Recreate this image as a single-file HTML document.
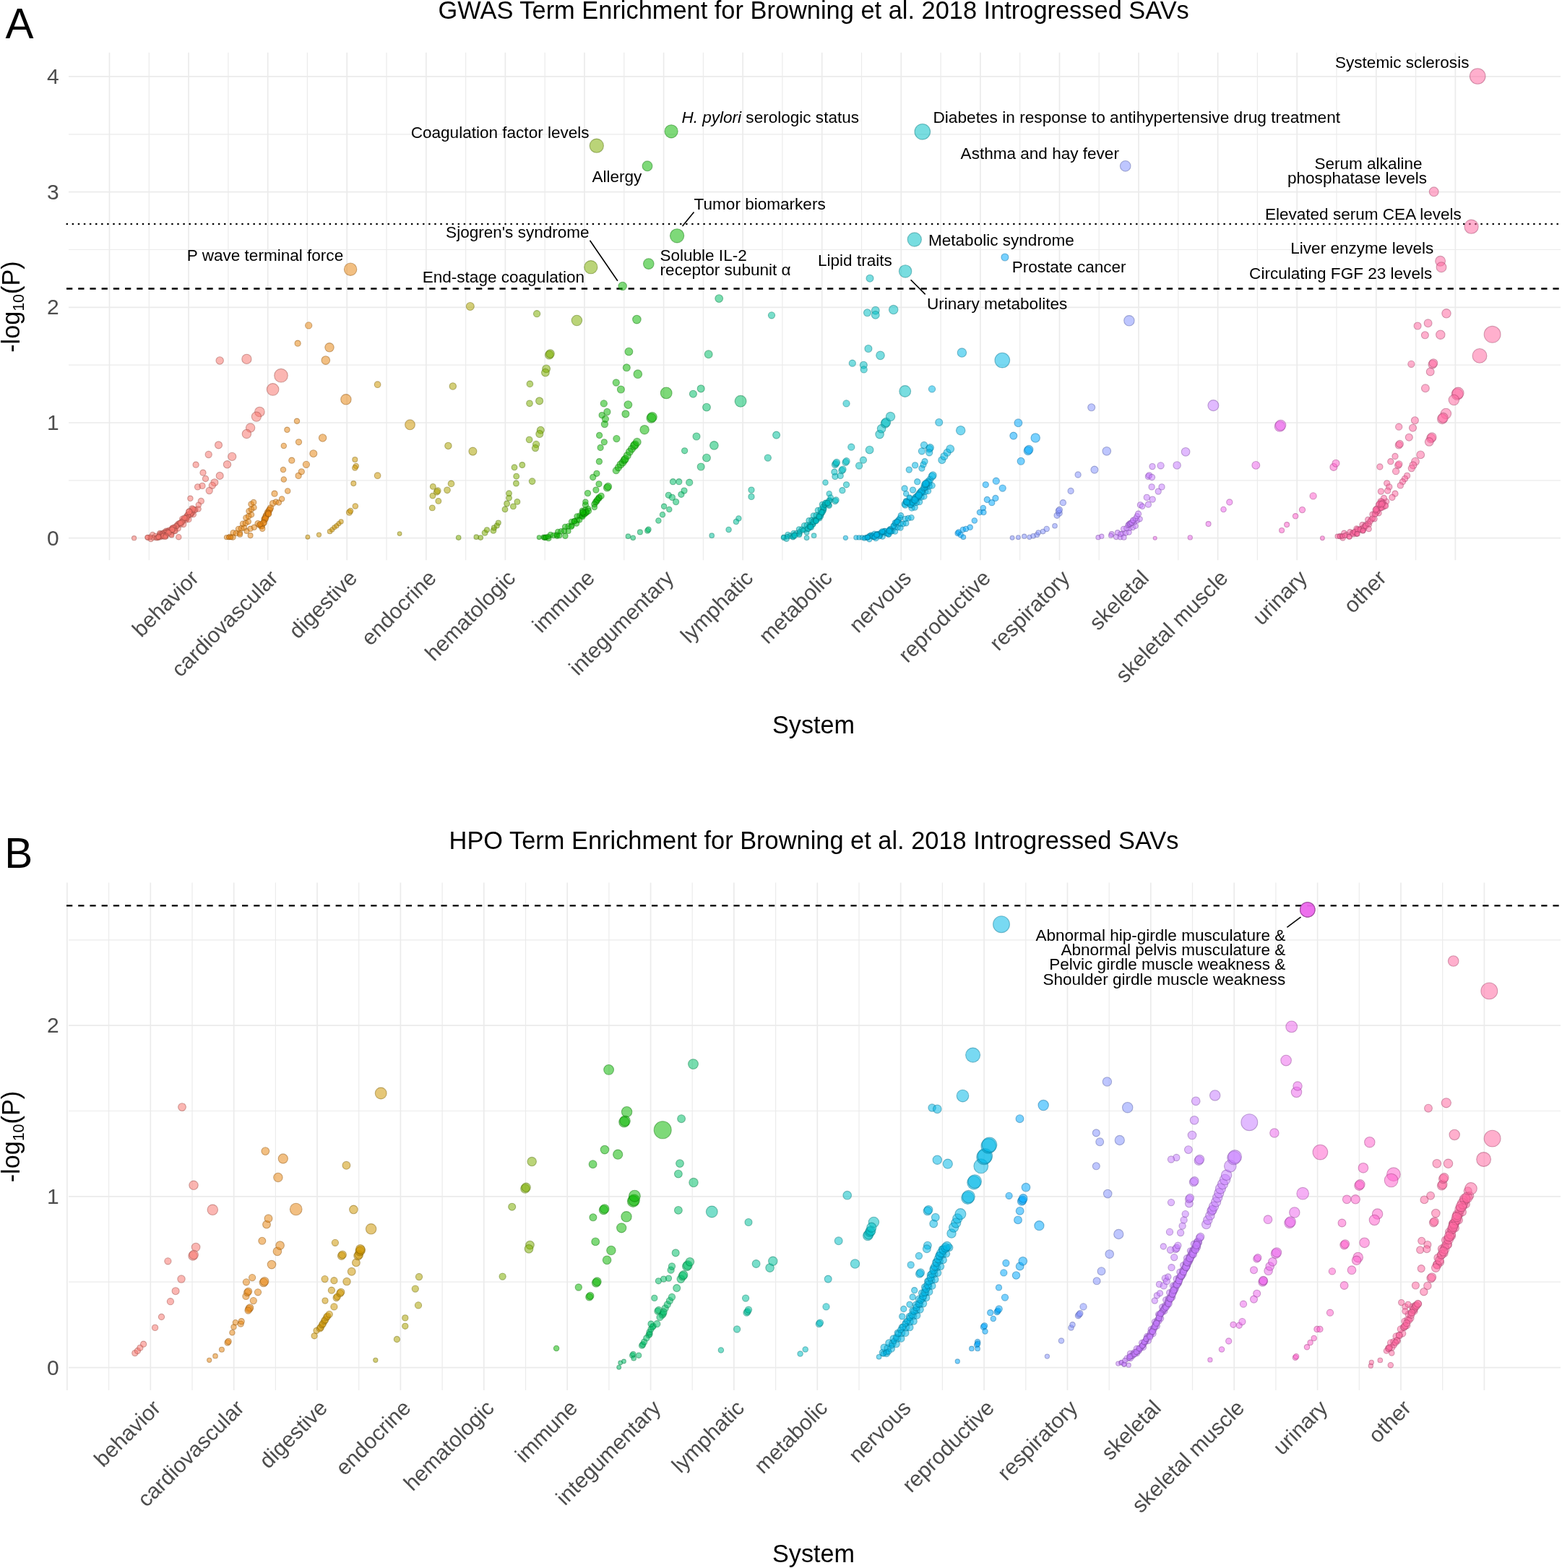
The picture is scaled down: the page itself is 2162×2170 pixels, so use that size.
<!DOCTYPE html>
<html><head><meta charset="utf-8"><title>GWAS and HPO Term Enrichment</title>
<style>html,body{margin:0;padding:0;background:#fff;}svg{display:block;}#w{width:2162px;height:2170px;}</style>
</head><body><div id="w">
<svg width="2162" height="2170" viewBox="0 0 2162 2170">
<rect width="2162" height="2170" fill="#ffffff"/>
<line x1="95" y1="744.7" x2="2160" y2="744.7" stroke="#EBEBEB" stroke-width="1.7"/>
<line x1="95" y1="664.9" x2="2160" y2="664.9" stroke="#EBEBEB" stroke-width="1.2"/>
<line x1="95" y1="585.0" x2="2160" y2="585.0" stroke="#EBEBEB" stroke-width="1.7"/>
<line x1="95" y1="505.2" x2="2160" y2="505.2" stroke="#EBEBEB" stroke-width="1.2"/>
<line x1="95" y1="425.3" x2="2160" y2="425.3" stroke="#EBEBEB" stroke-width="1.7"/>
<line x1="95" y1="345.5" x2="2160" y2="345.5" stroke="#EBEBEB" stroke-width="1.2"/>
<line x1="95" y1="265.6" x2="2160" y2="265.6" stroke="#EBEBEB" stroke-width="1.7"/>
<line x1="95" y1="185.8" x2="2160" y2="185.8" stroke="#EBEBEB" stroke-width="1.2"/>
<line x1="95" y1="105.9" x2="2160" y2="105.9" stroke="#EBEBEB" stroke-width="1.7"/>
<line x1="151.5" y1="72.7" x2="151.5" y2="775.3" stroke="#EBEBEB" stroke-width="1.7"/>
<line x1="206.3" y1="72.7" x2="206.3" y2="775.3" stroke="#EBEBEB" stroke-width="1.2"/>
<line x1="261.1" y1="72.7" x2="261.1" y2="775.3" stroke="#EBEBEB" stroke-width="1.7"/>
<line x1="315.9" y1="72.7" x2="315.9" y2="775.3" stroke="#EBEBEB" stroke-width="1.2"/>
<line x1="370.7" y1="72.7" x2="370.7" y2="775.3" stroke="#EBEBEB" stroke-width="1.7"/>
<line x1="425.4" y1="72.7" x2="425.4" y2="775.3" stroke="#EBEBEB" stroke-width="1.2"/>
<line x1="480.2" y1="72.7" x2="480.2" y2="775.3" stroke="#EBEBEB" stroke-width="1.7"/>
<line x1="535.0" y1="72.7" x2="535.0" y2="775.3" stroke="#EBEBEB" stroke-width="1.2"/>
<line x1="589.8" y1="72.7" x2="589.8" y2="775.3" stroke="#EBEBEB" stroke-width="1.7"/>
<line x1="644.6" y1="72.7" x2="644.6" y2="775.3" stroke="#EBEBEB" stroke-width="1.2"/>
<line x1="699.4" y1="72.7" x2="699.4" y2="775.3" stroke="#EBEBEB" stroke-width="1.7"/>
<line x1="754.2" y1="72.7" x2="754.2" y2="775.3" stroke="#EBEBEB" stroke-width="1.2"/>
<line x1="809.0" y1="72.7" x2="809.0" y2="775.3" stroke="#EBEBEB" stroke-width="1.7"/>
<line x1="863.8" y1="72.7" x2="863.8" y2="775.3" stroke="#EBEBEB" stroke-width="1.2"/>
<line x1="918.6" y1="72.7" x2="918.6" y2="775.3" stroke="#EBEBEB" stroke-width="1.7"/>
<line x1="973.4" y1="72.7" x2="973.4" y2="775.3" stroke="#EBEBEB" stroke-width="1.2"/>
<line x1="1028.1" y1="72.7" x2="1028.1" y2="775.3" stroke="#EBEBEB" stroke-width="1.7"/>
<line x1="1082.9" y1="72.7" x2="1082.9" y2="775.3" stroke="#EBEBEB" stroke-width="1.2"/>
<line x1="1137.7" y1="72.7" x2="1137.7" y2="775.3" stroke="#EBEBEB" stroke-width="1.7"/>
<line x1="1192.5" y1="72.7" x2="1192.5" y2="775.3" stroke="#EBEBEB" stroke-width="1.2"/>
<line x1="1247.3" y1="72.7" x2="1247.3" y2="775.3" stroke="#EBEBEB" stroke-width="1.7"/>
<line x1="1302.1" y1="72.7" x2="1302.1" y2="775.3" stroke="#EBEBEB" stroke-width="1.2"/>
<line x1="1356.9" y1="72.7" x2="1356.9" y2="775.3" stroke="#EBEBEB" stroke-width="1.7"/>
<line x1="1411.7" y1="72.7" x2="1411.7" y2="775.3" stroke="#EBEBEB" stroke-width="1.2"/>
<line x1="1466.5" y1="72.7" x2="1466.5" y2="775.3" stroke="#EBEBEB" stroke-width="1.7"/>
<line x1="1521.2" y1="72.7" x2="1521.2" y2="775.3" stroke="#EBEBEB" stroke-width="1.2"/>
<line x1="1576.0" y1="72.7" x2="1576.0" y2="775.3" stroke="#EBEBEB" stroke-width="1.7"/>
<line x1="1630.8" y1="72.7" x2="1630.8" y2="775.3" stroke="#EBEBEB" stroke-width="1.2"/>
<line x1="1685.6" y1="72.7" x2="1685.6" y2="775.3" stroke="#EBEBEB" stroke-width="1.7"/>
<line x1="1740.4" y1="72.7" x2="1740.4" y2="775.3" stroke="#EBEBEB" stroke-width="1.2"/>
<line x1="1795.2" y1="72.7" x2="1795.2" y2="775.3" stroke="#EBEBEB" stroke-width="1.7"/>
<line x1="1850.0" y1="72.7" x2="1850.0" y2="775.3" stroke="#EBEBEB" stroke-width="1.2"/>
<line x1="1904.8" y1="72.7" x2="1904.8" y2="775.3" stroke="#EBEBEB" stroke-width="1.7"/>
<line x1="1959.6" y1="72.7" x2="1959.6" y2="775.3" stroke="#EBEBEB" stroke-width="1.2"/>
<line x1="2014.4" y1="72.7" x2="2014.4" y2="775.3" stroke="#EBEBEB" stroke-width="1.7"/>
<line x1="92.7" y1="310.0" x2="2160" y2="310.0" stroke="#000" stroke-width="2.5" stroke-linecap="round" stroke-dasharray="0.2 7.89"/>
<line x1="92" y1="399.5" x2="2160" y2="399.5" stroke="#000" stroke-width="2.3" stroke-dasharray="8.3 7.9"/>
<g fill-opacity="0.53" stroke-opacity="0.45" stroke-width="1.1">
<circle cx="205.0" cy="744.0" r="3.8" fill="#F8766D" stroke="#994943"/>
<circle cx="208.8" cy="745.8" r="3.8" fill="#F8766D" stroke="#994943"/>
<circle cx="211.2" cy="740.2" r="3.8" fill="#F8766D" stroke="#994943"/>
<circle cx="215.0" cy="742.0" r="3.8" fill="#F8766D" stroke="#994943"/>
<circle cx="218.8" cy="743.8" r="3.8" fill="#F8766D" stroke="#994943"/>
<circle cx="221.2" cy="738.2" r="3.8" fill="#F8766D" stroke="#994943"/>
<circle cx="225.0" cy="740.0" r="3.8" fill="#F8766D" stroke="#994943"/>
<circle cx="229.1" cy="740.9" r="3.8" fill="#F8766D" stroke="#994943"/>
<circle cx="229.9" cy="734.9" r="3.8" fill="#F8766D" stroke="#994943"/>
<circle cx="234.0" cy="735.8" r="3.8" fill="#F8766D" stroke="#994943"/>
<circle cx="238.1" cy="736.7" r="3.8" fill="#F8766D" stroke="#994943"/>
<circle cx="238.5" cy="731.0" r="3.8" fill="#F8766D" stroke="#994943"/>
<circle cx="242.5" cy="731.2" r="3.8" fill="#F8766D" stroke="#994943"/>
<circle cx="246.5" cy="731.3" r="3.8" fill="#F8766D" stroke="#994943"/>
<circle cx="246.0" cy="725.5" r="3.8" fill="#F8766D" stroke="#994943"/>
<circle cx="250.0" cy="725.7" r="3.8" fill="#F8766D" stroke="#994943"/>
<circle cx="254.0" cy="725.8" r="3.8" fill="#F8766D" stroke="#994943"/>
<circle cx="253.2" cy="720.3" r="3.8" fill="#F8766D" stroke="#994943"/>
<circle cx="257.2" cy="719.7" r="3.8" fill="#F8766D" stroke="#994943"/>
<circle cx="261.2" cy="719.0" r="3.8" fill="#F8766D" stroke="#994943"/>
<circle cx="259.7" cy="713.3" r="3.8" fill="#F8766D" stroke="#994943"/>
<circle cx="263.7" cy="712.7" r="3.8" fill="#F8766D" stroke="#994943"/>
<circle cx="267.7" cy="712.0" r="3.8" fill="#F8766D" stroke="#994943"/>
<circle cx="266.1" cy="706.4" r="3.8" fill="#F8766D" stroke="#994943"/>
<circle cx="270.3" cy="705.3" r="3.8" fill="#F8766D" stroke="#994943"/>
<circle cx="274.5" cy="704.3" r="3.8" fill="#F8766D" stroke="#994943"/>
<circle cx="318.0" cy="743.0" r="3.8" fill="#E68613" stroke="#8E530B"/>
<circle cx="322.3" cy="743.4" r="3.8" fill="#E68613" stroke="#8E530B"/>
<circle cx="322.7" cy="737.3" r="3.8" fill="#E68613" stroke="#8E530B"/>
<circle cx="327.0" cy="737.8" r="3.8" fill="#E68613" stroke="#8E530B"/>
<circle cx="331.9" cy="737.6" r="3.8" fill="#E68613" stroke="#8E530B"/>
<circle cx="330.1" cy="732.0" r="3.8" fill="#E68613" stroke="#8E530B"/>
<circle cx="334.0" cy="731.2" r="3.8" fill="#E68613" stroke="#8E530B"/>
<circle cx="337.9" cy="730.4" r="3.8" fill="#E68613" stroke="#8E530B"/>
<circle cx="336.1" cy="724.8" r="3.8" fill="#E68613" stroke="#8E530B"/>
<circle cx="340.0" cy="724.0" r="3.8" fill="#E68613" stroke="#8E530B"/>
<circle cx="343.7" cy="721.8" r="3.8" fill="#E68613" stroke="#8E530B"/>
<circle cx="340.5" cy="716.6" r="3.8" fill="#E68613" stroke="#8E530B"/>
<circle cx="344.2" cy="714.4" r="3.8" fill="#E68613" stroke="#8E530B"/>
<circle cx="347.9" cy="712.2" r="3.8" fill="#E68613" stroke="#8E530B"/>
<circle cx="344.6" cy="707.3" r="3.8" fill="#E68613" stroke="#8E530B"/>
<circle cx="348.0" cy="704.8" r="3.8" fill="#E68613" stroke="#8E530B"/>
<circle cx="351.4" cy="702.3" r="3.8" fill="#E68613" stroke="#8E530B"/>
<circle cx="347.6" cy="697.7" r="3.8" fill="#E68613" stroke="#8E530B"/>
<circle cx="351.0" cy="695.2" r="3.8" fill="#E68613" stroke="#8E530B"/>
<circle cx="755.0" cy="744.0" r="3.8" fill="#0CB702" stroke="#077101"/>
<circle cx="759.3" cy="744.9" r="3.8" fill="#0CB702" stroke="#077101"/>
<circle cx="762.0" cy="740.1" r="3.8" fill="#0CB702" stroke="#077101"/>
<circle cx="766.2" cy="741.0" r="3.8" fill="#0CB702" stroke="#077101"/>
<circle cx="771.1" cy="741.6" r="3.8" fill="#0CB702" stroke="#077101"/>
<circle cx="772.2" cy="736.0" r="3.8" fill="#0CB702" stroke="#077101"/>
<circle cx="776.7" cy="735.3" r="3.8" fill="#0CB702" stroke="#077101"/>
<circle cx="781.1" cy="734.6" r="3.8" fill="#0CB702" stroke="#077101"/>
<circle cx="782.2" cy="729.0" r="3.8" fill="#0CB702" stroke="#077101"/>
<circle cx="786.7" cy="728.3" r="3.8" fill="#0CB702" stroke="#077101"/>
<circle cx="791.4" cy="727.4" r="3.8" fill="#0CB702" stroke="#077101"/>
<circle cx="791.1" cy="722.1" r="3.8" fill="#0CB702" stroke="#077101"/>
<circle cx="795.0" cy="721.0" r="3.8" fill="#0CB702" stroke="#077101"/>
<circle cx="798.9" cy="719.9" r="3.8" fill="#0CB702" stroke="#077101"/>
<circle cx="798.6" cy="714.6" r="3.8" fill="#0CB702" stroke="#077101"/>
<circle cx="802.5" cy="713.5" r="3.8" fill="#0CB702" stroke="#077101"/>
<circle cx="806.5" cy="712.3" r="3.8" fill="#0CB702" stroke="#077101"/>
<circle cx="806.0" cy="706.9" r="3.8" fill="#0CB702" stroke="#077101"/>
<circle cx="810.0" cy="705.5" r="3.8" fill="#0CB702" stroke="#077101"/>
<circle cx="814.0" cy="704.1" r="3.8" fill="#0CB702" stroke="#077101"/>
<circle cx="1085.0" cy="744.0" r="3.8" fill="#00BFC4" stroke="#007679"/>
<circle cx="1088.6" cy="745.6" r="3.8" fill="#00BFC4" stroke="#007679"/>
<circle cx="1090.4" cy="740.0" r="3.8" fill="#00BFC4" stroke="#007679"/>
<circle cx="1094.0" cy="741.6" r="3.8" fill="#00BFC4" stroke="#007679"/>
<circle cx="1097.6" cy="743.2" r="3.8" fill="#00BFC4" stroke="#007679"/>
<circle cx="1098.5" cy="738.0" r="3.8" fill="#00BFC4" stroke="#007679"/>
<circle cx="1102.5" cy="738.2" r="3.8" fill="#00BFC4" stroke="#007679"/>
<circle cx="1106.5" cy="738.3" r="3.8" fill="#00BFC4" stroke="#007679"/>
<circle cx="1106.0" cy="732.5" r="3.8" fill="#00BFC4" stroke="#007679"/>
<circle cx="1110.0" cy="732.7" r="3.8" fill="#00BFC4" stroke="#007679"/>
<circle cx="1114.0" cy="732.8" r="3.8" fill="#00BFC4" stroke="#007679"/>
<circle cx="1113.2" cy="727.3" r="3.8" fill="#00BFC4" stroke="#007679"/>
<circle cx="1117.1" cy="726.7" r="3.8" fill="#00BFC4" stroke="#007679"/>
<circle cx="1121.1" cy="726.1" r="3.8" fill="#00BFC4" stroke="#007679"/>
<circle cx="1119.6" cy="720.4" r="3.8" fill="#00BFC4" stroke="#007679"/>
<circle cx="1123.6" cy="719.9" r="3.8" fill="#00BFC4" stroke="#007679"/>
<circle cx="1127.5" cy="719.3" r="3.8" fill="#00BFC4" stroke="#007679"/>
<circle cx="1126.0" cy="713.6" r="3.8" fill="#00BFC4" stroke="#007679"/>
<circle cx="1130.0" cy="713.0" r="3.8" fill="#00BFC4" stroke="#007679"/>
<circle cx="1134.0" cy="711.8" r="3.8" fill="#00BFC4" stroke="#007679"/>
<circle cx="1132.0" cy="706.2" r="3.8" fill="#00BFC4" stroke="#007679"/>
<circle cx="1136.0" cy="705.0" r="3.8" fill="#00BFC4" stroke="#007679"/>
<circle cx="1140.0" cy="703.8" r="3.8" fill="#00BFC4" stroke="#007679"/>
<circle cx="1138.0" cy="698.2" r="3.8" fill="#00BFC4" stroke="#007679"/>
<circle cx="1200.0" cy="744.0" r="3.8" fill="#00B8E7" stroke="#00728F"/>
<circle cx="1203.3" cy="746.1" r="3.8" fill="#00B8E7" stroke="#00728F"/>
<circle cx="1205.7" cy="740.7" r="3.8" fill="#00B8E7" stroke="#00728F"/>
<circle cx="1209.0" cy="742.8" r="3.8" fill="#00B8E7" stroke="#00728F"/>
<circle cx="1212.3" cy="744.9" r="3.8" fill="#00B8E7" stroke="#00728F"/>
<circle cx="1214.2" cy="739.6" r="3.8" fill="#00B8E7" stroke="#00728F"/>
<circle cx="1217.9" cy="741.0" r="3.8" fill="#00B8E7" stroke="#00728F"/>
<circle cx="1221.5" cy="742.4" r="3.8" fill="#00B8E7" stroke="#00728F"/>
<circle cx="1222.7" cy="736.6" r="3.8" fill="#00B8E7" stroke="#00728F"/>
<circle cx="1226.4" cy="738.0" r="3.8" fill="#00B8E7" stroke="#00728F"/>
<circle cx="1230.1" cy="739.4" r="3.8" fill="#00B8E7" stroke="#00728F"/>
<circle cx="1231.3" cy="733.6" r="3.8" fill="#00B8E7" stroke="#00728F"/>
<circle cx="1235.0" cy="735.0" r="3.8" fill="#00B8E7" stroke="#00728F"/>
<circle cx="1238.9" cy="735.4" r="3.8" fill="#00B8E7" stroke="#00728F"/>
<circle cx="1238.6" cy="729.6" r="3.8" fill="#00B8E7" stroke="#00728F"/>
<circle cx="1242.5" cy="730.0" r="3.8" fill="#00B8E7" stroke="#00728F"/>
<circle cx="1246.4" cy="730.4" r="3.8" fill="#00B8E7" stroke="#00728F"/>
<circle cx="1246.1" cy="724.6" r="3.8" fill="#00B8E7" stroke="#00728F"/>
<circle cx="1250.0" cy="725.0" r="3.8" fill="#00B8E7" stroke="#00728F"/>
<circle cx="1254.2" cy="724.1" r="3.8" fill="#00B8E7" stroke="#00728F"/>
<circle cx="1253.0" cy="718.1" r="3.8" fill="#00B8E7" stroke="#00728F"/>
<circle cx="1257.2" cy="717.2" r="3.8" fill="#00B8E7" stroke="#00728F"/>
<circle cx="1261.4" cy="716.3" r="3.8" fill="#00B8E7" stroke="#00728F"/>
<circle cx="1262.0" cy="703.0" r="4.2" fill="#00B8E7" stroke="#00728F"/>
<circle cx="1266.1" cy="702.1" r="4.2" fill="#00B8E7" stroke="#00728F"/>
<circle cx="1264.4" cy="696.4" r="4.2" fill="#00B8E7" stroke="#00728F"/>
<circle cx="1268.5" cy="695.5" r="4.2" fill="#00B8E7" stroke="#00728F"/>
<circle cx="1272.6" cy="694.6" r="4.2" fill="#00B8E7" stroke="#00728F"/>
<circle cx="1270.9" cy="688.9" r="4.2" fill="#00B8E7" stroke="#00728F"/>
<circle cx="1275.0" cy="688.0" r="4.2" fill="#00B8E7" stroke="#00728F"/>
<circle cx="1278.9" cy="687.0" r="4.2" fill="#00B8E7" stroke="#00728F"/>
<circle cx="1276.8" cy="681.5" r="4.2" fill="#00B8E7" stroke="#00728F"/>
<circle cx="1280.6" cy="680.5" r="4.2" fill="#00B8E7" stroke="#00728F"/>
<circle cx="1284.5" cy="679.5" r="4.2" fill="#00B8E7" stroke="#00728F"/>
<circle cx="1282.4" cy="674.0" r="4.2" fill="#00B8E7" stroke="#00728F"/>
<circle cx="1286.2" cy="673.0" r="4.2" fill="#00B8E7" stroke="#00728F"/>
<circle cx="1290.1" cy="672.0" r="4.2" fill="#00B8E7" stroke="#00728F"/>
<circle cx="1545.0" cy="743.0" r="3.6" fill="#C77CFF" stroke="#7B4C9E"/>
<circle cx="1550.6" cy="743.4" r="3.6" fill="#C77CFF" stroke="#7B4C9E"/>
<circle cx="1553.8" cy="738.4" r="3.6" fill="#C77CFF" stroke="#7B4C9E"/>
<circle cx="1558.2" cy="737.5" r="3.6" fill="#C77CFF" stroke="#7B4C9E"/>
<circle cx="1562.7" cy="736.6" r="3.6" fill="#C77CFF" stroke="#7B4C9E"/>
<circle cx="1563.5" cy="730.9" r="3.6" fill="#C77CFF" stroke="#7B4C9E"/>
<circle cx="1568.0" cy="730.0" r="3.6" fill="#C77CFF" stroke="#7B4C9E"/>
<circle cx="1571.7" cy="727.9" r="3.6" fill="#C77CFF" stroke="#7B4C9E"/>
<circle cx="1570.3" cy="722.5" r="3.6" fill="#C77CFF" stroke="#7B4C9E"/>
<circle cx="1574.0" cy="720.4" r="3.6" fill="#C77CFF" stroke="#7B4C9E"/>
<circle cx="1577.7" cy="718.3" r="3.6" fill="#C77CFF" stroke="#7B4C9E"/>
<circle cx="1855.0" cy="742.0" r="3.8" fill="#FF68A1" stroke="#9E4063"/>
<circle cx="1858.6" cy="744.3" r="3.8" fill="#FF68A1" stroke="#9E4063"/>
<circle cx="1860.4" cy="737.9" r="3.8" fill="#FF68A1" stroke="#9E4063"/>
<circle cx="1864.0" cy="740.2" r="3.8" fill="#FF68A1" stroke="#9E4063"/>
<circle cx="1867.6" cy="742.5" r="3.8" fill="#FF68A1" stroke="#9E4063"/>
<circle cx="1868.6" cy="736.4" r="3.8" fill="#FF68A1" stroke="#9E4063"/>
<circle cx="1873.0" cy="737.4" r="3.8" fill="#FF68A1" stroke="#9E4063"/>
<circle cx="1877.4" cy="738.4" r="3.8" fill="#FF68A1" stroke="#9E4063"/>
<circle cx="1877.6" cy="731.6" r="3.8" fill="#FF68A1" stroke="#9E4063"/>
<circle cx="1882.0" cy="732.6" r="3.8" fill="#FF68A1" stroke="#9E4063"/>
<circle cx="1887.0" cy="733.2" r="3.8" fill="#FF68A1" stroke="#9E4063"/>
<circle cx="1885.6" cy="726.4" r="3.8" fill="#FF68A1" stroke="#9E4063"/>
<circle cx="1890.2" cy="726.2" r="3.8" fill="#FF68A1" stroke="#9E4063"/>
<circle cx="1894.8" cy="726.0" r="3.8" fill="#FF68A1" stroke="#9E4063"/>
<circle cx="1893.4" cy="719.2" r="3.8" fill="#FF68A1" stroke="#9E4063"/>
<circle cx="1898.0" cy="719.0" r="3.8" fill="#FF68A1" stroke="#9E4063"/>
<circle cx="1902.4" cy="718.1" r="3.8" fill="#FF68A1" stroke="#9E4063"/>
<circle cx="1899.6" cy="711.9" r="3.8" fill="#FF68A1" stroke="#9E4063"/>
<circle cx="1904.0" cy="711.0" r="3.8" fill="#FF68A1" stroke="#9E4063"/>
<circle cx="1908.4" cy="710.1" r="3.8" fill="#FF68A1" stroke="#9E4063"/>
<circle cx="1905.6" cy="703.9" r="3.8" fill="#FF68A1" stroke="#9E4063"/>
<circle cx="1910.0" cy="703.0" r="3.8" fill="#FF68A1" stroke="#9E4063"/>
<circle cx="1914.2" cy="702.0" r="3.8" fill="#FF68A1" stroke="#9E4063"/>
<circle cx="1910.6" cy="696.2" r="3.8" fill="#FF68A1" stroke="#9E4063"/>
<circle cx="1914.8" cy="695.2" r="3.8" fill="#FF68A1" stroke="#9E4063"/>
<circle cx="1919.0" cy="694.2" r="3.8" fill="#FF68A1" stroke="#9E4063"/>
<circle cx="304.2" cy="499.0" r="5.2" fill="#F8766D" stroke="#994943"/>
<circle cx="341.4" cy="496.9" r="6.6" fill="#F8766D" stroke="#994943"/>
<circle cx="389.0" cy="519.7" r="9.3" fill="#F8766D" stroke="#994943"/>
<circle cx="377.6" cy="538.9" r="8.3" fill="#F8766D" stroke="#994943"/>
<circle cx="359.4" cy="570.0" r="6.8" fill="#F8766D" stroke="#994943"/>
<circle cx="354.9" cy="576.6" r="6.6" fill="#F8766D" stroke="#994943"/>
<circle cx="346.6" cy="592.1" r="6.2" fill="#F8766D" stroke="#994943"/>
<circle cx="341.4" cy="600.4" r="6.2" fill="#F8766D" stroke="#994943"/>
<circle cx="302.5" cy="615.9" r="5.0" fill="#F8766D" stroke="#994943"/>
<circle cx="288.7" cy="629.0" r="4.6" fill="#F8766D" stroke="#994943"/>
<circle cx="321.2" cy="631.9" r="5.6" fill="#F8766D" stroke="#994943"/>
<circle cx="314.5" cy="642.8" r="5.2" fill="#F8766D" stroke="#994943"/>
<circle cx="271.1" cy="643.2" r="4.1" fill="#F8766D" stroke="#994943"/>
<circle cx="281.0" cy="654.2" r="4.1" fill="#F8766D" stroke="#994943"/>
<circle cx="284.5" cy="662.5" r="4.1" fill="#F8766D" stroke="#994943"/>
<circle cx="304.2" cy="658.4" r="5.0" fill="#F8766D" stroke="#994943"/>
<circle cx="296.9" cy="667.7" r="5.0" fill="#F8766D" stroke="#994943"/>
<circle cx="293.8" cy="671.8" r="4.6" fill="#F8766D" stroke="#994943"/>
<circle cx="289.7" cy="679.0" r="4.6" fill="#F8766D" stroke="#994943"/>
<circle cx="273.6" cy="673.9" r="4.1" fill="#F8766D" stroke="#994943"/>
<circle cx="280.0" cy="672.4" r="4.1" fill="#F8766D" stroke="#994943"/>
<circle cx="263.4" cy="689.8" r="3.7" fill="#F8766D" stroke="#994943"/>
<circle cx="278.3" cy="693.5" r="4.1" fill="#F8766D" stroke="#994943"/>
<circle cx="274.8" cy="698.7" r="3.7" fill="#F8766D" stroke="#994943"/>
<circle cx="269.0" cy="706.0" r="4.1" fill="#F8766D" stroke="#994943"/>
<circle cx="265.9" cy="709.1" r="4.1" fill="#F8766D" stroke="#994943"/>
<circle cx="264.8" cy="710.1" r="4.1" fill="#F8766D" stroke="#994943"/>
<circle cx="262.8" cy="711.1" r="4.1" fill="#F8766D" stroke="#994943"/>
<circle cx="263.6" cy="710.4" r="4.1" fill="#F8766D" stroke="#994943"/>
<circle cx="259.7" cy="713.2" r="4.1" fill="#F8766D" stroke="#994943"/>
<circle cx="259.7" cy="713.0" r="4.1" fill="#F8766D" stroke="#994943"/>
<circle cx="257.6" cy="716.3" r="4.1" fill="#F8766D" stroke="#994943"/>
<circle cx="258.1" cy="717.2" r="4.1" fill="#F8766D" stroke="#994943"/>
<circle cx="253.5" cy="719.4" r="3.7" fill="#F8766D" stroke="#994943"/>
<circle cx="252.3" cy="718.0" r="3.7" fill="#F8766D" stroke="#994943"/>
<circle cx="251.4" cy="722.5" r="3.7" fill="#F8766D" stroke="#994943"/>
<circle cx="252.4" cy="722.3" r="3.7" fill="#F8766D" stroke="#994943"/>
<circle cx="247.3" cy="725.6" r="3.7" fill="#F8766D" stroke="#994943"/>
<circle cx="248.1" cy="724.1" r="3.7" fill="#F8766D" stroke="#994943"/>
<circle cx="244.2" cy="727.7" r="3.7" fill="#F8766D" stroke="#994943"/>
<circle cx="244.0" cy="728.3" r="3.7" fill="#F8766D" stroke="#994943"/>
<circle cx="241.1" cy="729.8" r="3.7" fill="#F8766D" stroke="#994943"/>
<circle cx="240.2" cy="731.1" r="3.7" fill="#F8766D" stroke="#994943"/>
<circle cx="238.0" cy="731.8" r="3.7" fill="#F8766D" stroke="#994943"/>
<circle cx="239.2" cy="730.4" r="3.7" fill="#F8766D" stroke="#994943"/>
<circle cx="234.9" cy="733.9" r="3.7" fill="#F8766D" stroke="#994943"/>
<circle cx="233.4" cy="734.0" r="3.7" fill="#F8766D" stroke="#994943"/>
<circle cx="231.7" cy="736.0" r="3.7" fill="#F8766D" stroke="#994943"/>
<circle cx="233.1" cy="735.6" r="3.7" fill="#F8766D" stroke="#994943"/>
<circle cx="230.9" cy="735.7" r="3.7" fill="#F8766D" stroke="#994943"/>
<circle cx="228.6" cy="737.6" r="3.7" fill="#F8766D" stroke="#994943"/>
<circle cx="227.2" cy="736.8" r="3.7" fill="#F8766D" stroke="#994943"/>
<circle cx="228.5" cy="737.6" r="3.7" fill="#F8766D" stroke="#994943"/>
<circle cx="225.5" cy="739.1" r="3.7" fill="#F8766D" stroke="#994943"/>
<circle cx="224.7" cy="738.3" r="3.7" fill="#F8766D" stroke="#994943"/>
<circle cx="224.7" cy="738.9" r="3.7" fill="#F8766D" stroke="#994943"/>
<circle cx="222.4" cy="740.5" r="3.7" fill="#F8766D" stroke="#994943"/>
<circle cx="221.8" cy="739.1" r="3.7" fill="#F8766D" stroke="#994943"/>
<circle cx="223.4" cy="740.7" r="3.7" fill="#F8766D" stroke="#994943"/>
<circle cx="220.4" cy="742.2" r="3.7" fill="#F8766D" stroke="#994943"/>
<circle cx="220.8" cy="741.2" r="3.7" fill="#F8766D" stroke="#994943"/>
<circle cx="221.8" cy="743.2" r="3.7" fill="#F8766D" stroke="#994943"/>
<circle cx="247.3" cy="743.2" r="3.7" fill="#F8766D" stroke="#994943"/>
<circle cx="242.5" cy="734.9" r="3.7" fill="#F8766D" stroke="#994943"/>
<circle cx="241.4" cy="734.4" r="3.7" fill="#F8766D" stroke="#994943"/>
<circle cx="236.9" cy="740.1" r="3.3" fill="#F8766D" stroke="#994943"/>
<circle cx="237.6" cy="740.7" r="3.3" fill="#F8766D" stroke="#994943"/>
<circle cx="212.1" cy="744.2" r="3.1" fill="#F8766D" stroke="#994943"/>
<circle cx="207.9" cy="743.2" r="3.1" fill="#F8766D" stroke="#994943"/>
<circle cx="203.8" cy="743.6" r="3.1" fill="#F8766D" stroke="#994943"/>
<circle cx="185.6" cy="744.7" r="3.1" fill="#F8766D" stroke="#994943"/>
<circle cx="216.2" cy="744.7" r="3.1" fill="#F8766D" stroke="#994943"/>
<circle cx="217.5" cy="744.4" r="3.1" fill="#F8766D" stroke="#994943"/>
<circle cx="224.5" cy="742.2" r="3.3" fill="#F8766D" stroke="#994943"/>
<circle cx="225.5" cy="742.7" r="3.3" fill="#F8766D" stroke="#994943"/>
<circle cx="223.9" cy="742.4" r="3.3" fill="#F8766D" stroke="#994943"/>
<circle cx="265.9" cy="703.9" r="4.1" fill="#F8766D" stroke="#994943"/>
<circle cx="267.0" cy="704.9" r="4.1" fill="#F8766D" stroke="#994943"/>
<circle cx="261.8" cy="708.0" r="4.1" fill="#F8766D" stroke="#994943"/>
<circle cx="261.8" cy="708.3" r="4.1" fill="#F8766D" stroke="#994943"/>
<circle cx="256.6" cy="717.3" r="3.7" fill="#F8766D" stroke="#994943"/>
<circle cx="255.2" cy="716.6" r="3.7" fill="#F8766D" stroke="#994943"/>
<circle cx="249.3" cy="724.0" r="3.7" fill="#F8766D" stroke="#994943"/>
<circle cx="250.2" cy="723.7" r="3.7" fill="#F8766D" stroke="#994943"/>
<circle cx="239.0" cy="732.9" r="3.7" fill="#F8766D" stroke="#994943"/>
<circle cx="238.0" cy="733.0" r="3.7" fill="#F8766D" stroke="#994943"/>
<circle cx="232.8" cy="737.0" r="3.7" fill="#F8766D" stroke="#994943"/>
<circle cx="233.4" cy="737.5" r="3.7" fill="#F8766D" stroke="#994943"/>
<circle cx="226.6" cy="741.1" r="3.7" fill="#F8766D" stroke="#994943"/>
<circle cx="226.2" cy="741.0" r="3.7" fill="#F8766D" stroke="#994943"/>
<circle cx="226.6" cy="742.0" r="3.7" fill="#F8766D" stroke="#994943"/>
<circle cx="219.3" cy="743.2" r="3.3" fill="#F8766D" stroke="#994943"/>
<circle cx="219.4" cy="742.9" r="3.3" fill="#F8766D" stroke="#994943"/>
<circle cx="229.7" cy="742.6" r="3.3" fill="#F8766D" stroke="#994943"/>
<circle cx="229.6" cy="741.2" r="3.3" fill="#F8766D" stroke="#994943"/>
<circle cx="228.3" cy="743.2" r="3.3" fill="#F8766D" stroke="#994943"/>
<circle cx="313.5" cy="743.6" r="3.1" fill="#E68613" stroke="#8E530B"/>
<circle cx="316.6" cy="743.6" r="3.1" fill="#E68613" stroke="#8E530B"/>
<circle cx="319.7" cy="743.6" r="3.1" fill="#E68613" stroke="#8E530B"/>
<circle cx="332.1" cy="739.7" r="3.5" fill="#E68613" stroke="#8E530B"/>
<circle cx="341.4" cy="734.9" r="3.5" fill="#E68613" stroke="#8E530B"/>
<circle cx="346.6" cy="731.8" r="3.7" fill="#E68613" stroke="#8E530B"/>
<circle cx="346.6" cy="741.1" r="3.5" fill="#E68613" stroke="#8E530B"/>
<circle cx="351.8" cy="729.8" r="3.7" fill="#E68613" stroke="#8E530B"/>
<circle cx="357.0" cy="724.6" r="4.1" fill="#E68613" stroke="#8E530B"/>
<circle cx="361.1" cy="727.7" r="4.1" fill="#E68613" stroke="#8E530B"/>
<circle cx="362.5" cy="728.0" r="4.1" fill="#E68613" stroke="#8E530B"/>
<circle cx="363.2" cy="731.8" r="3.7" fill="#E68613" stroke="#8E530B"/>
<circle cx="366.3" cy="719.4" r="4.1" fill="#E68613" stroke="#8E530B"/>
<circle cx="365.9" cy="718.4" r="4.1" fill="#E68613" stroke="#8E530B"/>
<circle cx="368.3" cy="713.2" r="4.1" fill="#E68613" stroke="#8E530B"/>
<circle cx="368.3" cy="714.6" r="4.1" fill="#E68613" stroke="#8E530B"/>
<circle cx="370.4" cy="709.1" r="4.1" fill="#E68613" stroke="#8E530B"/>
<circle cx="371.2" cy="709.2" r="4.1" fill="#E68613" stroke="#8E530B"/>
<circle cx="372.5" cy="706.0" r="4.1" fill="#E68613" stroke="#8E530B"/>
<circle cx="373.6" cy="705.1" r="4.1" fill="#E68613" stroke="#8E530B"/>
<circle cx="374.5" cy="702.8" r="4.1" fill="#E68613" stroke="#8E530B"/>
<circle cx="377.6" cy="696.6" r="4.1" fill="#E68613" stroke="#8E530B"/>
<circle cx="381.8" cy="694.6" r="3.7" fill="#E68613" stroke="#8E530B"/>
<circle cx="385.9" cy="695.6" r="3.7" fill="#E68613" stroke="#8E530B"/>
<circle cx="390.1" cy="690.4" r="3.7" fill="#E68613" stroke="#8E530B"/>
<circle cx="367.3" cy="716.3" r="4.1" fill="#E68613" stroke="#8E530B"/>
<circle cx="367.3" cy="717.7" r="4.1" fill="#E68613" stroke="#8E530B"/>
<circle cx="371.4" cy="711.1" r="4.1" fill="#E68613" stroke="#8E530B"/>
<circle cx="371.7" cy="711.0" r="4.1" fill="#E68613" stroke="#8E530B"/>
<circle cx="365.2" cy="723.5" r="4.1" fill="#E68613" stroke="#8E530B"/>
<circle cx="364.5" cy="723.7" r="4.1" fill="#E68613" stroke="#8E530B"/>
<circle cx="359.0" cy="726.6" r="3.7" fill="#E68613" stroke="#8E530B"/>
<circle cx="360.4" cy="725.2" r="3.7" fill="#E68613" stroke="#8E530B"/>
<circle cx="380.0" cy="683.2" r="4.1" fill="#E68613" stroke="#8E530B"/>
<circle cx="398.2" cy="679.5" r="3.7" fill="#E68613" stroke="#8E530B"/>
<circle cx="392.8" cy="663.5" r="3.7" fill="#E68613" stroke="#8E530B"/>
<circle cx="392.0" cy="650.1" r="3.7" fill="#E68613" stroke="#8E530B"/>
<circle cx="403.8" cy="637.2" r="4.1" fill="#E68613" stroke="#8E530B"/>
<circle cx="413.1" cy="658.4" r="4.1" fill="#E68613" stroke="#8E530B"/>
<circle cx="417.3" cy="652.8" r="4.1" fill="#E68613" stroke="#8E530B"/>
<circle cx="423.9" cy="642.8" r="4.6" fill="#E68613" stroke="#8E530B"/>
<circle cx="433.8" cy="627.7" r="5.0" fill="#E68613" stroke="#8E530B"/>
<circle cx="392.8" cy="617.0" r="3.7" fill="#E68613" stroke="#8E530B"/>
<circle cx="413.5" cy="611.8" r="4.1" fill="#E68613" stroke="#8E530B"/>
<circle cx="397.4" cy="594.8" r="3.7" fill="#E68613" stroke="#8E530B"/>
<circle cx="411.0" cy="582.8" r="3.7" fill="#E68613" stroke="#8E530B"/>
<circle cx="446.6" cy="606.0" r="5.2" fill="#E68613" stroke="#8E530B"/>
<circle cx="478.9" cy="552.8" r="7.2" fill="#E68613" stroke="#8E530B"/>
<circle cx="450.8" cy="498.6" r="5.8" fill="#E68613" stroke="#8E530B"/>
<circle cx="456.0" cy="480.8" r="6.2" fill="#E68613" stroke="#8E530B"/>
<circle cx="412.1" cy="475.2" r="4.1" fill="#E68613" stroke="#8E530B"/>
<circle cx="427.2" cy="450.4" r="4.6" fill="#E68613" stroke="#8E530B"/>
<circle cx="425.9" cy="743.2" r="2.9" fill="#CD9600" stroke="#7F5D00"/>
<circle cx="441.5" cy="740.1" r="3.1" fill="#CD9600" stroke="#7F5D00"/>
<circle cx="456.6" cy="735.5" r="3.3" fill="#CD9600" stroke="#7F5D00"/>
<circle cx="459.7" cy="732.9" r="3.1" fill="#CD9600" stroke="#7F5D00"/>
<circle cx="462.8" cy="729.8" r="3.1" fill="#CD9600" stroke="#7F5D00"/>
<circle cx="465.9" cy="727.7" r="3.1" fill="#CD9600" stroke="#7F5D00"/>
<circle cx="469.0" cy="724.6" r="3.1" fill="#CD9600" stroke="#7F5D00"/>
<circle cx="472.1" cy="721.9" r="3.1" fill="#CD9600" stroke="#7F5D00"/>
<circle cx="483.5" cy="709.1" r="4.1" fill="#CD9600" stroke="#7F5D00"/>
<circle cx="485.1" cy="707.0" r="3.7" fill="#CD9600" stroke="#7F5D00"/>
<circle cx="491.8" cy="700.4" r="3.7" fill="#CD9600" stroke="#7F5D00"/>
<circle cx="489.3" cy="669.1" r="3.5" fill="#CD9600" stroke="#7F5D00"/>
<circle cx="491.3" cy="636.0" r="3.5" fill="#CD9600" stroke="#7F5D00"/>
<circle cx="492.8" cy="644.9" r="3.7" fill="#CD9600" stroke="#7F5D00"/>
<circle cx="491.3" cy="647.4" r="3.7" fill="#CD9600" stroke="#7F5D00"/>
<circle cx="522.6" cy="532.2" r="4.3" fill="#CD9600" stroke="#7F5D00"/>
<circle cx="567.5" cy="587.8" r="6.9" fill="#CD9600" stroke="#7F5D00"/>
<circle cx="522.6" cy="658.2" r="4.3" fill="#CD9600" stroke="#7F5D00"/>
<circle cx="553.1" cy="738.6" r="2.9" fill="#ABA300" stroke="#6A6500"/>
<circle cx="598.3" cy="702.9" r="3.9" fill="#ABA300" stroke="#6A6500"/>
<circle cx="606.8" cy="693.4" r="3.9" fill="#ABA300" stroke="#6A6500"/>
<circle cx="598.9" cy="686.1" r="3.9" fill="#ABA300" stroke="#6A6500"/>
<circle cx="604.6" cy="680.8" r="4.3" fill="#ABA300" stroke="#6A6500"/>
<circle cx="605.8" cy="679.2" r="4.3" fill="#ABA300" stroke="#6A6500"/>
<circle cx="599.3" cy="673.4" r="3.9" fill="#ABA300" stroke="#6A6500"/>
<circle cx="619.0" cy="678.3" r="4.3" fill="#ABA300" stroke="#6A6500"/>
<circle cx="624.5" cy="669.4" r="4.3" fill="#ABA300" stroke="#6A6500"/>
<circle cx="620.4" cy="616.9" r="4.7" fill="#ABA300" stroke="#6A6500"/>
<circle cx="654.4" cy="624.6" r="5.5" fill="#ABA300" stroke="#6A6500"/>
<circle cx="626.8" cy="534.5" r="4.7" fill="#ABA300" stroke="#6A6500"/>
<circle cx="650.8" cy="424.0" r="5.5" fill="#ABA300" stroke="#6A6500"/>
<circle cx="634.7" cy="744.1" r="3.3" fill="#7CAE00" stroke="#4C6B00"/>
<circle cx="659.3" cy="743.2" r="3.3" fill="#7CAE00" stroke="#4C6B00"/>
<circle cx="665.2" cy="744.1" r="3.3" fill="#7CAE00" stroke="#4C6B00"/>
<circle cx="671.1" cy="737.3" r="3.9" fill="#7CAE00" stroke="#4C6B00"/>
<circle cx="674.0" cy="733.3" r="3.5" fill="#7CAE00" stroke="#4C6B00"/>
<circle cx="682.9" cy="734.3" r="3.9" fill="#7CAE00" stroke="#4C6B00"/>
<circle cx="683.9" cy="730.4" r="3.5" fill="#7CAE00" stroke="#4C6B00"/>
<circle cx="687.8" cy="727.4" r="3.5" fill="#7CAE00" stroke="#4C6B00"/>
<circle cx="689.8" cy="723.5" r="3.5" fill="#7CAE00" stroke="#4C6B00"/>
<circle cx="699.0" cy="704.8" r="3.9" fill="#7CAE00" stroke="#4C6B00"/>
<circle cx="701.6" cy="697.0" r="3.9" fill="#7CAE00" stroke="#4C6B00"/>
<circle cx="704.5" cy="689.1" r="3.9" fill="#7CAE00" stroke="#4C6B00"/>
<circle cx="704.5" cy="682.8" r="3.9" fill="#7CAE00" stroke="#4C6B00"/>
<circle cx="710.4" cy="700.9" r="3.9" fill="#7CAE00" stroke="#4C6B00"/>
<circle cx="715.9" cy="694.4" r="3.9" fill="#7CAE00" stroke="#4C6B00"/>
<circle cx="714.4" cy="669.0" r="3.9" fill="#7CAE00" stroke="#4C6B00"/>
<circle cx="714.7" cy="659.2" r="3.9" fill="#7CAE00" stroke="#4C6B00"/>
<circle cx="712.0" cy="646.8" r="3.9" fill="#7CAE00" stroke="#4C6B00"/>
<circle cx="722.8" cy="643.5" r="3.9" fill="#7CAE00" stroke="#4C6B00"/>
<circle cx="736.6" cy="666.1" r="4.3" fill="#7CAE00" stroke="#4C6B00"/>
<circle cx="732.6" cy="608.5" r="4.3" fill="#7CAE00" stroke="#4C6B00"/>
<circle cx="733.0" cy="558.3" r="4.3" fill="#7CAE00" stroke="#4C6B00"/>
<circle cx="733.4" cy="531.4" r="4.3" fill="#7CAE00" stroke="#4C6B00"/>
<circle cx="743.1" cy="434.2" r="4.6" fill="#7CAE00" stroke="#4C6B00"/>
<circle cx="798.4" cy="443.5" r="7.2" fill="#7CAE00" stroke="#4C6B00"/>
<circle cx="760.3" cy="491.2" r="5.8" fill="#7CAE00" stroke="#4C6B00"/>
<circle cx="761.5" cy="489.6" r="5.8" fill="#7CAE00" stroke="#4C6B00"/>
<circle cx="756.1" cy="510.4" r="5.4" fill="#7CAE00" stroke="#4C6B00"/>
<circle cx="754.9" cy="515.6" r="5.4" fill="#7CAE00" stroke="#4C6B00"/>
<circle cx="746.6" cy="554.9" r="5.0" fill="#7CAE00" stroke="#4C6B00"/>
<circle cx="748.3" cy="595.3" r="5.0" fill="#7CAE00" stroke="#4C6B00"/>
<circle cx="746.8" cy="600.5" r="5.0" fill="#7CAE00" stroke="#4C6B00"/>
<circle cx="742.1" cy="614.9" r="4.6" fill="#7CAE00" stroke="#4C6B00"/>
<circle cx="741.0" cy="620.1" r="4.6" fill="#7CAE00" stroke="#4C6B00"/>
<circle cx="746.2" cy="743.7" r="2.9" fill="#0CB702" stroke="#077101"/>
<circle cx="752.4" cy="743.3" r="3.3" fill="#0CB702" stroke="#077101"/>
<circle cx="753.3" cy="744.2" r="3.3" fill="#0CB702" stroke="#077101"/>
<circle cx="755.5" cy="743.3" r="3.3" fill="#0CB702" stroke="#077101"/>
<circle cx="758.6" cy="742.7" r="3.3" fill="#0CB702" stroke="#077101"/>
<circle cx="770.6" cy="740.2" r="3.5" fill="#0CB702" stroke="#077101"/>
<circle cx="774.2" cy="741.2" r="3.5" fill="#0CB702" stroke="#077101"/>
<circle cx="782.4" cy="741.8" r="3.7" fill="#0CB702" stroke="#077101"/>
<circle cx="786.6" cy="735.0" r="3.5" fill="#0CB702" stroke="#077101"/>
<circle cx="790.7" cy="728.8" r="3.7" fill="#0CB702" stroke="#077101"/>
<circle cx="798.0" cy="724.6" r="3.7" fill="#0CB702" stroke="#077101"/>
<circle cx="802.1" cy="719.5" r="3.7" fill="#0CB702" stroke="#077101"/>
<circle cx="805.2" cy="714.3" r="3.7" fill="#0CB702" stroke="#077101"/>
<circle cx="806.4" cy="715.0" r="3.7" fill="#0CB702" stroke="#077101"/>
<circle cx="808.3" cy="711.2" r="4.1" fill="#0CB702" stroke="#077101"/>
<circle cx="809.2" cy="711.3" r="4.1" fill="#0CB702" stroke="#077101"/>
<circle cx="811.4" cy="709.1" r="4.1" fill="#0CB702" stroke="#077101"/>
<circle cx="811.6" cy="708.9" r="4.1" fill="#0CB702" stroke="#077101"/>
<circle cx="814.5" cy="707.1" r="4.1" fill="#0CB702" stroke="#077101"/>
<circle cx="810.4" cy="698.8" r="4.1" fill="#0CB702" stroke="#077101"/>
<circle cx="810.4" cy="694.6" r="3.7" fill="#0CB702" stroke="#077101"/>
<circle cx="822.8" cy="697.7" r="4.1" fill="#0CB702" stroke="#077101"/>
<circle cx="825.9" cy="693.6" r="4.1" fill="#0CB702" stroke="#077101"/>
<circle cx="824.6" cy="694.7" r="4.1" fill="#0CB702" stroke="#077101"/>
<circle cx="829.0" cy="689.5" r="4.1" fill="#0CB702" stroke="#077101"/>
<circle cx="829.2" cy="688.6" r="4.1" fill="#0CB702" stroke="#077101"/>
<circle cx="832.1" cy="686.4" r="4.1" fill="#0CB702" stroke="#077101"/>
<circle cx="824.9" cy="678.1" r="4.1" fill="#0CB702" stroke="#077101"/>
<circle cx="829.0" cy="669.8" r="4.1" fill="#0CB702" stroke="#077101"/>
<circle cx="813.5" cy="682.6" r="4.1" fill="#0CB702" stroke="#077101"/>
<circle cx="840.4" cy="675.0" r="5.0" fill="#0CB702" stroke="#077101"/>
<circle cx="841.6" cy="673.4" r="5.0" fill="#0CB702" stroke="#077101"/>
<circle cx="820.7" cy="660.5" r="4.1" fill="#0CB702" stroke="#077101"/>
<circle cx="825.9" cy="655.3" r="4.1" fill="#0CB702" stroke="#077101"/>
<circle cx="829.4" cy="638.7" r="4.1" fill="#0CB702" stroke="#077101"/>
<circle cx="831.1" cy="619.5" r="4.1" fill="#0CB702" stroke="#077101"/>
<circle cx="836.3" cy="611.8" r="4.1" fill="#0CB702" stroke="#077101"/>
<circle cx="829.6" cy="602.5" r="4.1" fill="#0CB702" stroke="#077101"/>
<circle cx="836.9" cy="587.0" r="4.6" fill="#0CB702" stroke="#077101"/>
<circle cx="837.9" cy="579.8" r="4.6" fill="#0CB702" stroke="#077101"/>
<circle cx="833.1" cy="574.6" r="4.1" fill="#0CB702" stroke="#077101"/>
<circle cx="840.4" cy="570.0" r="4.6" fill="#0CB702" stroke="#077101"/>
<circle cx="835.8" cy="558.4" r="4.6" fill="#0CB702" stroke="#077101"/>
<circle cx="852.8" cy="651.2" r="4.6" fill="#0CB702" stroke="#077101"/>
<circle cx="855.9" cy="647.0" r="4.6" fill="#0CB702" stroke="#077101"/>
<circle cx="859.0" cy="642.9" r="5.0" fill="#0CB702" stroke="#077101"/>
<circle cx="862.1" cy="639.8" r="5.0" fill="#0CB702" stroke="#077101"/>
<circle cx="864.2" cy="636.7" r="5.0" fill="#0CB702" stroke="#077101"/>
<circle cx="865.4" cy="635.1" r="5.0" fill="#0CB702" stroke="#077101"/>
<circle cx="868.3" cy="630.5" r="5.0" fill="#0CB702" stroke="#077101"/>
<circle cx="871.4" cy="625.3" r="5.0" fill="#0CB702" stroke="#077101"/>
<circle cx="874.5" cy="621.2" r="5.0" fill="#0CB702" stroke="#077101"/>
<circle cx="877.7" cy="617.0" r="5.4" fill="#0CB702" stroke="#077101"/>
<circle cx="878.9" cy="615.4" r="5.4" fill="#0CB702" stroke="#077101"/>
<circle cx="881.8" cy="611.8" r="5.4" fill="#0CB702" stroke="#077101"/>
<circle cx="892.1" cy="594.7" r="6.2" fill="#0CB702" stroke="#077101"/>
<circle cx="901.5" cy="578.7" r="6.6" fill="#0CB702" stroke="#077101"/>
<circle cx="902.7" cy="577.1" r="6.6" fill="#0CB702" stroke="#077101"/>
<circle cx="922.2" cy="543.9" r="7.9" fill="#0CB702" stroke="#077101"/>
<circle cx="853.4" cy="607.1" r="4.6" fill="#0CB702" stroke="#077101"/>
<circle cx="865.9" cy="572.9" r="5.0" fill="#0CB702" stroke="#077101"/>
<circle cx="869.4" cy="560.1" r="5.4" fill="#0CB702" stroke="#077101"/>
<circle cx="852.8" cy="529.5" r="4.6" fill="#0CB702" stroke="#077101"/>
<circle cx="859.4" cy="539.0" r="5.0" fill="#0CB702" stroke="#077101"/>
<circle cx="867.3" cy="508.8" r="5.0" fill="#0CB702" stroke="#077101"/>
<circle cx="882.8" cy="517.7" r="5.8" fill="#0CB702" stroke="#077101"/>
<circle cx="870.4" cy="486.6" r="5.4" fill="#0CB702" stroke="#077101"/>
<circle cx="881.4" cy="442.1" r="5.8" fill="#0CB702" stroke="#077101"/>
<circle cx="794.9" cy="721.5" r="3.7" fill="#0CB702" stroke="#077101"/>
<circle cx="806.7" cy="709.1" r="4.1" fill="#0CB702" stroke="#077101"/>
<circle cx="806.7" cy="709.1" r="4.1" fill="#0CB702" stroke="#077101"/>
<circle cx="826.9" cy="691.5" r="4.1" fill="#0CB702" stroke="#077101"/>
<circle cx="822.8" cy="701.9" r="3.7" fill="#0CB702" stroke="#077101"/>
<circle cx="869.4" cy="742.2" r="3.3" fill="#00BE67" stroke="#00753F"/>
<circle cx="876.2" cy="744.3" r="3.3" fill="#00BE67" stroke="#00753F"/>
<circle cx="885.9" cy="736.4" r="3.5" fill="#00BE67" stroke="#00753F"/>
<circle cx="896.3" cy="734.4" r="3.7" fill="#00BE67" stroke="#00753F"/>
<circle cx="897.5" cy="732.8" r="3.7" fill="#00BE67" stroke="#00753F"/>
<circle cx="911.4" cy="720.5" r="3.7" fill="#00BE67" stroke="#00753F"/>
<circle cx="917.0" cy="712.2" r="3.7" fill="#00BE67" stroke="#00753F"/>
<circle cx="919.1" cy="700.8" r="3.7" fill="#00BE67" stroke="#00753F"/>
<circle cx="926.3" cy="705.0" r="3.7" fill="#00BE67" stroke="#00753F"/>
<circle cx="925.3" cy="685.3" r="4.1" fill="#00BE67" stroke="#00753F"/>
<circle cx="930.4" cy="688.4" r="4.1" fill="#00BE67" stroke="#00753F"/>
<circle cx="935.6" cy="694.6" r="4.1" fill="#00BE67" stroke="#00753F"/>
<circle cx="942.9" cy="684.3" r="4.1" fill="#00BE67" stroke="#00753F"/>
<circle cx="947.0" cy="679.1" r="4.1" fill="#00BE67" stroke="#00753F"/>
<circle cx="931.5" cy="666.7" r="4.1" fill="#00BE67" stroke="#00753F"/>
<circle cx="939.8" cy="666.7" r="4.1" fill="#00BE67" stroke="#00753F"/>
<circle cx="954.2" cy="667.7" r="4.6" fill="#00BE67" stroke="#00753F"/>
<circle cx="970.2" cy="646.0" r="5.0" fill="#00BE67" stroke="#00753F"/>
<circle cx="978.0" cy="633.6" r="5.4" fill="#00BE67" stroke="#00753F"/>
<circle cx="947.6" cy="623.8" r="4.1" fill="#00BE67" stroke="#00753F"/>
<circle cx="964.0" cy="604.0" r="5.0" fill="#00BE67" stroke="#00753F"/>
<circle cx="988.4" cy="616.4" r="5.8" fill="#00BE67" stroke="#00753F"/>
<circle cx="978.0" cy="563.6" r="5.4" fill="#00BE67" stroke="#00753F"/>
<circle cx="959.4" cy="545.2" r="5.0" fill="#00BE67" stroke="#00753F"/>
<circle cx="970.2" cy="537.9" r="5.0" fill="#00BE67" stroke="#00753F"/>
<circle cx="980.7" cy="490.3" r="5.4" fill="#00BE67" stroke="#00753F"/>
<circle cx="995.2" cy="413.1" r="5.4" fill="#00BE67" stroke="#00753F"/>
<circle cx="1025.1" cy="555.3" r="7.9" fill="#00BE67" stroke="#00753F"/>
<circle cx="1068.0" cy="436.3" r="4.6" fill="#00C19A" stroke="#00775F"/>
<circle cx="1074.6" cy="602.1" r="5.0" fill="#00C19A" stroke="#00775F"/>
<circle cx="1062.8" cy="633.6" r="4.6" fill="#00C19A" stroke="#00775F"/>
<circle cx="1040.0" cy="678.1" r="4.1" fill="#00C19A" stroke="#00775F"/>
<circle cx="1040.0" cy="687.4" r="4.1" fill="#00C19A" stroke="#00775F"/>
<circle cx="1022.4" cy="717.4" r="3.7" fill="#00C19A" stroke="#00775F"/>
<circle cx="1018.9" cy="722.0" r="3.7" fill="#00C19A" stroke="#00775F"/>
<circle cx="1008.6" cy="732.9" r="3.7" fill="#00C19A" stroke="#00775F"/>
<circle cx="985.2" cy="741.2" r="3.3" fill="#00C19A" stroke="#00775F"/>
<circle cx="1084.5" cy="743.3" r="2.9" fill="#00BFC4" stroke="#007679"/>
<circle cx="1089.7" cy="742.7" r="3.1" fill="#00BFC4" stroke="#007679"/>
<circle cx="1098.0" cy="742.2" r="3.7" fill="#00BFC4" stroke="#007679"/>
<circle cx="1099.2" cy="740.6" r="3.7" fill="#00BFC4" stroke="#007679"/>
<circle cx="1100.1" cy="741.2" r="3.7" fill="#00BFC4" stroke="#007679"/>
<circle cx="1106.3" cy="740.2" r="3.3" fill="#00BFC4" stroke="#007679"/>
<circle cx="1106.7" cy="736.0" r="3.3" fill="#00BFC4" stroke="#007679"/>
<circle cx="1111.4" cy="734.0" r="3.3" fill="#00BFC4" stroke="#007679"/>
<circle cx="1116.6" cy="744.3" r="3.3" fill="#00BFC4" stroke="#007679"/>
<circle cx="1116.6" cy="737.1" r="3.3" fill="#00BFC4" stroke="#007679"/>
<circle cx="1118.7" cy="731.9" r="3.7" fill="#00BFC4" stroke="#007679"/>
<circle cx="1118.3" cy="731.4" r="3.7" fill="#00BFC4" stroke="#007679"/>
<circle cx="1120.8" cy="728.8" r="3.7" fill="#00BFC4" stroke="#007679"/>
<circle cx="1122.0" cy="727.2" r="3.7" fill="#00BFC4" stroke="#007679"/>
<circle cx="1120.9" cy="729.2" r="3.7" fill="#00BFC4" stroke="#007679"/>
<circle cx="1124.9" cy="725.7" r="3.7" fill="#00BFC4" stroke="#007679"/>
<circle cx="1125.2" cy="725.6" r="3.7" fill="#00BFC4" stroke="#007679"/>
<circle cx="1126.6" cy="741.2" r="3.3" fill="#00BFC4" stroke="#007679"/>
<circle cx="1127.0" cy="722.6" r="3.7" fill="#00BFC4" stroke="#007679"/>
<circle cx="1125.6" cy="721.8" r="3.7" fill="#00BFC4" stroke="#007679"/>
<circle cx="1130.1" cy="719.5" r="3.7" fill="#00BFC4" stroke="#007679"/>
<circle cx="1129.1" cy="719.7" r="3.7" fill="#00BFC4" stroke="#007679"/>
<circle cx="1133.2" cy="716.4" r="3.7" fill="#00BFC4" stroke="#007679"/>
<circle cx="1134.3" cy="717.3" r="3.7" fill="#00BFC4" stroke="#007679"/>
<circle cx="1135.2" cy="713.3" r="3.7" fill="#00BFC4" stroke="#007679"/>
<circle cx="1136.1" cy="714.2" r="3.7" fill="#00BFC4" stroke="#007679"/>
<circle cx="1137.3" cy="710.2" r="3.7" fill="#00BFC4" stroke="#007679"/>
<circle cx="1136.6" cy="711.2" r="3.7" fill="#00BFC4" stroke="#007679"/>
<circle cx="1139.4" cy="707.1" r="3.7" fill="#00BFC4" stroke="#007679"/>
<circle cx="1139.9" cy="705.8" r="3.7" fill="#00BFC4" stroke="#007679"/>
<circle cx="1140.4" cy="702.9" r="3.7" fill="#00BFC4" stroke="#007679"/>
<circle cx="1139.0" cy="701.5" r="3.7" fill="#00BFC4" stroke="#007679"/>
<circle cx="1141.5" cy="698.8" r="3.7" fill="#00BFC4" stroke="#007679"/>
<circle cx="1142.2" cy="698.0" r="3.7" fill="#00BFC4" stroke="#007679"/>
<circle cx="1143.5" cy="695.7" r="3.7" fill="#00BFC4" stroke="#007679"/>
<circle cx="1142.4" cy="696.0" r="3.7" fill="#00BFC4" stroke="#007679"/>
<circle cx="1147.7" cy="699.8" r="3.7" fill="#00BFC4" stroke="#007679"/>
<circle cx="1147.2" cy="698.5" r="3.7" fill="#00BFC4" stroke="#007679"/>
<circle cx="1148.7" cy="692.6" r="3.7" fill="#00BFC4" stroke="#007679"/>
<circle cx="1147.7" cy="692.6" r="3.7" fill="#00BFC4" stroke="#007679"/>
<circle cx="1147.7" cy="683.2" r="3.7" fill="#00BFC4" stroke="#007679"/>
<circle cx="1149.7" cy="688.4" r="3.7" fill="#00BFC4" stroke="#007679"/>
<circle cx="1155.9" cy="693.6" r="4.1" fill="#00BFC4" stroke="#007679"/>
<circle cx="1157.1" cy="692.0" r="4.1" fill="#00BFC4" stroke="#007679"/>
<circle cx="1142.5" cy="667.7" r="3.7" fill="#00BFC4" stroke="#007679"/>
<circle cx="1155.9" cy="659.4" r="4.1" fill="#00BFC4" stroke="#007679"/>
<circle cx="1163.2" cy="658.4" r="4.1" fill="#00BFC4" stroke="#007679"/>
<circle cx="1154.9" cy="653.2" r="4.1" fill="#00BFC4" stroke="#007679"/>
<circle cx="1165.3" cy="651.2" r="4.6" fill="#00BFC4" stroke="#007679"/>
<circle cx="1166.5" cy="649.6" r="4.6" fill="#00BFC4" stroke="#007679"/>
<circle cx="1155.9" cy="642.9" r="4.6" fill="#00BFC4" stroke="#007679"/>
<circle cx="1157.1" cy="641.3" r="4.6" fill="#00BFC4" stroke="#007679"/>
<circle cx="1158.0" cy="639.8" r="4.6" fill="#00BFC4" stroke="#007679"/>
<circle cx="1170.4" cy="639.8" r="4.6" fill="#00BFC4" stroke="#007679"/>
<circle cx="1171.6" cy="638.2" r="4.6" fill="#00BFC4" stroke="#007679"/>
<circle cx="1165.9" cy="678.7" r="4.1" fill="#00BFC4" stroke="#007679"/>
<circle cx="1171.5" cy="670.8" r="4.1" fill="#00BFC4" stroke="#007679"/>
<circle cx="1178.3" cy="618.7" r="4.6" fill="#00BFC4" stroke="#007679"/>
<circle cx="1189.1" cy="644.5" r="4.6" fill="#00BFC4" stroke="#007679"/>
<circle cx="1194.9" cy="636.7" r="4.6" fill="#00BFC4" stroke="#007679"/>
<circle cx="1203.6" cy="622.6" r="5.4" fill="#00BFC4" stroke="#007679"/>
<circle cx="1171.5" cy="558.4" r="4.6" fill="#00BFC4" stroke="#007679"/>
<circle cx="1217.6" cy="601.1" r="5.8" fill="#00BFC4" stroke="#007679"/>
<circle cx="1220.1" cy="593.2" r="5.8" fill="#00BFC4" stroke="#007679"/>
<circle cx="1225.3" cy="586.0" r="6.2" fill="#00BFC4" stroke="#007679"/>
<circle cx="1226.5" cy="584.4" r="6.2" fill="#00BFC4" stroke="#007679"/>
<circle cx="1232.5" cy="576.6" r="6.2" fill="#00BFC4" stroke="#007679"/>
<circle cx="1179.8" cy="502.7" r="4.6" fill="#00BFC4" stroke="#007679"/>
<circle cx="1195.3" cy="505.2" r="5.0" fill="#00BFC4" stroke="#007679"/>
<circle cx="1195.7" cy="511.4" r="4.6" fill="#00BFC4" stroke="#007679"/>
<circle cx="1201.9" cy="482.5" r="5.0" fill="#00BFC4" stroke="#007679"/>
<circle cx="1218.5" cy="491.8" r="5.8" fill="#00BFC4" stroke="#007679"/>
<circle cx="1200.5" cy="432.8" r="5.0" fill="#00BFC4" stroke="#007679"/>
<circle cx="1211.8" cy="429.7" r="5.4" fill="#00BFC4" stroke="#007679"/>
<circle cx="1211.8" cy="435.9" r="5.4" fill="#00BFC4" stroke="#007679"/>
<circle cx="1236.7" cy="428.6" r="6.2" fill="#00BFC4" stroke="#007679"/>
<circle cx="1204.0" cy="385.2" r="5.0" fill="#00BFC4" stroke="#007679"/>
<circle cx="1122.8" cy="729.8" r="3.7" fill="#00BFC4" stroke="#007679"/>
<circle cx="1121.8" cy="729.1" r="3.7" fill="#00BFC4" stroke="#007679"/>
<circle cx="1129.0" cy="721.1" r="3.7" fill="#00BFC4" stroke="#007679"/>
<circle cx="1129.7" cy="721.0" r="3.7" fill="#00BFC4" stroke="#007679"/>
<circle cx="1134.2" cy="714.9" r="3.7" fill="#00BFC4" stroke="#007679"/>
<circle cx="1133.7" cy="714.8" r="3.7" fill="#00BFC4" stroke="#007679"/>
<circle cx="1138.4" cy="709.1" r="3.7" fill="#00BFC4" stroke="#007679"/>
<circle cx="1136.9" cy="708.8" r="3.7" fill="#00BFC4" stroke="#007679"/>
<circle cx="1145.6" cy="696.7" r="3.7" fill="#00BFC4" stroke="#007679"/>
<circle cx="1145.4" cy="695.8" r="3.7" fill="#00BFC4" stroke="#007679"/>
<circle cx="1170.4" cy="744.3" r="3.1" fill="#00B8E7" stroke="#00728F"/>
<circle cx="1184.9" cy="743.9" r="3.1" fill="#00B8E7" stroke="#00728F"/>
<circle cx="1189.1" cy="743.9" r="3.1" fill="#00B8E7" stroke="#00728F"/>
<circle cx="1193.2" cy="743.9" r="3.1" fill="#00B8E7" stroke="#00728F"/>
<circle cx="1197.3" cy="743.9" r="3.1" fill="#00B8E7" stroke="#00728F"/>
<circle cx="1196.2" cy="745.1" r="3.1" fill="#00B8E7" stroke="#00728F"/>
<circle cx="1203.6" cy="742.2" r="3.3" fill="#00B8E7" stroke="#00728F"/>
<circle cx="1203.6" cy="741.4" r="3.3" fill="#00B8E7" stroke="#00728F"/>
<circle cx="1207.7" cy="741.2" r="3.7" fill="#00B8E7" stroke="#00728F"/>
<circle cx="1208.0" cy="742.2" r="3.7" fill="#00B8E7" stroke="#00728F"/>
<circle cx="1211.8" cy="740.2" r="3.7" fill="#00B8E7" stroke="#00728F"/>
<circle cx="1210.4" cy="738.7" r="3.7" fill="#00B8E7" stroke="#00728F"/>
<circle cx="1216.0" cy="739.1" r="3.7" fill="#00B8E7" stroke="#00728F"/>
<circle cx="1214.9" cy="739.8" r="3.7" fill="#00B8E7" stroke="#00728F"/>
<circle cx="1220.1" cy="737.1" r="3.7" fill="#00B8E7" stroke="#00728F"/>
<circle cx="1219.1" cy="737.7" r="3.7" fill="#00B8E7" stroke="#00728F"/>
<circle cx="1224.3" cy="735.0" r="3.7" fill="#00B8E7" stroke="#00728F"/>
<circle cx="1224.8" cy="735.1" r="3.7" fill="#00B8E7" stroke="#00728F"/>
<circle cx="1218.0" cy="741.2" r="3.3" fill="#00B8E7" stroke="#00728F"/>
<circle cx="1217.2" cy="742.6" r="3.3" fill="#00B8E7" stroke="#00728F"/>
<circle cx="1209.8" cy="743.3" r="3.3" fill="#00B8E7" stroke="#00728F"/>
<circle cx="1210.7" cy="743.3" r="3.3" fill="#00B8E7" stroke="#00728F"/>
<circle cx="1201.5" cy="743.3" r="3.3" fill="#00B8E7" stroke="#00728F"/>
<circle cx="1200.7" cy="743.7" r="3.3" fill="#00B8E7" stroke="#00728F"/>
<circle cx="1213.9" cy="739.8" r="3.7" fill="#00B8E7" stroke="#00728F"/>
<circle cx="1213.6" cy="740.0" r="3.7" fill="#00B8E7" stroke="#00728F"/>
<circle cx="1213.4" cy="740.2" r="3.7" fill="#00B8E7" stroke="#00728F"/>
<circle cx="1222.2" cy="736.0" r="3.7" fill="#00B8E7" stroke="#00728F"/>
<circle cx="1220.9" cy="735.4" r="3.7" fill="#00B8E7" stroke="#00728F"/>
<circle cx="1252.7" cy="541.5" r="7.9" fill="#00BFC4" stroke="#007679"/>
<circle cx="1228.3" cy="738.1" r="3.7" fill="#00B8E7" stroke="#00728F"/>
<circle cx="1229.7" cy="739.2" r="3.7" fill="#00B8E7" stroke="#00728F"/>
<circle cx="1232.4" cy="731.9" r="3.7" fill="#00B8E7" stroke="#00728F"/>
<circle cx="1231.8" cy="733.0" r="3.7" fill="#00B8E7" stroke="#00728F"/>
<circle cx="1233.5" cy="735.0" r="3.3" fill="#00B8E7" stroke="#00728F"/>
<circle cx="1232.9" cy="736.3" r="3.3" fill="#00B8E7" stroke="#00728F"/>
<circle cx="1236.6" cy="727.8" r="3.7" fill="#00B8E7" stroke="#00728F"/>
<circle cx="1237.3" cy="727.5" r="3.7" fill="#00B8E7" stroke="#00728F"/>
<circle cx="1239.7" cy="724.6" r="3.7" fill="#00B8E7" stroke="#00728F"/>
<circle cx="1238.9" cy="723.2" r="3.7" fill="#00B8E7" stroke="#00728F"/>
<circle cx="1242.8" cy="720.5" r="3.7" fill="#00B8E7" stroke="#00728F"/>
<circle cx="1243.9" cy="719.1" r="3.7" fill="#00B8E7" stroke="#00728F"/>
<circle cx="1245.9" cy="716.4" r="3.7" fill="#00B8E7" stroke="#00728F"/>
<circle cx="1246.9" cy="713.3" r="3.7" fill="#00B8E7" stroke="#00728F"/>
<circle cx="1252.1" cy="697.7" r="4.1" fill="#00B8E7" stroke="#00728F"/>
<circle cx="1253.0" cy="699.1" r="4.1" fill="#00B8E7" stroke="#00728F"/>
<circle cx="1254.2" cy="694.6" r="4.1" fill="#00B8E7" stroke="#00728F"/>
<circle cx="1254.4" cy="693.6" r="4.1" fill="#00B8E7" stroke="#00728F"/>
<circle cx="1258.3" cy="694.6" r="4.1" fill="#00B8E7" stroke="#00728F"/>
<circle cx="1259.4" cy="696.1" r="4.1" fill="#00B8E7" stroke="#00728F"/>
<circle cx="1258.9" cy="694.7" r="4.1" fill="#00B8E7" stroke="#00728F"/>
<circle cx="1260.4" cy="698.8" r="4.1" fill="#00B8E7" stroke="#00728F"/>
<circle cx="1260.0" cy="698.3" r="4.1" fill="#00B8E7" stroke="#00728F"/>
<circle cx="1263.5" cy="694.6" r="4.1" fill="#00B8E7" stroke="#00728F"/>
<circle cx="1262.6" cy="695.2" r="4.1" fill="#00B8E7" stroke="#00728F"/>
<circle cx="1267.6" cy="689.5" r="4.6" fill="#00B8E7" stroke="#00728F"/>
<circle cx="1267.4" cy="688.5" r="4.6" fill="#00B8E7" stroke="#00728F"/>
<circle cx="1270.7" cy="686.4" r="4.6" fill="#00B8E7" stroke="#00728F"/>
<circle cx="1269.5" cy="686.9" r="4.6" fill="#00B8E7" stroke="#00728F"/>
<circle cx="1273.8" cy="682.2" r="4.6" fill="#00B8E7" stroke="#00728F"/>
<circle cx="1273.2" cy="682.2" r="4.6" fill="#00B8E7" stroke="#00728F"/>
<circle cx="1275.9" cy="679.1" r="4.6" fill="#00B8E7" stroke="#00728F"/>
<circle cx="1275.4" cy="680.2" r="4.6" fill="#00B8E7" stroke="#00728F"/>
<circle cx="1279.0" cy="675.0" r="4.6" fill="#00B8E7" stroke="#00728F"/>
<circle cx="1280.2" cy="673.5" r="4.6" fill="#00B8E7" stroke="#00728F"/>
<circle cx="1281.1" cy="670.8" r="4.6" fill="#00B8E7" stroke="#00728F"/>
<circle cx="1280.2" cy="670.3" r="4.6" fill="#00B8E7" stroke="#00728F"/>
<circle cx="1284.2" cy="666.7" r="4.6" fill="#00B8E7" stroke="#00728F"/>
<circle cx="1285.6" cy="667.5" r="4.6" fill="#00B8E7" stroke="#00728F"/>
<circle cx="1287.3" cy="663.6" r="4.6" fill="#00B8E7" stroke="#00728F"/>
<circle cx="1290.0" cy="659.4" r="5.0" fill="#00B8E7" stroke="#00728F"/>
<circle cx="1291.2" cy="657.8" r="5.0" fill="#00B8E7" stroke="#00728F"/>
<circle cx="1252.1" cy="676.0" r="4.1" fill="#00B8E7" stroke="#00728F"/>
<circle cx="1254.2" cy="683.2" r="3.7" fill="#00B8E7" stroke="#00728F"/>
<circle cx="1259.3" cy="689.5" r="3.7" fill="#00B8E7" stroke="#00728F"/>
<circle cx="1258.8" cy="688.6" r="3.7" fill="#00B8E7" stroke="#00728F"/>
<circle cx="1263.5" cy="678.1" r="4.1" fill="#00B8E7" stroke="#00728F"/>
<circle cx="1269.7" cy="666.7" r="4.1" fill="#00B8E7" stroke="#00728F"/>
<circle cx="1258.3" cy="650.1" r="4.1" fill="#00B8E7" stroke="#00728F"/>
<circle cx="1266.6" cy="643.9" r="4.1" fill="#00B8E7" stroke="#00728F"/>
<circle cx="1275.9" cy="648.1" r="4.1" fill="#00B8E7" stroke="#00728F"/>
<circle cx="1278.0" cy="642.9" r="4.1" fill="#00B8E7" stroke="#00728F"/>
<circle cx="1280.0" cy="638.7" r="4.1" fill="#00B8E7" stroke="#00728F"/>
<circle cx="1275.9" cy="624.3" r="4.6" fill="#00B8E7" stroke="#00728F"/>
<circle cx="1279.0" cy="616.0" r="4.6" fill="#00B8E7" stroke="#00728F"/>
<circle cx="1286.2" cy="621.2" r="5.0" fill="#00B8E7" stroke="#00728F"/>
<circle cx="1287.4" cy="619.6" r="5.0" fill="#00B8E7" stroke="#00728F"/>
<circle cx="1286.2" cy="626.3" r="4.6" fill="#00B8E7" stroke="#00728F"/>
<circle cx="1303.8" cy="636.7" r="5.0" fill="#00B8E7" stroke="#00728F"/>
<circle cx="1306.9" cy="631.5" r="5.0" fill="#00B8E7" stroke="#00728F"/>
<circle cx="1311.1" cy="626.3" r="5.0" fill="#00B8E7" stroke="#00728F"/>
<circle cx="1315.2" cy="621.2" r="5.4" fill="#00B8E7" stroke="#00728F"/>
<circle cx="1299.7" cy="584.5" r="5.0" fill="#00B8E7" stroke="#00728F"/>
<circle cx="1329.7" cy="595.7" r="6.2" fill="#00B8E7" stroke="#00728F"/>
<circle cx="1290.0" cy="538.4" r="4.6" fill="#00B8E7" stroke="#00728F"/>
<circle cx="1331.4" cy="488.1" r="6.2" fill="#00B8E7" stroke="#00728F"/>
<circle cx="1387.3" cy="498.6" r="10.3" fill="#00B8E7" stroke="#00728F"/>
<circle cx="1230.3" cy="734.0" r="3.7" fill="#00B8E7" stroke="#00728F"/>
<circle cx="1230.9" cy="735.0" r="3.7" fill="#00B8E7" stroke="#00728F"/>
<circle cx="1240.7" cy="722.6" r="3.7" fill="#00B8E7" stroke="#00728F"/>
<circle cx="1242.0" cy="722.1" r="3.7" fill="#00B8E7" stroke="#00728F"/>
<circle cx="1265.5" cy="691.5" r="4.6" fill="#00B8E7" stroke="#00728F"/>
<circle cx="1266.7" cy="692.1" r="4.6" fill="#00B8E7" stroke="#00728F"/>
<circle cx="1271.7" cy="684.3" r="4.6" fill="#00B8E7" stroke="#00728F"/>
<circle cx="1271.7" cy="685.7" r="4.6" fill="#00B8E7" stroke="#00728F"/>
<circle cx="1282.1" cy="668.8" r="4.6" fill="#00B8E7" stroke="#00728F"/>
<circle cx="1281.3" cy="669.4" r="4.6" fill="#00B8E7" stroke="#00728F"/>
<circle cx="1256.2" cy="695.7" r="4.1" fill="#00B8E7" stroke="#00728F"/>
<circle cx="1255.0" cy="694.7" r="4.1" fill="#00B8E7" stroke="#00728F"/>
<circle cx="1325.6" cy="738.1" r="3.7" fill="#00A9FF" stroke="#00689E"/>
<circle cx="1326.8" cy="736.5" r="3.7" fill="#00A9FF" stroke="#00689E"/>
<circle cx="1329.7" cy="740.2" r="3.7" fill="#00A9FF" stroke="#00689E"/>
<circle cx="1333.4" cy="743.3" r="3.3" fill="#00A9FF" stroke="#00689E"/>
<circle cx="1332.8" cy="732.9" r="3.7" fill="#00A9FF" stroke="#00689E"/>
<circle cx="1337.0" cy="731.9" r="3.7" fill="#00A9FF" stroke="#00689E"/>
<circle cx="1342.7" cy="729.8" r="3.7" fill="#00A9FF" stroke="#00689E"/>
<circle cx="1348.8" cy="720.5" r="3.7" fill="#00A9FF" stroke="#00689E"/>
<circle cx="1356.0" cy="709.1" r="3.7" fill="#00A9FF" stroke="#00689E"/>
<circle cx="1360.8" cy="702.9" r="3.7" fill="#00A9FF" stroke="#00689E"/>
<circle cx="1361.4" cy="709.1" r="3.7" fill="#00A9FF" stroke="#00689E"/>
<circle cx="1366.3" cy="691.5" r="4.1" fill="#00A9FF" stroke="#00689E"/>
<circle cx="1372.8" cy="695.7" r="4.1" fill="#00A9FF" stroke="#00689E"/>
<circle cx="1377.9" cy="689.5" r="4.1" fill="#00A9FF" stroke="#00689E"/>
<circle cx="1364.3" cy="670.8" r="4.1" fill="#00A9FF" stroke="#00689E"/>
<circle cx="1378.8" cy="665.7" r="4.6" fill="#00A9FF" stroke="#00689E"/>
<circle cx="1387.7" cy="675.6" r="4.6" fill="#00A9FF" stroke="#00689E"/>
<circle cx="1413.1" cy="638.3" r="5.0" fill="#00A9FF" stroke="#00689E"/>
<circle cx="1422.9" cy="623.8" r="5.8" fill="#00A9FF" stroke="#00689E"/>
<circle cx="1424.1" cy="622.2" r="5.8" fill="#00A9FF" stroke="#00689E"/>
<circle cx="1402.8" cy="603.1" r="5.0" fill="#00A9FF" stroke="#00689E"/>
<circle cx="1433.2" cy="606.0" r="6.2" fill="#00A9FF" stroke="#00689E"/>
<circle cx="1409.4" cy="585.3" r="5.4" fill="#00A9FF" stroke="#00689E"/>
<circle cx="1401.1" cy="744.3" r="2.9" fill="#8494FF" stroke="#515B9E"/>
<circle cx="1409.4" cy="743.7" r="2.9" fill="#8494FF" stroke="#515B9E"/>
<circle cx="1417.7" cy="742.2" r="3.1" fill="#8494FF" stroke="#515B9E"/>
<circle cx="1424.9" cy="743.3" r="3.1" fill="#8494FF" stroke="#515B9E"/>
<circle cx="1430.1" cy="741.8" r="3.3" fill="#8494FF" stroke="#515B9E"/>
<circle cx="1435.3" cy="740.2" r="3.3" fill="#8494FF" stroke="#515B9E"/>
<circle cx="1437.3" cy="737.1" r="3.3" fill="#8494FF" stroke="#515B9E"/>
<circle cx="1443.6" cy="735.6" r="3.3" fill="#8494FF" stroke="#515B9E"/>
<circle cx="1448.7" cy="731.9" r="3.7" fill="#8494FF" stroke="#515B9E"/>
<circle cx="1460.0" cy="727.8" r="3.3" fill="#8494FF" stroke="#515B9E"/>
<circle cx="1463.1" cy="713.3" r="4.1" fill="#8494FF" stroke="#515B9E"/>
<circle cx="1466.2" cy="710.2" r="4.1" fill="#8494FF" stroke="#515B9E"/>
<circle cx="1465.2" cy="707.1" r="4.1" fill="#8494FF" stroke="#515B9E"/>
<circle cx="1466.4" cy="705.5" r="4.1" fill="#8494FF" stroke="#515B9E"/>
<circle cx="1471.4" cy="695.7" r="4.1" fill="#8494FF" stroke="#515B9E"/>
<circle cx="1482.1" cy="679.5" r="4.1" fill="#8494FF" stroke="#515B9E"/>
<circle cx="1492.1" cy="657.0" r="4.1" fill="#8494FF" stroke="#515B9E"/>
<circle cx="1514.9" cy="650.1" r="5.0" fill="#8494FF" stroke="#515B9E"/>
<circle cx="1531.8" cy="624.3" r="5.8" fill="#8494FF" stroke="#515B9E"/>
<circle cx="1510.7" cy="563.8" r="5.0" fill="#8494FF" stroke="#515B9E"/>
<circle cx="1562.9" cy="443.8" r="7.2" fill="#8494FF" stroke="#515B9E"/>
<circle cx="1520.0" cy="743.7" r="3.1" fill="#C77CFF" stroke="#7B4C9E"/>
<circle cx="1524.8" cy="742.2" r="3.1" fill="#C77CFF" stroke="#7B4C9E"/>
<circle cx="1538.7" cy="739.1" r="3.5" fill="#C77CFF" stroke="#7B4C9E"/>
<circle cx="1537.6" cy="741.2" r="3.1" fill="#C77CFF" stroke="#7B4C9E"/>
<circle cx="1546.9" cy="737.1" r="3.5" fill="#C77CFF" stroke="#7B4C9E"/>
<circle cx="1551.1" cy="739.1" r="3.5" fill="#C77CFF" stroke="#7B4C9E"/>
<circle cx="1555.6" cy="743.7" r="3.5" fill="#C77CFF" stroke="#7B4C9E"/>
<circle cx="1555.2" cy="731.9" r="3.7" fill="#C77CFF" stroke="#7B4C9E"/>
<circle cx="1559.4" cy="730.9" r="3.7" fill="#C77CFF" stroke="#7B4C9E"/>
<circle cx="1561.4" cy="726.7" r="3.7" fill="#C77CFF" stroke="#7B4C9E"/>
<circle cx="1562.7" cy="725.9" r="3.7" fill="#C77CFF" stroke="#7B4C9E"/>
<circle cx="1563.5" cy="724.6" r="3.7" fill="#C77CFF" stroke="#7B4C9E"/>
<circle cx="1564.3" cy="724.9" r="3.7" fill="#C77CFF" stroke="#7B4C9E"/>
<circle cx="1565.6" cy="723.6" r="3.7" fill="#C77CFF" stroke="#7B4C9E"/>
<circle cx="1566.6" cy="723.2" r="3.7" fill="#C77CFF" stroke="#7B4C9E"/>
<circle cx="1568.7" cy="720.5" r="3.7" fill="#C77CFF" stroke="#7B4C9E"/>
<circle cx="1568.2" cy="719.9" r="3.7" fill="#C77CFF" stroke="#7B4C9E"/>
<circle cx="1571.8" cy="717.4" r="3.7" fill="#C77CFF" stroke="#7B4C9E"/>
<circle cx="1573.8" cy="714.3" r="3.7" fill="#C77CFF" stroke="#7B4C9E"/>
<circle cx="1575.5" cy="711.2" r="4.1" fill="#C77CFF" stroke="#7B4C9E"/>
<circle cx="1578.4" cy="698.8" r="4.1" fill="#C77CFF" stroke="#7B4C9E"/>
<circle cx="1581.1" cy="700.8" r="3.7" fill="#C77CFF" stroke="#7B4C9E"/>
<circle cx="1587.3" cy="688.4" r="4.1" fill="#C77CFF" stroke="#7B4C9E"/>
<circle cx="1589.4" cy="698.2" r="4.1" fill="#C77CFF" stroke="#7B4C9E"/>
<circle cx="1595.2" cy="691.1" r="4.1" fill="#C77CFF" stroke="#7B4C9E"/>
<circle cx="1594.1" cy="673.9" r="4.1" fill="#C77CFF" stroke="#7B4C9E"/>
<circle cx="1603.2" cy="680.1" r="4.1" fill="#C77CFF" stroke="#7B4C9E"/>
<circle cx="1608.0" cy="673.9" r="4.1" fill="#C77CFF" stroke="#7B4C9E"/>
<circle cx="1589.4" cy="659.4" r="4.1" fill="#C77CFF" stroke="#7B4C9E"/>
<circle cx="1590.6" cy="657.8" r="4.1" fill="#C77CFF" stroke="#7B4C9E"/>
<circle cx="1594.5" cy="660.5" r="4.1" fill="#C77CFF" stroke="#7B4C9E"/>
<circle cx="1595.0" cy="645.6" r="4.1" fill="#C77CFF" stroke="#7B4C9E"/>
<circle cx="1606.6" cy="644.3" r="4.6" fill="#C77CFF" stroke="#7B4C9E"/>
<circle cx="1629.1" cy="643.9" r="5.2" fill="#C77CFF" stroke="#7B4C9E"/>
<circle cx="1641.1" cy="625.3" r="5.8" fill="#C77CFF" stroke="#7B4C9E"/>
<circle cx="1679.4" cy="561.1" r="7.5" fill="#C77CFF" stroke="#7B4C9E"/>
<circle cx="1598.7" cy="744.7" r="2.5" fill="#ED68ED" stroke="#924092"/>
<circle cx="1647.3" cy="743.9" r="3.1" fill="#ED68ED" stroke="#924092"/>
<circle cx="1672.6" cy="725.1" r="3.5" fill="#ED68ED" stroke="#924092"/>
<circle cx="1693.5" cy="705.0" r="3.7" fill="#ED68ED" stroke="#924092"/>
<circle cx="1701.8" cy="695.0" r="4.1" fill="#ED68ED" stroke="#924092"/>
<circle cx="1738.3" cy="643.9" r="5.4" fill="#ED68ED" stroke="#924092"/>
<circle cx="1771.4" cy="590.1" r="7.2" fill="#ED68ED" stroke="#924092"/>
<circle cx="1772.6" cy="588.5" r="7.2" fill="#ED68ED" stroke="#924092"/>
<circle cx="1774.1" cy="734.0" r="3.5" fill="#FF61CC" stroke="#9E3C7E"/>
<circle cx="1781.1" cy="726.1" r="3.5" fill="#FF61CC" stroke="#9E3C7E"/>
<circle cx="1793.1" cy="714.3" r="3.7" fill="#FF61CC" stroke="#9E3C7E"/>
<circle cx="1802.5" cy="705.6" r="4.1" fill="#FF61CC" stroke="#9E3C7E"/>
<circle cx="1817.6" cy="686.4" r="4.6" fill="#FF61CC" stroke="#9E3C7E"/>
<circle cx="1830.4" cy="744.7" r="2.9" fill="#FF61CC" stroke="#9E3C7E"/>
<circle cx="1845.9" cy="646.4" r="5.0" fill="#FF61CC" stroke="#9E3C7E"/>
<circle cx="1849.0" cy="641.2" r="5.0" fill="#FF61CC" stroke="#9E3C7E"/>
<circle cx="1851.1" cy="742.2" r="3.1" fill="#FF68A1" stroke="#9E4063"/>
<circle cx="1854.2" cy="742.2" r="3.1" fill="#FF68A1" stroke="#9E4063"/>
<circle cx="1857.3" cy="741.8" r="3.1" fill="#FF68A1" stroke="#9E4063"/>
<circle cx="1858.4" cy="742.1" r="3.1" fill="#FF68A1" stroke="#9E4063"/>
<circle cx="1861.5" cy="741.2" r="3.3" fill="#FF68A1" stroke="#9E4063"/>
<circle cx="1867.7" cy="742.7" r="3.3" fill="#FF68A1" stroke="#9E4063"/>
<circle cx="1871.8" cy="738.1" r="3.7" fill="#FF68A1" stroke="#9E4063"/>
<circle cx="1873.2" cy="739.3" r="3.7" fill="#FF68A1" stroke="#9E4063"/>
<circle cx="1875.9" cy="736.0" r="3.7" fill="#FF68A1" stroke="#9E4063"/>
<circle cx="1874.9" cy="736.2" r="3.7" fill="#FF68A1" stroke="#9E4063"/>
<circle cx="1880.1" cy="734.0" r="3.7" fill="#FF68A1" stroke="#9E4063"/>
<circle cx="1878.9" cy="732.6" r="3.7" fill="#FF68A1" stroke="#9E4063"/>
<circle cx="1884.2" cy="731.9" r="3.7" fill="#FF68A1" stroke="#9E4063"/>
<circle cx="1882.9" cy="733.0" r="3.7" fill="#FF68A1" stroke="#9E4063"/>
<circle cx="1887.3" cy="729.8" r="3.7" fill="#FF68A1" stroke="#9E4063"/>
<circle cx="1888.2" cy="730.8" r="3.7" fill="#FF68A1" stroke="#9E4063"/>
<circle cx="1890.4" cy="727.8" r="3.7" fill="#FF68A1" stroke="#9E4063"/>
<circle cx="1890.0" cy="728.1" r="3.7" fill="#FF68A1" stroke="#9E4063"/>
<circle cx="1893.5" cy="724.6" r="3.7" fill="#FF68A1" stroke="#9E4063"/>
<circle cx="1896.6" cy="721.5" r="3.7" fill="#FF68A1" stroke="#9E4063"/>
<circle cx="1899.8" cy="717.4" r="3.7" fill="#FF68A1" stroke="#9E4063"/>
<circle cx="1894.6" cy="731.9" r="3.7" fill="#FF68A1" stroke="#9E4063"/>
<circle cx="1878.0" cy="739.1" r="3.3" fill="#FF68A1" stroke="#9E4063"/>
<circle cx="1878.9" cy="738.8" r="3.3" fill="#FF68A1" stroke="#9E4063"/>
<circle cx="1886.3" cy="735.0" r="3.3" fill="#FF68A1" stroke="#9E4063"/>
<circle cx="1886.5" cy="734.2" r="3.3" fill="#FF68A1" stroke="#9E4063"/>
<circle cx="2002.0" cy="433.8" r="6.2" fill="#FF68A1" stroke="#9E4063"/>
<circle cx="1962.1" cy="451.0" r="5.0" fill="#FF68A1" stroke="#9E4063"/>
<circle cx="1976.6" cy="447.3" r="5.4" fill="#FF68A1" stroke="#9E4063"/>
<circle cx="1972.4" cy="463.8" r="5.0" fill="#FF68A1" stroke="#9E4063"/>
<circle cx="1993.8" cy="463.2" r="6.2" fill="#FF68A1" stroke="#9E4063"/>
<circle cx="2065.6" cy="462.8" r="11.4" fill="#FF68A1" stroke="#9E4063"/>
<circle cx="2048.0" cy="492.4" r="9.9" fill="#FF68A1" stroke="#9E4063"/>
<circle cx="1953.4" cy="503.8" r="4.6" fill="#FF68A1" stroke="#9E4063"/>
<circle cx="1982.8" cy="504.2" r="5.8" fill="#FF68A1" stroke="#9E4063"/>
<circle cx="1984.0" cy="502.6" r="5.8" fill="#FF68A1" stroke="#9E4063"/>
<circle cx="1979.7" cy="514.5" r="5.4" fill="#FF68A1" stroke="#9E4063"/>
<circle cx="1972.9" cy="537.3" r="5.4" fill="#FF68A1" stroke="#9E4063"/>
<circle cx="2017.0" cy="545.6" r="7.9" fill="#FF68A1" stroke="#9E4063"/>
<circle cx="2018.2" cy="544.0" r="7.9" fill="#FF68A1" stroke="#9E4063"/>
<circle cx="2012.4" cy="553.5" r="7.2" fill="#FF68A1" stroke="#9E4063"/>
<circle cx="2001.4" cy="572.5" r="7.2" fill="#FF68A1" stroke="#9E4063"/>
<circle cx="1996.3" cy="579.8" r="6.8" fill="#FF68A1" stroke="#9E4063"/>
<circle cx="1997.5" cy="578.2" r="6.8" fill="#FF68A1" stroke="#9E4063"/>
<circle cx="1958.4" cy="581.8" r="5.0" fill="#FF68A1" stroke="#9E4063"/>
<circle cx="1955.5" cy="592.2" r="5.0" fill="#FF68A1" stroke="#9E4063"/>
<circle cx="1936.2" cy="590.7" r="4.6" fill="#FF68A1" stroke="#9E4063"/>
<circle cx="1950.3" cy="605.2" r="5.0" fill="#FF68A1" stroke="#9E4063"/>
<circle cx="1980.7" cy="606.7" r="6.2" fill="#FF68A1" stroke="#9E4063"/>
<circle cx="1981.9" cy="605.1" r="6.2" fill="#FF68A1" stroke="#9E4063"/>
<circle cx="1978.2" cy="611.4" r="5.8" fill="#FF68A1" stroke="#9E4063"/>
<circle cx="1936.2" cy="616.0" r="5.0" fill="#FF68A1" stroke="#9E4063"/>
<circle cx="1937.4" cy="614.4" r="5.0" fill="#FF68A1" stroke="#9E4063"/>
<circle cx="1966.2" cy="629.4" r="5.4" fill="#FF68A1" stroke="#9E4063"/>
<circle cx="1931.0" cy="631.5" r="4.1" fill="#FF68A1" stroke="#9E4063"/>
<circle cx="1924.8" cy="638.7" r="4.1" fill="#FF68A1" stroke="#9E4063"/>
<circle cx="1959.0" cy="638.7" r="5.4" fill="#FF68A1" stroke="#9E4063"/>
<circle cx="1955.9" cy="643.9" r="5.0" fill="#FF68A1" stroke="#9E4063"/>
<circle cx="1953.8" cy="648.1" r="4.6" fill="#FF68A1" stroke="#9E4063"/>
<circle cx="1935.2" cy="643.9" r="4.6" fill="#FF68A1" stroke="#9E4063"/>
<circle cx="1936.4" cy="642.3" r="4.6" fill="#FF68A1" stroke="#9E4063"/>
<circle cx="1932.1" cy="652.2" r="4.6" fill="#FF68A1" stroke="#9E4063"/>
<circle cx="1909.9" cy="646.0" r="4.1" fill="#FF68A1" stroke="#9E4063"/>
<circle cx="1947.6" cy="658.4" r="4.1" fill="#FF68A1" stroke="#9E4063"/>
<circle cx="1944.5" cy="662.6" r="4.1" fill="#FF68A1" stroke="#9E4063"/>
<circle cx="1941.4" cy="666.7" r="4.1" fill="#FF68A1" stroke="#9E4063"/>
<circle cx="1938.3" cy="671.9" r="4.1" fill="#FF68A1" stroke="#9E4063"/>
<circle cx="1919.7" cy="668.8" r="4.1" fill="#FF68A1" stroke="#9E4063"/>
<circle cx="1922.8" cy="673.9" r="4.1" fill="#FF68A1" stroke="#9E4063"/>
<circle cx="1920.7" cy="679.1" r="4.1" fill="#FF68A1" stroke="#9E4063"/>
<circle cx="1911.4" cy="680.1" r="4.1" fill="#FF68A1" stroke="#9E4063"/>
<circle cx="1931.0" cy="683.2" r="4.1" fill="#FF68A1" stroke="#9E4063"/>
<circle cx="1926.9" cy="688.4" r="4.1" fill="#FF68A1" stroke="#9E4063"/>
<circle cx="1915.5" cy="689.5" r="4.1" fill="#FF68A1" stroke="#9E4063"/>
<circle cx="1912.4" cy="694.6" r="4.1" fill="#FF68A1" stroke="#9E4063"/>
<circle cx="1911.2" cy="693.9" r="4.1" fill="#FF68A1" stroke="#9E4063"/>
<circle cx="1916.6" cy="699.8" r="4.1" fill="#FF68A1" stroke="#9E4063"/>
<circle cx="1917.7" cy="700.0" r="4.1" fill="#FF68A1" stroke="#9E4063"/>
<circle cx="1910.3" cy="702.9" r="4.1" fill="#FF68A1" stroke="#9E4063"/>
<circle cx="1911.6" cy="702.8" r="4.1" fill="#FF68A1" stroke="#9E4063"/>
<circle cx="1906.2" cy="707.1" r="4.1" fill="#FF68A1" stroke="#9E4063"/>
<circle cx="1905.5" cy="707.9" r="4.1" fill="#FF68A1" stroke="#9E4063"/>
<circle cx="1903.1" cy="711.2" r="4.1" fill="#FF68A1" stroke="#9E4063"/>
<circle cx="1908.3" cy="698.8" r="4.1" fill="#FF68A1" stroke="#9E4063"/>
<circle cx="1909.3" cy="697.3" r="4.1" fill="#FF68A1" stroke="#9E4063"/>
<circle cx="1904.1" cy="706.0" r="4.1" fill="#FF68A1" stroke="#9E4063"/>
<circle cx="1904.7" cy="704.8" r="4.1" fill="#FF68A1" stroke="#9E4063"/>
<circle cx="1913.5" cy="696.7" r="4.1" fill="#FF68A1" stroke="#9E4063"/>
<circle cx="1912.3" cy="697.9" r="4.1" fill="#FF68A1" stroke="#9E4063"/>
<circle cx="485.1" cy="372.7" r="8.7" fill="#E68613" stroke="#8E530B"/>
<circle cx="825.8" cy="201.7" r="9.6" fill="#7CAE00" stroke="#4C6B00"/>
<circle cx="817.8" cy="369.7" r="9.1" fill="#7CAE00" stroke="#4C6B00"/>
<circle cx="896.0" cy="229.8" r="6.9" fill="#0CB702" stroke="#077101"/>
<circle cx="929.1" cy="181.8" r="9.1" fill="#0CB702" stroke="#077101"/>
<circle cx="937.1" cy="326.3" r="9.6" fill="#0CB702" stroke="#077101"/>
<circle cx="897.8" cy="365.1" r="7.3" fill="#0CB702" stroke="#077101"/>
<circle cx="861.7" cy="396.0" r="5.7" fill="#0CB702" stroke="#077101"/>
<circle cx="1276.8" cy="182.3" r="10.8" fill="#00BFC4" stroke="#007679"/>
<circle cx="1265.8" cy="331.5" r="9.6" fill="#00BFC4" stroke="#007679"/>
<circle cx="1253.1" cy="375.4" r="8.7" fill="#00BFC4" stroke="#007679"/>
<circle cx="1557.7" cy="229.8" r="7.3" fill="#8494FF" stroke="#515B9E"/>
<circle cx="1390.9" cy="356.0" r="5.0" fill="#00A9FF" stroke="#00689E"/>
<circle cx="2045.2" cy="105.5" r="10.8" fill="#FF68A1" stroke="#9E4063"/>
<circle cx="1984.7" cy="265.3" r="6.4" fill="#FF68A1" stroke="#9E4063"/>
<circle cx="2036.6" cy="313.7" r="9.6" fill="#FF68A1" stroke="#9E4063"/>
<circle cx="1993.6" cy="361.3" r="6.9" fill="#FF68A1" stroke="#9E4063"/>
<circle cx="1995.0" cy="369.7" r="6.9" fill="#FF68A1" stroke="#9E4063"/>
</g>
<text x="81.8" y="754.8" font-size="30" fill="#4D4D4D" text-anchor="end" font-family="Liberation Sans, Arial, sans-serif">0</text>
<text x="81.8" y="595.1" font-size="30" fill="#4D4D4D" text-anchor="end" font-family="Liberation Sans, Arial, sans-serif">1</text>
<text x="81.8" y="435.4" font-size="30" fill="#4D4D4D" text-anchor="end" font-family="Liberation Sans, Arial, sans-serif">2</text>
<text x="81.8" y="275.7" font-size="30" fill="#4D4D4D" text-anchor="end" font-family="Liberation Sans, Arial, sans-serif">3</text>
<text x="81.8" y="116.0" font-size="30" fill="#4D4D4D" text-anchor="end" font-family="Liberation Sans, Arial, sans-serif">4</text>
<line x1="95" y1="1892.6" x2="2160" y2="1892.6" stroke="#EBEBEB" stroke-width="1.7"/>
<line x1="95" y1="1774.2" x2="2160" y2="1774.2" stroke="#EBEBEB" stroke-width="1.2"/>
<line x1="95" y1="1655.9" x2="2160" y2="1655.9" stroke="#EBEBEB" stroke-width="1.7"/>
<line x1="95" y1="1537.5" x2="2160" y2="1537.5" stroke="#EBEBEB" stroke-width="1.2"/>
<line x1="95" y1="1419.2" x2="2160" y2="1419.2" stroke="#EBEBEB" stroke-width="1.7"/>
<line x1="95" y1="1300.8" x2="2160" y2="1300.8" stroke="#EBEBEB" stroke-width="1.2"/>
<line x1="92.9" y1="1221.4" x2="92.9" y2="1924.0" stroke="#EBEBEB" stroke-width="1.7"/>
<line x1="150.6" y1="1221.4" x2="150.6" y2="1924.0" stroke="#EBEBEB" stroke-width="1.2"/>
<line x1="208.3" y1="1221.4" x2="208.3" y2="1924.0" stroke="#EBEBEB" stroke-width="1.7"/>
<line x1="266.0" y1="1221.4" x2="266.0" y2="1924.0" stroke="#EBEBEB" stroke-width="1.2"/>
<line x1="323.7" y1="1221.4" x2="323.7" y2="1924.0" stroke="#EBEBEB" stroke-width="1.7"/>
<line x1="381.4" y1="1221.4" x2="381.4" y2="1924.0" stroke="#EBEBEB" stroke-width="1.2"/>
<line x1="439.0" y1="1221.4" x2="439.0" y2="1924.0" stroke="#EBEBEB" stroke-width="1.7"/>
<line x1="496.7" y1="1221.4" x2="496.7" y2="1924.0" stroke="#EBEBEB" stroke-width="1.2"/>
<line x1="554.4" y1="1221.4" x2="554.4" y2="1924.0" stroke="#EBEBEB" stroke-width="1.7"/>
<line x1="612.1" y1="1221.4" x2="612.1" y2="1924.0" stroke="#EBEBEB" stroke-width="1.2"/>
<line x1="669.8" y1="1221.4" x2="669.8" y2="1924.0" stroke="#EBEBEB" stroke-width="1.7"/>
<line x1="727.5" y1="1221.4" x2="727.5" y2="1924.0" stroke="#EBEBEB" stroke-width="1.2"/>
<line x1="785.2" y1="1221.4" x2="785.2" y2="1924.0" stroke="#EBEBEB" stroke-width="1.7"/>
<line x1="842.9" y1="1221.4" x2="842.9" y2="1924.0" stroke="#EBEBEB" stroke-width="1.2"/>
<line x1="900.6" y1="1221.4" x2="900.6" y2="1924.0" stroke="#EBEBEB" stroke-width="1.7"/>
<line x1="958.2" y1="1221.4" x2="958.2" y2="1924.0" stroke="#EBEBEB" stroke-width="1.2"/>
<line x1="1015.9" y1="1221.4" x2="1015.9" y2="1924.0" stroke="#EBEBEB" stroke-width="1.7"/>
<line x1="1073.6" y1="1221.4" x2="1073.6" y2="1924.0" stroke="#EBEBEB" stroke-width="1.2"/>
<line x1="1131.3" y1="1221.4" x2="1131.3" y2="1924.0" stroke="#EBEBEB" stroke-width="1.7"/>
<line x1="1189.0" y1="1221.4" x2="1189.0" y2="1924.0" stroke="#EBEBEB" stroke-width="1.2"/>
<line x1="1246.7" y1="1221.4" x2="1246.7" y2="1924.0" stroke="#EBEBEB" stroke-width="1.7"/>
<line x1="1304.4" y1="1221.4" x2="1304.4" y2="1924.0" stroke="#EBEBEB" stroke-width="1.2"/>
<line x1="1362.1" y1="1221.4" x2="1362.1" y2="1924.0" stroke="#EBEBEB" stroke-width="1.7"/>
<line x1="1419.8" y1="1221.4" x2="1419.8" y2="1924.0" stroke="#EBEBEB" stroke-width="1.2"/>
<line x1="1477.5" y1="1221.4" x2="1477.5" y2="1924.0" stroke="#EBEBEB" stroke-width="1.7"/>
<line x1="1535.2" y1="1221.4" x2="1535.2" y2="1924.0" stroke="#EBEBEB" stroke-width="1.2"/>
<line x1="1592.8" y1="1221.4" x2="1592.8" y2="1924.0" stroke="#EBEBEB" stroke-width="1.7"/>
<line x1="1650.5" y1="1221.4" x2="1650.5" y2="1924.0" stroke="#EBEBEB" stroke-width="1.2"/>
<line x1="1708.2" y1="1221.4" x2="1708.2" y2="1924.0" stroke="#EBEBEB" stroke-width="1.7"/>
<line x1="1765.9" y1="1221.4" x2="1765.9" y2="1924.0" stroke="#EBEBEB" stroke-width="1.2"/>
<line x1="1823.6" y1="1221.4" x2="1823.6" y2="1924.0" stroke="#EBEBEB" stroke-width="1.7"/>
<line x1="1881.3" y1="1221.4" x2="1881.3" y2="1924.0" stroke="#EBEBEB" stroke-width="1.2"/>
<line x1="1939.0" y1="1221.4" x2="1939.0" y2="1924.0" stroke="#EBEBEB" stroke-width="1.7"/>
<line x1="1996.7" y1="1221.4" x2="1996.7" y2="1924.0" stroke="#EBEBEB" stroke-width="1.2"/>
<line x1="2054.4" y1="1221.4" x2="2054.4" y2="1924.0" stroke="#EBEBEB" stroke-width="1.7"/>
<line x1="92" y1="1253.3" x2="2160" y2="1253.3" stroke="#000" stroke-width="2.3" stroke-dasharray="8.3 7.9"/>
<g fill-opacity="0.53" stroke-opacity="0.45" stroke-width="1.1">
<circle cx="1222.0" cy="1872.0" r="4.8" fill="#00B8E7" stroke="#00728F"/>
<circle cx="1227.0" cy="1872.8" r="4.8" fill="#00B8E7" stroke="#00728F"/>
<circle cx="1223.8" cy="1864.8" r="4.8" fill="#00B8E7" stroke="#00728F"/>
<circle cx="1228.8" cy="1865.6" r="4.8" fill="#00B8E7" stroke="#00728F"/>
<circle cx="1233.7" cy="1866.4" r="4.8" fill="#00B8E7" stroke="#00728F"/>
<circle cx="1230.5" cy="1858.5" r="4.8" fill="#00B8E7" stroke="#00728F"/>
<circle cx="1235.5" cy="1859.2" r="4.8" fill="#00B8E7" stroke="#00728F"/>
<circle cx="1240.5" cy="1860.0" r="4.8" fill="#00B8E7" stroke="#00728F"/>
<circle cx="1236.8" cy="1852.5" r="4.8" fill="#00B8E7" stroke="#00728F"/>
<circle cx="1242.0" cy="1852.4" r="4.8" fill="#00B8E7" stroke="#00728F"/>
<circle cx="1247.2" cy="1852.4" r="4.8" fill="#00B8E7" stroke="#00728F"/>
<circle cx="1242.8" cy="1844.9" r="4.8" fill="#00B8E7" stroke="#00728F"/>
<circle cx="1248.0" cy="1844.8" r="4.8" fill="#00B8E7" stroke="#00728F"/>
<circle cx="1253.2" cy="1844.7" r="4.8" fill="#00B8E7" stroke="#00728F"/>
<circle cx="1248.8" cy="1837.2" r="4.8" fill="#00B8E7" stroke="#00728F"/>
<circle cx="1254.0" cy="1837.1" r="4.8" fill="#00B8E7" stroke="#00728F"/>
<circle cx="1259.2" cy="1837.0" r="4.8" fill="#00B8E7" stroke="#00728F"/>
<circle cx="1254.5" cy="1830.1" r="4.8" fill="#00B8E7" stroke="#00728F"/>
<circle cx="1259.5" cy="1829.3" r="4.8" fill="#00B8E7" stroke="#00728F"/>
<circle cx="1264.5" cy="1828.5" r="4.8" fill="#00B8E7" stroke="#00728F"/>
<circle cx="1259.0" cy="1822.0" r="4.8" fill="#00B8E7" stroke="#00728F"/>
<circle cx="1264.0" cy="1821.2" r="4.8" fill="#00B8E7" stroke="#00728F"/>
<circle cx="1269.0" cy="1820.4" r="4.8" fill="#00B8E7" stroke="#00728F"/>
<circle cx="1263.5" cy="1813.9" r="4.8" fill="#00B8E7" stroke="#00728F"/>
<circle cx="1268.5" cy="1813.1" r="4.8" fill="#00B8E7" stroke="#00728F"/>
<circle cx="1273.5" cy="1812.3" r="4.8" fill="#00B8E7" stroke="#00728F"/>
<circle cx="1268.0" cy="1805.8" r="4.8" fill="#00B8E7" stroke="#00728F"/>
<circle cx="1273.0" cy="1805.0" r="4.8" fill="#00B8E7" stroke="#00728F"/>
<circle cx="1277.9" cy="1804.1" r="4.8" fill="#00B8E7" stroke="#00728F"/>
<circle cx="1272.1" cy="1797.8" r="4.8" fill="#00B8E7" stroke="#00728F"/>
<circle cx="1277.1" cy="1796.8" r="4.8" fill="#00B8E7" stroke="#00728F"/>
<circle cx="1282.0" cy="1795.9" r="4.8" fill="#00B8E7" stroke="#00728F"/>
<circle cx="1276.2" cy="1789.6" r="4.8" fill="#00B8E7" stroke="#00728F"/>
<circle cx="1281.2" cy="1788.6" r="4.8" fill="#00B8E7" stroke="#00728F"/>
<circle cx="1286.1" cy="1787.7" r="4.8" fill="#00B8E7" stroke="#00728F"/>
<circle cx="1280.3" cy="1781.4" r="4.8" fill="#00B8E7" stroke="#00728F"/>
<circle cx="1285.3" cy="1780.5" r="4.8" fill="#00B8E7" stroke="#00728F"/>
<circle cx="1290.2" cy="1779.5" r="4.8" fill="#00B8E7" stroke="#00728F"/>
<circle cx="1284.3" cy="1773.4" r="4.8" fill="#00B8E7" stroke="#00728F"/>
<circle cx="1289.3" cy="1772.0" r="4.8" fill="#00B8E7" stroke="#00728F"/>
<circle cx="1294.2" cy="1770.6" r="4.8" fill="#00B8E7" stroke="#00728F"/>
<circle cx="1288.1" cy="1764.4" r="4.8" fill="#00B8E7" stroke="#00728F"/>
<circle cx="1293.1" cy="1763.0" r="4.8" fill="#00B8E7" stroke="#00728F"/>
<circle cx="1298.0" cy="1761.6" r="4.8" fill="#00B8E7" stroke="#00728F"/>
<circle cx="1292.0" cy="1755.4" r="4.8" fill="#00B8E7" stroke="#00728F"/>
<circle cx="1296.9" cy="1754.0" r="4.8" fill="#00B8E7" stroke="#00728F"/>
<circle cx="1301.9" cy="1752.6" r="4.8" fill="#00B8E7" stroke="#00728F"/>
<circle cx="1295.8" cy="1746.4" r="4.8" fill="#00B8E7" stroke="#00728F"/>
<circle cx="1300.7" cy="1745.0" r="4.8" fill="#00B8E7" stroke="#00728F"/>
<circle cx="1305.6" cy="1743.8" r="4.8" fill="#00B8E7" stroke="#00728F"/>
<circle cx="1299.9" cy="1737.4" r="4.8" fill="#00B8E7" stroke="#00728F"/>
<circle cx="1304.9" cy="1736.3" r="4.8" fill="#00B8E7" stroke="#00728F"/>
<circle cx="1309.9" cy="1735.2" r="4.8" fill="#00B8E7" stroke="#00728F"/>
<circle cx="1304.1" cy="1728.8" r="4.8" fill="#00B8E7" stroke="#00728F"/>
<circle cx="1309.1" cy="1727.7" r="4.8" fill="#00B8E7" stroke="#00728F"/>
<circle cx="1314.1" cy="1726.6" r="4.8" fill="#00B8E7" stroke="#00728F"/>
<circle cx="1560.0" cy="1880.0" r="4.2" fill="#C77CFF" stroke="#7B4C9E"/>
<circle cx="1564.5" cy="1879.6" r="4.2" fill="#C77CFF" stroke="#7B4C9E"/>
<circle cx="1564.5" cy="1873.4" r="4.2" fill="#C77CFF" stroke="#7B4C9E"/>
<circle cx="1569.0" cy="1873.0" r="4.2" fill="#C77CFF" stroke="#7B4C9E"/>
<circle cx="1573.5" cy="1872.6" r="4.2" fill="#C77CFF" stroke="#7B4C9E"/>
<circle cx="1573.5" cy="1866.4" r="4.2" fill="#C77CFF" stroke="#7B4C9E"/>
<circle cx="1578.0" cy="1866.0" r="4.2" fill="#C77CFF" stroke="#7B4C9E"/>
<circle cx="1582.3" cy="1864.5" r="4.2" fill="#C77CFF" stroke="#7B4C9E"/>
<circle cx="1580.7" cy="1858.5" r="4.2" fill="#C77CFF" stroke="#7B4C9E"/>
<circle cx="1585.0" cy="1857.0" r="4.2" fill="#C77CFF" stroke="#7B4C9E"/>
<circle cx="1589.3" cy="1855.5" r="4.2" fill="#C77CFF" stroke="#7B4C9E"/>
<circle cx="1587.7" cy="1849.5" r="4.2" fill="#C77CFF" stroke="#7B4C9E"/>
<circle cx="1592.0" cy="1848.0" r="4.2" fill="#C77CFF" stroke="#7B4C9E"/>
<circle cx="1596.0" cy="1845.6" r="4.2" fill="#C77CFF" stroke="#7B4C9E"/>
<circle cx="1593.3" cy="1839.9" r="4.2" fill="#C77CFF" stroke="#7B4C9E"/>
<circle cx="1597.2" cy="1837.5" r="4.2" fill="#C77CFF" stroke="#7B4C9E"/>
<circle cx="1601.2" cy="1835.1" r="4.2" fill="#C77CFF" stroke="#7B4C9E"/>
<circle cx="1598.5" cy="1829.4" r="4.2" fill="#C77CFF" stroke="#7B4C9E"/>
<circle cx="1602.5" cy="1827.0" r="4.2" fill="#C77CFF" stroke="#7B4C9E"/>
<circle cx="1606.5" cy="1824.6" r="4.2" fill="#C77CFF" stroke="#7B4C9E"/>
<circle cx="1603.8" cy="1818.9" r="4.2" fill="#C77CFF" stroke="#7B4C9E"/>
<circle cx="1607.7" cy="1816.7" r="4.2" fill="#C77CFF" stroke="#7B4C9E"/>
<circle cx="1611.6" cy="1814.5" r="4.2" fill="#C77CFF" stroke="#7B4C9E"/>
<circle cx="1608.8" cy="1808.9" r="4.2" fill="#C77CFF" stroke="#7B4C9E"/>
<circle cx="1612.7" cy="1806.7" r="4.2" fill="#C77CFF" stroke="#7B4C9E"/>
<circle cx="1616.6" cy="1804.5" r="4.2" fill="#C77CFF" stroke="#7B4C9E"/>
<circle cx="1613.8" cy="1798.9" r="4.2" fill="#C77CFF" stroke="#7B4C9E"/>
<circle cx="1617.7" cy="1796.7" r="4.2" fill="#C77CFF" stroke="#7B4C9E"/>
<circle cx="1621.6" cy="1794.5" r="4.2" fill="#C77CFF" stroke="#7B4C9E"/>
<circle cx="1618.8" cy="1788.9" r="4.2" fill="#C77CFF" stroke="#7B4C9E"/>
<circle cx="1622.6" cy="1786.8" r="4.2" fill="#C77CFF" stroke="#7B4C9E"/>
<circle cx="1626.4" cy="1784.8" r="4.2" fill="#C77CFF" stroke="#7B4C9E"/>
<circle cx="1623.5" cy="1779.4" r="4.2" fill="#C77CFF" stroke="#7B4C9E"/>
<circle cx="1627.3" cy="1777.3" r="4.2" fill="#C77CFF" stroke="#7B4C9E"/>
<circle cx="1631.2" cy="1775.3" r="4.2" fill="#C77CFF" stroke="#7B4C9E"/>
<circle cx="1628.3" cy="1769.9" r="4.2" fill="#C77CFF" stroke="#7B4C9E"/>
<circle cx="1632.1" cy="1767.8" r="4.2" fill="#C77CFF" stroke="#7B4C9E"/>
<circle cx="1635.9" cy="1765.8" r="4.2" fill="#C77CFF" stroke="#7B4C9E"/>
<circle cx="1633.0" cy="1760.4" r="4.2" fill="#C77CFF" stroke="#7B4C9E"/>
<circle cx="1636.8" cy="1758.3" r="4.2" fill="#C77CFF" stroke="#7B4C9E"/>
<circle cx="1640.7" cy="1756.3" r="4.2" fill="#C77CFF" stroke="#7B4C9E"/>
<circle cx="1637.8" cy="1750.9" r="4.2" fill="#C77CFF" stroke="#7B4C9E"/>
<circle cx="1641.6" cy="1748.7" r="4.2" fill="#C77CFF" stroke="#7B4C9E"/>
<circle cx="1645.5" cy="1746.6" r="4.2" fill="#C77CFF" stroke="#7B4C9E"/>
<circle cx="1642.7" cy="1741.1" r="4.2" fill="#C77CFF" stroke="#7B4C9E"/>
<circle cx="1646.5" cy="1738.9" r="4.2" fill="#C77CFF" stroke="#7B4C9E"/>
<circle cx="1650.4" cy="1736.8" r="4.2" fill="#C77CFF" stroke="#7B4C9E"/>
<circle cx="1647.6" cy="1731.2" r="4.2" fill="#C77CFF" stroke="#7B4C9E"/>
<circle cx="1651.5" cy="1729.1" r="4.2" fill="#C77CFF" stroke="#7B4C9E"/>
<circle cx="1655.3" cy="1726.9" r="4.2" fill="#C77CFF" stroke="#7B4C9E"/>
<circle cx="1652.5" cy="1721.4" r="4.2" fill="#C77CFF" stroke="#7B4C9E"/>
<circle cx="1656.4" cy="1719.3" r="4.2" fill="#C77CFF" stroke="#7B4C9E"/>
<circle cx="1922.0" cy="1866.0" r="4.6" fill="#FF68A1" stroke="#9E4063"/>
<circle cx="1926.4" cy="1864.6" r="4.6" fill="#FF68A1" stroke="#9E4063"/>
<circle cx="1925.1" cy="1858.4" r="4.6" fill="#FF68A1" stroke="#9E4063"/>
<circle cx="1929.5" cy="1857.0" r="4.6" fill="#FF68A1" stroke="#9E4063"/>
<circle cx="1933.9" cy="1855.6" r="4.6" fill="#FF68A1" stroke="#9E4063"/>
<circle cx="1932.6" cy="1849.4" r="4.6" fill="#FF68A1" stroke="#9E4063"/>
<circle cx="1937.0" cy="1848.0" r="4.6" fill="#FF68A1" stroke="#9E4063"/>
<circle cx="1941.2" cy="1845.4" r="4.6" fill="#FF68A1" stroke="#9E4063"/>
<circle cx="1938.8" cy="1839.3" r="4.6" fill="#FF68A1" stroke="#9E4063"/>
<circle cx="1943.0" cy="1836.8" r="4.6" fill="#FF68A1" stroke="#9E4063"/>
<circle cx="1947.2" cy="1834.2" r="4.6" fill="#FF68A1" stroke="#9E4063"/>
<circle cx="1944.5" cy="1828.6" r="4.6" fill="#FF68A1" stroke="#9E4063"/>
<circle cx="1948.4" cy="1826.4" r="4.6" fill="#FF68A1" stroke="#9E4063"/>
<circle cx="1952.4" cy="1824.3" r="4.6" fill="#FF68A1" stroke="#9E4063"/>
<circle cx="1949.6" cy="1818.7" r="4.6" fill="#FF68A1" stroke="#9E4063"/>
<circle cx="1953.6" cy="1816.6" r="4.6" fill="#FF68A1" stroke="#9E4063"/>
<circle cx="1957.5" cy="1814.4" r="4.6" fill="#FF68A1" stroke="#9E4063"/>
<circle cx="1954.9" cy="1808.7" r="4.6" fill="#FF68A1" stroke="#9E4063"/>
<circle cx="1959.0" cy="1806.7" r="4.6" fill="#FF68A1" stroke="#9E4063"/>
<circle cx="1963.1" cy="1804.6" r="4.6" fill="#FF68A1" stroke="#9E4063"/>
<circle cx="1989.0" cy="1750.0" r="5.5" fill="#FF68A1" stroke="#9E4063"/>
<circle cx="1993.1" cy="1746.8" r="5.5" fill="#FF68A1" stroke="#9E4063"/>
<circle cx="1990.4" cy="1740.7" r="5.5" fill="#FF68A1" stroke="#9E4063"/>
<circle cx="1994.5" cy="1737.5" r="5.5" fill="#FF68A1" stroke="#9E4063"/>
<circle cx="1998.6" cy="1734.3" r="5.5" fill="#FF68A1" stroke="#9E4063"/>
<circle cx="1995.9" cy="1728.2" r="5.5" fill="#FF68A1" stroke="#9E4063"/>
<circle cx="2000.0" cy="1725.0" r="5.5" fill="#FF68A1" stroke="#9E4063"/>
<circle cx="2004.0" cy="1722.2" r="5.5" fill="#FF68A1" stroke="#9E4063"/>
<circle cx="2001.0" cy="1716.3" r="5.5" fill="#FF68A1" stroke="#9E4063"/>
<circle cx="2005.0" cy="1713.5" r="5.5" fill="#FF68A1" stroke="#9E4063"/>
<circle cx="2009.0" cy="1710.7" r="5.5" fill="#FF68A1" stroke="#9E4063"/>
<circle cx="2006.0" cy="1704.8" r="5.5" fill="#FF68A1" stroke="#9E4063"/>
<circle cx="2010.0" cy="1702.0" r="5.5" fill="#FF68A1" stroke="#9E4063"/>
<circle cx="2013.9" cy="1699.4" r="5.5" fill="#FF68A1" stroke="#9E4063"/>
<circle cx="2011.1" cy="1693.6" r="5.5" fill="#FF68A1" stroke="#9E4063"/>
<circle cx="2015.0" cy="1691.0" r="5.5" fill="#FF68A1" stroke="#9E4063"/>
<circle cx="2018.9" cy="1688.4" r="5.5" fill="#FF68A1" stroke="#9E4063"/>
<circle cx="2016.1" cy="1682.6" r="5.5" fill="#FF68A1" stroke="#9E4063"/>
<circle cx="2020.0" cy="1680.0" r="5.5" fill="#FF68A1" stroke="#9E4063"/>
<circle cx="2023.9" cy="1677.4" r="5.5" fill="#FF68A1" stroke="#9E4063"/>
<circle cx="2021.1" cy="1671.6" r="5.5" fill="#FF68A1" stroke="#9E4063"/>
<circle cx="2025.0" cy="1669.0" r="5.5" fill="#FF68A1" stroke="#9E4063"/>
<circle cx="2028.9" cy="1666.4" r="5.5" fill="#FF68A1" stroke="#9E4063"/>
<circle cx="2026.1" cy="1660.6" r="5.5" fill="#FF68A1" stroke="#9E4063"/>
<circle cx="2030.0" cy="1658.0" r="5.5" fill="#FF68A1" stroke="#9E4063"/>
<circle cx="2034.3" cy="1654.7" r="5.5" fill="#FF68A1" stroke="#9E4063"/>
<circle cx="2031.7" cy="1648.3" r="5.5" fill="#FF68A1" stroke="#9E4063"/>
<circle cx="186.8" cy="1872.6" r="4.1" fill="#F8766D" stroke="#994943"/>
<circle cx="190.4" cy="1869.5" r="4.1" fill="#F8766D" stroke="#994943"/>
<circle cx="193.9" cy="1865.3" r="4.1" fill="#F8766D" stroke="#994943"/>
<circle cx="198.6" cy="1860.2" r="4.1" fill="#F8766D" stroke="#994943"/>
<circle cx="214.6" cy="1837.4" r="4.1" fill="#F8766D" stroke="#994943"/>
<circle cx="223.5" cy="1822.5" r="4.1" fill="#F8766D" stroke="#994943"/>
<circle cx="235.9" cy="1801.2" r="4.6" fill="#F8766D" stroke="#994943"/>
<circle cx="243.1" cy="1786.7" r="5.0" fill="#F8766D" stroke="#994943"/>
<circle cx="251.0" cy="1770.1" r="5.2" fill="#F8766D" stroke="#994943"/>
<circle cx="232.4" cy="1745.3" r="4.6" fill="#F8766D" stroke="#994943"/>
<circle cx="271.1" cy="1726.0" r="5.8" fill="#F8766D" stroke="#994943"/>
<circle cx="267.0" cy="1738.0" r="6.2" fill="#F8766D" stroke="#994943"/>
<circle cx="268.2" cy="1736.4" r="6.2" fill="#F8766D" stroke="#994943"/>
<circle cx="294.3" cy="1674.3" r="7.2" fill="#F8766D" stroke="#994943"/>
<circle cx="268.0" cy="1640.3" r="6.2" fill="#F8766D" stroke="#994943"/>
<circle cx="252.0" cy="1532.1" r="5.4" fill="#F8766D" stroke="#994943"/>
<circle cx="289.7" cy="1882.3" r="3.1" fill="#E68613" stroke="#8E530B"/>
<circle cx="298.0" cy="1876.7" r="3.3" fill="#E68613" stroke="#8E530B"/>
<circle cx="306.9" cy="1867.8" r="3.5" fill="#E68613" stroke="#8E530B"/>
<circle cx="315.0" cy="1858.1" r="4.1" fill="#E68613" stroke="#8E530B"/>
<circle cx="316.2" cy="1856.5" r="4.1" fill="#E68613" stroke="#8E530B"/>
<circle cx="321.4" cy="1844.2" r="3.7" fill="#E68613" stroke="#8E530B"/>
<circle cx="323.5" cy="1836.4" r="3.7" fill="#E68613" stroke="#8E530B"/>
<circle cx="325.9" cy="1830.2" r="3.7" fill="#E68613" stroke="#8E530B"/>
<circle cx="333.2" cy="1832.2" r="4.1" fill="#E68613" stroke="#8E530B"/>
<circle cx="334.2" cy="1828.7" r="4.1" fill="#E68613" stroke="#8E530B"/>
<circle cx="344.6" cy="1811.5" r="5.0" fill="#E68613" stroke="#8E530B"/>
<circle cx="345.8" cy="1809.9" r="5.0" fill="#E68613" stroke="#8E530B"/>
<circle cx="343.5" cy="1813.6" r="4.6" fill="#E68613" stroke="#8E530B"/>
<circle cx="350.8" cy="1800.1" r="4.6" fill="#E68613" stroke="#8E530B"/>
<circle cx="340.4" cy="1793.9" r="4.6" fill="#E68613" stroke="#8E530B"/>
<circle cx="342.5" cy="1788.8" r="5.0" fill="#E68613" stroke="#8E530B"/>
<circle cx="343.7" cy="1787.2" r="5.0" fill="#E68613" stroke="#8E530B"/>
<circle cx="357.0" cy="1788.3" r="4.6" fill="#E68613" stroke="#8E530B"/>
<circle cx="340.9" cy="1774.3" r="4.6" fill="#E68613" stroke="#8E530B"/>
<circle cx="349.1" cy="1768.1" r="4.6" fill="#E68613" stroke="#8E530B"/>
<circle cx="364.9" cy="1774.9" r="5.8" fill="#E68613" stroke="#8E530B"/>
<circle cx="366.1" cy="1773.3" r="5.8" fill="#E68613" stroke="#8E530B"/>
<circle cx="376.0" cy="1750.1" r="5.8" fill="#E68613" stroke="#8E530B"/>
<circle cx="383.9" cy="1731.8" r="5.8" fill="#E68613" stroke="#8E530B"/>
<circle cx="387.6" cy="1723.6" r="5.8" fill="#E68613" stroke="#8E530B"/>
<circle cx="362.8" cy="1717.3" r="5.0" fill="#E68613" stroke="#8E530B"/>
<circle cx="369.0" cy="1694.6" r="5.4" fill="#E68613" stroke="#8E530B"/>
<circle cx="371.5" cy="1686.3" r="5.4" fill="#E68613" stroke="#8E530B"/>
<circle cx="384.9" cy="1629.4" r="6.2" fill="#E68613" stroke="#8E530B"/>
<circle cx="391.8" cy="1603.5" r="6.6" fill="#E68613" stroke="#8E530B"/>
<circle cx="367.3" cy="1593.1" r="5.4" fill="#E68613" stroke="#8E530B"/>
<circle cx="409.7" cy="1673.5" r="8.3" fill="#E68613" stroke="#8E530B"/>
<circle cx="435.1" cy="1848.8" r="4.1" fill="#CD9600" stroke="#7F5D00"/>
<circle cx="438.0" cy="1841.5" r="4.1" fill="#CD9600" stroke="#7F5D00"/>
<circle cx="442.8" cy="1838.4" r="4.6" fill="#CD9600" stroke="#7F5D00"/>
<circle cx="444.0" cy="1836.8" r="4.6" fill="#CD9600" stroke="#7F5D00"/>
<circle cx="445.9" cy="1833.3" r="4.6" fill="#CD9600" stroke="#7F5D00"/>
<circle cx="447.1" cy="1831.7" r="4.6" fill="#CD9600" stroke="#7F5D00"/>
<circle cx="449.0" cy="1828.1" r="4.6" fill="#CD9600" stroke="#7F5D00"/>
<circle cx="450.2" cy="1826.5" r="4.6" fill="#CD9600" stroke="#7F5D00"/>
<circle cx="452.1" cy="1822.9" r="4.6" fill="#CD9600" stroke="#7F5D00"/>
<circle cx="453.3" cy="1821.3" r="4.6" fill="#CD9600" stroke="#7F5D00"/>
<circle cx="455.8" cy="1818.8" r="4.6" fill="#CD9600" stroke="#7F5D00"/>
<circle cx="462.4" cy="1808.4" r="4.6" fill="#CD9600" stroke="#7F5D00"/>
<circle cx="450.0" cy="1800.1" r="4.1" fill="#CD9600" stroke="#7F5D00"/>
<circle cx="465.6" cy="1796.0" r="4.6" fill="#CD9600" stroke="#7F5D00"/>
<circle cx="466.8" cy="1794.4" r="4.6" fill="#CD9600" stroke="#7F5D00"/>
<circle cx="470.7" cy="1789.8" r="5.0" fill="#CD9600" stroke="#7F5D00"/>
<circle cx="471.9" cy="1788.2" r="5.0" fill="#CD9600" stroke="#7F5D00"/>
<circle cx="458.9" cy="1785.7" r="4.6" fill="#CD9600" stroke="#7F5D00"/>
<circle cx="449.6" cy="1770.1" r="4.6" fill="#CD9600" stroke="#7F5D00"/>
<circle cx="462.4" cy="1772.2" r="4.6" fill="#CD9600" stroke="#7F5D00"/>
<circle cx="480.0" cy="1773.6" r="5.2" fill="#CD9600" stroke="#7F5D00"/>
<circle cx="486.7" cy="1759.8" r="5.4" fill="#CD9600" stroke="#7F5D00"/>
<circle cx="492.9" cy="1747.4" r="5.4" fill="#CD9600" stroke="#7F5D00"/>
<circle cx="495.6" cy="1738.0" r="5.8" fill="#CD9600" stroke="#7F5D00"/>
<circle cx="496.8" cy="1736.4" r="5.8" fill="#CD9600" stroke="#7F5D00"/>
<circle cx="498.1" cy="1731.8" r="6.2" fill="#CD9600" stroke="#7F5D00"/>
<circle cx="499.3" cy="1730.2" r="6.2" fill="#CD9600" stroke="#7F5D00"/>
<circle cx="498.7" cy="1728.7" r="6.2" fill="#CD9600" stroke="#7F5D00"/>
<circle cx="472.8" cy="1738.0" r="5.4" fill="#CD9600" stroke="#7F5D00"/>
<circle cx="474.0" cy="1736.4" r="5.4" fill="#CD9600" stroke="#7F5D00"/>
<circle cx="463.9" cy="1719.8" r="4.6" fill="#CD9600" stroke="#7F5D00"/>
<circle cx="479.4" cy="1612.8" r="5.4" fill="#CD9600" stroke="#7F5D00"/>
<circle cx="489.4" cy="1673.9" r="5.8" fill="#CD9600" stroke="#7F5D00"/>
<circle cx="513.6" cy="1700.8" r="7.2" fill="#CD9600" stroke="#7F5D00"/>
<circle cx="527.2" cy="1513.0" r="7.9" fill="#CD9600" stroke="#7F5D00"/>
<circle cx="519.8" cy="1882.3" r="3.1" fill="#ABA300" stroke="#6A6500"/>
<circle cx="549.4" cy="1853.5" r="4.1" fill="#ABA300" stroke="#6A6500"/>
<circle cx="560.8" cy="1835.3" r="4.1" fill="#ABA300" stroke="#6A6500"/>
<circle cx="560.8" cy="1823.9" r="4.1" fill="#ABA300" stroke="#6A6500"/>
<circle cx="579.0" cy="1806.4" r="4.6" fill="#ABA300" stroke="#6A6500"/>
<circle cx="574.8" cy="1783.6" r="4.6" fill="#ABA300" stroke="#6A6500"/>
<circle cx="580.0" cy="1767.0" r="4.6" fill="#ABA300" stroke="#6A6500"/>
<circle cx="695.6" cy="1766.6" r="4.6" fill="#7CAE00" stroke="#4C6B00"/>
<circle cx="708.7" cy="1670.2" r="5.0" fill="#7CAE00" stroke="#4C6B00"/>
<circle cx="726.9" cy="1644.9" r="6.2" fill="#7CAE00" stroke="#4C6B00"/>
<circle cx="728.1" cy="1643.3" r="6.2" fill="#7CAE00" stroke="#4C6B00"/>
<circle cx="736.2" cy="1607.6" r="6.2" fill="#7CAE00" stroke="#4C6B00"/>
<circle cx="733.5" cy="1723.1" r="5.8" fill="#7CAE00" stroke="#4C6B00"/>
<circle cx="732.0" cy="1728.3" r="5.8" fill="#7CAE00" stroke="#4C6B00"/>
<circle cx="770.1" cy="1866.0" r="3.7" fill="#0CB702" stroke="#077101"/>
<circle cx="800.8" cy="1781.5" r="4.6" fill="#0CB702" stroke="#077101"/>
<circle cx="815.7" cy="1795.0" r="5.0" fill="#0CB702" stroke="#077101"/>
<circle cx="816.9" cy="1793.4" r="5.0" fill="#0CB702" stroke="#077101"/>
<circle cx="825.2" cy="1775.3" r="5.8" fill="#0CB702" stroke="#077101"/>
<circle cx="826.4" cy="1773.7" r="5.8" fill="#0CB702" stroke="#077101"/>
<circle cx="840.1" cy="1743.8" r="5.8" fill="#0CB702" stroke="#077101"/>
<circle cx="845.9" cy="1730.4" r="6.2" fill="#0CB702" stroke="#077101"/>
<circle cx="824.2" cy="1718.4" r="5.4" fill="#0CB702" stroke="#077101"/>
<circle cx="820.9" cy="1684.8" r="5.0" fill="#0CB702" stroke="#077101"/>
<circle cx="835.5" cy="1674.5" r="6.2" fill="#0CB702" stroke="#077101"/>
<circle cx="836.7" cy="1672.9" r="6.2" fill="#0CB702" stroke="#077101"/>
<circle cx="860.2" cy="1699.3" r="6.6" fill="#0CB702" stroke="#077101"/>
<circle cx="867.0" cy="1683.8" r="7.2" fill="#0CB702" stroke="#077101"/>
<circle cx="876.3" cy="1662.5" r="7.9" fill="#0CB702" stroke="#077101"/>
<circle cx="877.5" cy="1660.9" r="7.9" fill="#0CB702" stroke="#077101"/>
<circle cx="878.4" cy="1655.2" r="7.9" fill="#0CB702" stroke="#077101"/>
<circle cx="820.6" cy="1611.2" r="5.4" fill="#0CB702" stroke="#077101"/>
<circle cx="837.0" cy="1591.1" r="5.8" fill="#0CB702" stroke="#077101"/>
<circle cx="855.2" cy="1597.7" r="6.6" fill="#0CB702" stroke="#077101"/>
<circle cx="863.9" cy="1552.8" r="7.2" fill="#0CB702" stroke="#077101"/>
<circle cx="865.1" cy="1551.2" r="7.2" fill="#0CB702" stroke="#077101"/>
<circle cx="867.6" cy="1538.7" r="7.2" fill="#0CB702" stroke="#077101"/>
<circle cx="856.7" cy="1892.3" r="2.9" fill="#00BE67" stroke="#00753F"/>
<circle cx="858.7" cy="1886.0" r="2.9" fill="#00BE67" stroke="#00753F"/>
<circle cx="863.5" cy="1884.0" r="2.9" fill="#00BE67" stroke="#00753F"/>
<circle cx="917.2" cy="1563.8" r="12.0" fill="#0CB702" stroke="#077101"/>
<circle cx="875.2" cy="1875.7" r="3.7" fill="#00BE67" stroke="#00753F"/>
<circle cx="876.4" cy="1874.1" r="3.7" fill="#00BE67" stroke="#00753F"/>
<circle cx="877.2" cy="1879.8" r="3.3" fill="#00BE67" stroke="#00753F"/>
<circle cx="884.1" cy="1875.7" r="3.7" fill="#00BE67" stroke="#00753F"/>
<circle cx="888.6" cy="1862.2" r="4.1" fill="#00BE67" stroke="#00753F"/>
<circle cx="889.8" cy="1860.6" r="4.1" fill="#00BE67" stroke="#00753F"/>
<circle cx="891.7" cy="1857.1" r="4.1" fill="#00BE67" stroke="#00753F"/>
<circle cx="897.9" cy="1847.8" r="4.1" fill="#00BE67" stroke="#00753F"/>
<circle cx="899.1" cy="1846.2" r="4.1" fill="#00BE67" stroke="#00753F"/>
<circle cx="899.0" cy="1843.6" r="4.1" fill="#00BE67" stroke="#00753F"/>
<circle cx="901.0" cy="1839.5" r="4.1" fill="#00BE67" stroke="#00753F"/>
<circle cx="904.2" cy="1835.3" r="4.1" fill="#00BE67" stroke="#00753F"/>
<circle cx="903.1" cy="1836.4" r="4.1" fill="#00BE67" stroke="#00753F"/>
<circle cx="909.3" cy="1832.2" r="4.6" fill="#00BE67" stroke="#00753F"/>
<circle cx="901.0" cy="1832.2" r="4.1" fill="#00BE67" stroke="#00753F"/>
<circle cx="910.4" cy="1814.6" r="4.6" fill="#00BE67" stroke="#00753F"/>
<circle cx="911.6" cy="1813.0" r="4.6" fill="#00BE67" stroke="#00753F"/>
<circle cx="916.6" cy="1819.8" r="4.6" fill="#00BE67" stroke="#00753F"/>
<circle cx="917.8" cy="1818.2" r="4.6" fill="#00BE67" stroke="#00753F"/>
<circle cx="920.7" cy="1810.5" r="4.6" fill="#00BE67" stroke="#00753F"/>
<circle cx="923.8" cy="1805.3" r="4.6" fill="#00BE67" stroke="#00753F"/>
<circle cx="926.9" cy="1800.1" r="4.6" fill="#00BE67" stroke="#00753F"/>
<circle cx="930.0" cy="1795.0" r="4.6" fill="#00BE67" stroke="#00753F"/>
<circle cx="905.8" cy="1796.4" r="4.1" fill="#00BE67" stroke="#00753F"/>
<circle cx="936.7" cy="1782.6" r="5.0" fill="#00BE67" stroke="#00753F"/>
<circle cx="911.4" cy="1772.8" r="4.1" fill="#00BE67" stroke="#00753F"/>
<circle cx="918.6" cy="1770.1" r="4.1" fill="#00BE67" stroke="#00753F"/>
<circle cx="925.5" cy="1769.1" r="4.1" fill="#00BE67" stroke="#00753F"/>
<circle cx="942.4" cy="1770.1" r="5.4" fill="#00BE67" stroke="#00753F"/>
<circle cx="944.9" cy="1766.0" r="5.8" fill="#00BE67" stroke="#00753F"/>
<circle cx="946.1" cy="1764.4" r="5.8" fill="#00BE67" stroke="#00753F"/>
<circle cx="928.6" cy="1757.7" r="4.6" fill="#00BE67" stroke="#00753F"/>
<circle cx="930.0" cy="1752.5" r="4.6" fill="#00BE67" stroke="#00753F"/>
<circle cx="950.7" cy="1752.5" r="6.2" fill="#00BE67" stroke="#00753F"/>
<circle cx="951.9" cy="1750.9" r="6.2" fill="#00BE67" stroke="#00753F"/>
<circle cx="954.9" cy="1746.3" r="5.8" fill="#00BE67" stroke="#00753F"/>
<circle cx="935.2" cy="1733.9" r="5.0" fill="#00BE67" stroke="#00753F"/>
<circle cx="938.9" cy="1674.9" r="5.4" fill="#00BE67" stroke="#00753F"/>
<circle cx="941.0" cy="1610.1" r="5.4" fill="#00BE67" stroke="#00753F"/>
<circle cx="938.9" cy="1624.6" r="5.4" fill="#00BE67" stroke="#00753F"/>
<circle cx="960.0" cy="1636.6" r="6.2" fill="#00BE67" stroke="#00753F"/>
<circle cx="943.1" cy="1548.2" r="5.4" fill="#00BE67" stroke="#00753F"/>
<circle cx="894.8" cy="1851.9" r="4.1" fill="#00BE67" stroke="#00753F"/>
<circle cx="913.5" cy="1822.9" r="4.6" fill="#00BE67" stroke="#00753F"/>
<circle cx="918.6" cy="1815.7" r="4.6" fill="#00BE67" stroke="#00753F"/>
<circle cx="985.3" cy="1677.0" r="7.9" fill="#00C19A" stroke="#00775F"/>
<circle cx="997.9" cy="1868.5" r="3.7" fill="#00C19A" stroke="#00775F"/>
<circle cx="1020.1" cy="1839.5" r="4.6" fill="#00C19A" stroke="#00775F"/>
<circle cx="1032.1" cy="1796.6" r="4.6" fill="#00C19A" stroke="#00775F"/>
<circle cx="1033.5" cy="1816.7" r="4.6" fill="#00C19A" stroke="#00775F"/>
<circle cx="1034.7" cy="1815.1" r="4.6" fill="#00C19A" stroke="#00775F"/>
<circle cx="1036.0" cy="1812.6" r="4.6" fill="#00C19A" stroke="#00775F"/>
<circle cx="1036.0" cy="1691.5" r="5.0" fill="#00C19A" stroke="#00775F"/>
<circle cx="1046.6" cy="1749.0" r="5.4" fill="#00C19A" stroke="#00775F"/>
<circle cx="1065.6" cy="1754.6" r="5.8" fill="#00C19A" stroke="#00775F"/>
<circle cx="1069.8" cy="1745.3" r="6.2" fill="#00C19A" stroke="#00775F"/>
<circle cx="1107.6" cy="1873.6" r="3.7" fill="#00BFC4" stroke="#007679"/>
<circle cx="1114.7" cy="1867.4" r="3.7" fill="#00BFC4" stroke="#007679"/>
<circle cx="1133.8" cy="1832.2" r="4.6" fill="#00BFC4" stroke="#007679"/>
<circle cx="1135.0" cy="1830.6" r="4.6" fill="#00BFC4" stroke="#007679"/>
<circle cx="1143.5" cy="1808.4" r="4.6" fill="#00BFC4" stroke="#007679"/>
<circle cx="1146.2" cy="1770.1" r="5.0" fill="#00BFC4" stroke="#007679"/>
<circle cx="1160.7" cy="1717.3" r="5.4" fill="#00BFC4" stroke="#007679"/>
<circle cx="1183.5" cy="1749.0" r="6.2" fill="#00BFC4" stroke="#007679"/>
<circle cx="1172.7" cy="1654.2" r="5.8" fill="#00BFC4" stroke="#007679"/>
<circle cx="1201.1" cy="1710.1" r="6.6" fill="#00BFC4" stroke="#007679"/>
<circle cx="1202.3" cy="1708.5" r="6.6" fill="#00BFC4" stroke="#007679"/>
<circle cx="1204.2" cy="1704.9" r="6.6" fill="#00BFC4" stroke="#007679"/>
<circle cx="1205.4" cy="1703.3" r="6.6" fill="#00BFC4" stroke="#007679"/>
<circle cx="1209.4" cy="1691.5" r="7.2" fill="#00BFC4" stroke="#007679"/>
<circle cx="1206.3" cy="1698.7" r="6.6" fill="#00BFC4" stroke="#007679"/>
<circle cx="1216.6" cy="1877.8" r="3.3" fill="#00B8E7" stroke="#00728F"/>
<circle cx="1222.8" cy="1873.6" r="3.7" fill="#00B8E7" stroke="#00728F"/>
<circle cx="1227.0" cy="1871.6" r="3.7" fill="#00B8E7" stroke="#00728F"/>
<circle cx="1230.1" cy="1870.5" r="3.7" fill="#00B8E7" stroke="#00728F"/>
<circle cx="1234.2" cy="1862.2" r="3.7" fill="#00B8E7" stroke="#00728F"/>
<circle cx="1237.3" cy="1856.0" r="3.7" fill="#00B8E7" stroke="#00728F"/>
<circle cx="1240.4" cy="1850.9" r="4.1" fill="#00B8E7" stroke="#00728F"/>
<circle cx="1243.5" cy="1845.7" r="4.1" fill="#00B8E7" stroke="#00728F"/>
<circle cx="1246.6" cy="1840.5" r="4.1" fill="#00B8E7" stroke="#00728F"/>
<circle cx="1249.7" cy="1836.4" r="4.1" fill="#00B8E7" stroke="#00728F"/>
<circle cx="1252.8" cy="1832.2" r="4.1" fill="#00B8E7" stroke="#00728F"/>
<circle cx="1255.9" cy="1828.1" r="4.1" fill="#00B8E7" stroke="#00728F"/>
<circle cx="1259.0" cy="1823.9" r="4.1" fill="#00B8E7" stroke="#00728F"/>
<circle cx="1262.1" cy="1819.8" r="4.6" fill="#00B8E7" stroke="#00728F"/>
<circle cx="1265.2" cy="1814.6" r="4.6" fill="#00B8E7" stroke="#00728F"/>
<circle cx="1268.4" cy="1809.5" r="4.6" fill="#00B8E7" stroke="#00728F"/>
<circle cx="1271.5" cy="1804.3" r="4.6" fill="#00B8E7" stroke="#00728F"/>
<circle cx="1274.6" cy="1799.1" r="4.6" fill="#00B8E7" stroke="#00728F"/>
<circle cx="1277.7" cy="1793.9" r="5.0" fill="#00B8E7" stroke="#00728F"/>
<circle cx="1279.7" cy="1788.8" r="5.0" fill="#00B8E7" stroke="#00728F"/>
<circle cx="1281.8" cy="1783.6" r="5.0" fill="#00B8E7" stroke="#00728F"/>
<circle cx="1283.9" cy="1778.4" r="5.0" fill="#00B8E7" stroke="#00728F"/>
<circle cx="1285.9" cy="1773.2" r="5.0" fill="#00B8E7" stroke="#00728F"/>
<circle cx="1288.0" cy="1768.1" r="5.0" fill="#00B8E7" stroke="#00728F"/>
<circle cx="1290.1" cy="1762.9" r="5.0" fill="#00B8E7" stroke="#00728F"/>
<circle cx="1292.2" cy="1757.7" r="5.4" fill="#00B8E7" stroke="#00728F"/>
<circle cx="1294.2" cy="1752.5" r="5.4" fill="#00B8E7" stroke="#00728F"/>
<circle cx="1296.3" cy="1747.4" r="5.4" fill="#00B8E7" stroke="#00728F"/>
<circle cx="1298.4" cy="1742.2" r="5.4" fill="#00B8E7" stroke="#00728F"/>
<circle cx="1300.4" cy="1738.0" r="5.4" fill="#00B8E7" stroke="#00728F"/>
<circle cx="1302.5" cy="1733.9" r="5.8" fill="#00B8E7" stroke="#00728F"/>
<circle cx="1305.6" cy="1729.8" r="5.8" fill="#00B8E7" stroke="#00728F"/>
<circle cx="1308.7" cy="1726.7" r="6.2" fill="#00B8E7" stroke="#00728F"/>
<circle cx="1310.8" cy="1724.6" r="6.2" fill="#00B8E7" stroke="#00728F"/>
<circle cx="1250.8" cy="1811.5" r="4.1" fill="#00B8E7" stroke="#00728F"/>
<circle cx="1248.7" cy="1821.9" r="4.1" fill="#00B8E7" stroke="#00728F"/>
<circle cx="1259.0" cy="1805.3" r="4.1" fill="#00B8E7" stroke="#00728F"/>
<circle cx="1263.2" cy="1795.0" r="4.1" fill="#00B8E7" stroke="#00728F"/>
<circle cx="1265.7" cy="1785.7" r="4.1" fill="#00B8E7" stroke="#00728F"/>
<circle cx="1272.9" cy="1762.9" r="5.4" fill="#00B8E7" stroke="#00728F"/>
<circle cx="1274.1" cy="1761.3" r="5.4" fill="#00B8E7" stroke="#00728F"/>
<circle cx="1260.7" cy="1750.5" r="4.6" fill="#00B8E7" stroke="#00728F"/>
<circle cx="1271.9" cy="1738.0" r="4.6" fill="#00B8E7" stroke="#00728F"/>
<circle cx="1283.9" cy="1723.6" r="5.4" fill="#00B8E7" stroke="#00728F"/>
<circle cx="1282.8" cy="1728.3" r="5.4" fill="#00B8E7" stroke="#00728F"/>
<circle cx="1292.2" cy="1693.5" r="5.4" fill="#00B8E7" stroke="#00728F"/>
<circle cx="1294.8" cy="1684.8" r="5.4" fill="#00B8E7" stroke="#00728F"/>
<circle cx="1283.9" cy="1675.9" r="5.8" fill="#00B8E7" stroke="#00728F"/>
<circle cx="1285.1" cy="1674.3" r="5.8" fill="#00B8E7" stroke="#00728F"/>
<circle cx="1317.0" cy="1707.0" r="6.2" fill="#00B8E7" stroke="#00728F"/>
<circle cx="1320.1" cy="1698.7" r="6.6" fill="#00B8E7" stroke="#00728F"/>
<circle cx="1323.2" cy="1692.5" r="6.6" fill="#00B8E7" stroke="#00728F"/>
<circle cx="1325.3" cy="1686.3" r="6.6" fill="#00B8E7" stroke="#00728F"/>
<circle cx="1329.4" cy="1680.1" r="7.5" fill="#00B8E7" stroke="#00728F"/>
<circle cx="1339.4" cy="1657.7" r="8.7" fill="#00B8E7" stroke="#00728F"/>
<circle cx="1340.6" cy="1656.1" r="8.7" fill="#00B8E7" stroke="#00728F"/>
<circle cx="1348.0" cy="1636.6" r="9.3" fill="#00B8E7" stroke="#00728F"/>
<circle cx="1349.2" cy="1635.0" r="9.3" fill="#00B8E7" stroke="#00728F"/>
<circle cx="1357.8" cy="1613.8" r="9.9" fill="#00B8E7" stroke="#00728F"/>
<circle cx="1362.1" cy="1601.4" r="10.3" fill="#00B8E7" stroke="#00728F"/>
<circle cx="1363.3" cy="1599.8" r="10.3" fill="#00B8E7" stroke="#00728F"/>
<circle cx="1368.3" cy="1585.9" r="10.3" fill="#00B8E7" stroke="#00728F"/>
<circle cx="1369.5" cy="1584.3" r="10.3" fill="#00B8E7" stroke="#00728F"/>
<circle cx="1297.3" cy="1605.2" r="6.2" fill="#00B8E7" stroke="#00728F"/>
<circle cx="1311.8" cy="1610.7" r="6.6" fill="#00B8E7" stroke="#00728F"/>
<circle cx="1290.1" cy="1533.1" r="5.2" fill="#00B8E7" stroke="#00728F"/>
<circle cx="1297.3" cy="1534.8" r="5.8" fill="#00B8E7" stroke="#00728F"/>
<circle cx="1332.5" cy="1516.6" r="8.3" fill="#00B8E7" stroke="#00728F"/>
<circle cx="1325.3" cy="1884.0" r="3.1" fill="#00A9FF" stroke="#00689E"/>
<circle cx="1344.9" cy="1866.4" r="3.3" fill="#00A9FF" stroke="#00689E"/>
<circle cx="1353.1" cy="1857.1" r="3.7" fill="#00A9FF" stroke="#00689E"/>
<circle cx="1352.1" cy="1861.2" r="3.7" fill="#00A9FF" stroke="#00689E"/>
<circle cx="1353.3" cy="1859.6" r="3.7" fill="#00A9FF" stroke="#00689E"/>
<circle cx="1353.1" cy="1866.4" r="3.3" fill="#00A9FF" stroke="#00689E"/>
<circle cx="1361.4" cy="1836.4" r="4.1" fill="#00A9FF" stroke="#00689E"/>
<circle cx="1362.6" cy="1834.8" r="4.1" fill="#00A9FF" stroke="#00689E"/>
<circle cx="1363.5" cy="1842.6" r="3.7" fill="#00A9FF" stroke="#00689E"/>
<circle cx="1370.7" cy="1816.7" r="4.1" fill="#00A9FF" stroke="#00689E"/>
<circle cx="1374.8" cy="1825.0" r="3.7" fill="#00A9FF" stroke="#00689E"/>
<circle cx="1380.0" cy="1815.7" r="4.1" fill="#00A9FF" stroke="#00689E"/>
<circle cx="1381.2" cy="1814.1" r="4.1" fill="#00A9FF" stroke="#00689E"/>
<circle cx="1382.7" cy="1811.5" r="4.6" fill="#00A9FF" stroke="#00689E"/>
<circle cx="1382.5" cy="1781.9" r="4.1" fill="#00A9FF" stroke="#00689E"/>
<circle cx="1391.0" cy="1795.6" r="4.6" fill="#00A9FF" stroke="#00689E"/>
<circle cx="1389.3" cy="1761.4" r="4.6" fill="#00A9FF" stroke="#00689E"/>
<circle cx="1392.4" cy="1748.0" r="4.6" fill="#00A9FF" stroke="#00689E"/>
<circle cx="1406.5" cy="1765.0" r="5.2" fill="#00A9FF" stroke="#00689E"/>
<circle cx="1411.7" cy="1752.5" r="5.4" fill="#00A9FF" stroke="#00689E"/>
<circle cx="1415.8" cy="1745.3" r="5.8" fill="#00A9FF" stroke="#00689E"/>
<circle cx="1409.0" cy="1688.4" r="5.4" fill="#00A9FF" stroke="#00689E"/>
<circle cx="1411.7" cy="1675.9" r="5.4" fill="#00A9FF" stroke="#00689E"/>
<circle cx="1414.2" cy="1662.5" r="5.8" fill="#00A9FF" stroke="#00689E"/>
<circle cx="1415.4" cy="1660.9" r="5.8" fill="#00A9FF" stroke="#00689E"/>
<circle cx="1416.2" cy="1658.4" r="5.8" fill="#00A9FF" stroke="#00689E"/>
<circle cx="1396.6" cy="1654.8" r="4.6" fill="#00A9FF" stroke="#00689E"/>
<circle cx="1420.0" cy="1643.2" r="5.8" fill="#00A9FF" stroke="#00689E"/>
<circle cx="1438.4" cy="1696.2" r="6.6" fill="#00A9FF" stroke="#00689E"/>
<circle cx="1411.5" cy="1548.2" r="5.4" fill="#00A9FF" stroke="#00689E"/>
<circle cx="1444.2" cy="1529.6" r="7.2" fill="#00A9FF" stroke="#00689E"/>
<circle cx="1449.4" cy="1877.1" r="3.1" fill="#8494FF" stroke="#515B9E"/>
<circle cx="1469.0" cy="1855.6" r="3.7" fill="#8494FF" stroke="#515B9E"/>
<circle cx="1482.5" cy="1837.4" r="3.7" fill="#8494FF" stroke="#515B9E"/>
<circle cx="1484.5" cy="1833.3" r="3.7" fill="#8494FF" stroke="#515B9E"/>
<circle cx="1492.4" cy="1820.8" r="4.1" fill="#8494FF" stroke="#515B9E"/>
<circle cx="1493.6" cy="1819.2" r="4.1" fill="#8494FF" stroke="#515B9E"/>
<circle cx="1494.9" cy="1817.7" r="4.1" fill="#8494FF" stroke="#515B9E"/>
<circle cx="1499.5" cy="1808.4" r="4.6" fill="#8494FF" stroke="#515B9E"/>
<circle cx="1518.1" cy="1772.8" r="5.0" fill="#8494FF" stroke="#515B9E"/>
<circle cx="1524.5" cy="1759.2" r="5.4" fill="#8494FF" stroke="#515B9E"/>
<circle cx="1535.7" cy="1735.6" r="5.8" fill="#8494FF" stroke="#515B9E"/>
<circle cx="1548.3" cy="1708.0" r="6.6" fill="#8494FF" stroke="#515B9E"/>
<circle cx="1533.2" cy="1652.1" r="5.8" fill="#8494FF" stroke="#515B9E"/>
<circle cx="1517.3" cy="1613.8" r="5.0" fill="#8494FF" stroke="#515B9E"/>
<circle cx="1517.3" cy="1567.9" r="5.0" fill="#8494FF" stroke="#515B9E"/>
<circle cx="1522.2" cy="1580.3" r="5.4" fill="#8494FF" stroke="#515B9E"/>
<circle cx="1549.8" cy="1578.0" r="6.6" fill="#8494FF" stroke="#515B9E"/>
<circle cx="1560.7" cy="1532.7" r="7.2" fill="#8494FF" stroke="#515B9E"/>
<circle cx="1547.7" cy="1887.1" r="3.1" fill="#C77CFF" stroke="#7B4C9E"/>
<circle cx="1551.8" cy="1886.0" r="3.1" fill="#C77CFF" stroke="#7B4C9E"/>
<circle cx="1552.6" cy="1885.3" r="3.1" fill="#C77CFF" stroke="#7B4C9E"/>
<circle cx="1556.0" cy="1888.1" r="3.1" fill="#C77CFF" stroke="#7B4C9E"/>
<circle cx="1555.9" cy="1888.0" r="3.1" fill="#C77CFF" stroke="#7B4C9E"/>
<circle cx="1562.2" cy="1889.2" r="3.1" fill="#C77CFF" stroke="#7B4C9E"/>
<circle cx="1557.0" cy="1882.9" r="3.3" fill="#C77CFF" stroke="#7B4C9E"/>
<circle cx="1563.2" cy="1878.8" r="3.7" fill="#C77CFF" stroke="#7B4C9E"/>
<circle cx="1567.3" cy="1875.7" r="3.7" fill="#C77CFF" stroke="#7B4C9E"/>
<circle cx="1567.8" cy="1876.6" r="3.7" fill="#C77CFF" stroke="#7B4C9E"/>
<circle cx="1571.5" cy="1872.6" r="3.7" fill="#C77CFF" stroke="#7B4C9E"/>
<circle cx="1570.3" cy="1871.2" r="3.7" fill="#C77CFF" stroke="#7B4C9E"/>
<circle cx="1575.6" cy="1869.5" r="3.7" fill="#C77CFF" stroke="#7B4C9E"/>
<circle cx="1576.6" cy="1869.3" r="3.7" fill="#C77CFF" stroke="#7B4C9E"/>
<circle cx="1579.8" cy="1864.3" r="3.7" fill="#C77CFF" stroke="#7B4C9E"/>
<circle cx="1580.6" cy="1862.8" r="3.7" fill="#C77CFF" stroke="#7B4C9E"/>
<circle cx="1582.9" cy="1860.2" r="3.7" fill="#C77CFF" stroke="#7B4C9E"/>
<circle cx="1582.7" cy="1860.8" r="3.7" fill="#C77CFF" stroke="#7B4C9E"/>
<circle cx="1586.0" cy="1855.0" r="3.7" fill="#C77CFF" stroke="#7B4C9E"/>
<circle cx="1585.2" cy="1856.3" r="3.7" fill="#C77CFF" stroke="#7B4C9E"/>
<circle cx="1588.0" cy="1850.9" r="3.7" fill="#C77CFF" stroke="#7B4C9E"/>
<circle cx="1589.3" cy="1849.5" r="3.7" fill="#C77CFF" stroke="#7B4C9E"/>
<circle cx="1565.3" cy="1877.1" r="3.7" fill="#C77CFF" stroke="#7B4C9E"/>
<circle cx="1563.9" cy="1877.3" r="3.7" fill="#C77CFF" stroke="#7B4C9E"/>
<circle cx="1569.4" cy="1874.2" r="3.7" fill="#C77CFF" stroke="#7B4C9E"/>
<circle cx="1570.7" cy="1873.9" r="3.7" fill="#C77CFF" stroke="#7B4C9E"/>
<circle cx="1573.6" cy="1870.9" r="3.7" fill="#C77CFF" stroke="#7B4C9E"/>
<circle cx="1572.7" cy="1870.7" r="3.7" fill="#C77CFF" stroke="#7B4C9E"/>
<circle cx="1577.7" cy="1866.8" r="3.7" fill="#C77CFF" stroke="#7B4C9E"/>
<circle cx="1576.3" cy="1866.0" r="3.7" fill="#C77CFF" stroke="#7B4C9E"/>
<circle cx="1581.4" cy="1862.2" r="3.7" fill="#C77CFF" stroke="#7B4C9E"/>
<circle cx="1581.2" cy="1862.2" r="3.7" fill="#C77CFF" stroke="#7B4C9E"/>
<circle cx="1584.3" cy="1857.7" r="3.7" fill="#C77CFF" stroke="#7B4C9E"/>
<circle cx="1583.5" cy="1856.9" r="3.7" fill="#C77CFF" stroke="#7B4C9E"/>
<circle cx="1587.0" cy="1852.9" r="3.7" fill="#C77CFF" stroke="#7B4C9E"/>
<circle cx="1586.2" cy="1852.8" r="3.7" fill="#C77CFF" stroke="#7B4C9E"/>
<circle cx="1593.1" cy="1845.7" r="4.1" fill="#C77CFF" stroke="#7B4C9E"/>
<circle cx="1592.5" cy="1844.2" r="4.1" fill="#C77CFF" stroke="#7B4C9E"/>
<circle cx="1596.2" cy="1839.5" r="4.1" fill="#C77CFF" stroke="#7B4C9E"/>
<circle cx="1597.2" cy="1839.6" r="4.1" fill="#C77CFF" stroke="#7B4C9E"/>
<circle cx="1599.3" cy="1833.3" r="4.1" fill="#C77CFF" stroke="#7B4C9E"/>
<circle cx="1599.7" cy="1832.3" r="4.1" fill="#C77CFF" stroke="#7B4C9E"/>
<circle cx="1602.4" cy="1827.1" r="4.1" fill="#C77CFF" stroke="#7B4C9E"/>
<circle cx="1603.9" cy="1828.1" r="4.1" fill="#C77CFF" stroke="#7B4C9E"/>
<circle cx="1605.5" cy="1820.8" r="4.1" fill="#C77CFF" stroke="#7B4C9E"/>
<circle cx="1604.4" cy="1820.3" r="4.1" fill="#C77CFF" stroke="#7B4C9E"/>
<circle cx="1608.6" cy="1814.6" r="4.1" fill="#C77CFF" stroke="#7B4C9E"/>
<circle cx="1609.3" cy="1815.3" r="4.1" fill="#C77CFF" stroke="#7B4C9E"/>
<circle cx="1611.7" cy="1810.5" r="4.1" fill="#C77CFF" stroke="#7B4C9E"/>
<circle cx="1613.0" cy="1810.3" r="4.1" fill="#C77CFF" stroke="#7B4C9E"/>
<circle cx="1614.8" cy="1806.4" r="4.1" fill="#C77CFF" stroke="#7B4C9E"/>
<circle cx="1615.8" cy="1806.9" r="4.1" fill="#C77CFF" stroke="#7B4C9E"/>
<circle cx="1617.9" cy="1800.1" r="4.6" fill="#C77CFF" stroke="#7B4C9E"/>
<circle cx="1617.4" cy="1800.4" r="4.6" fill="#C77CFF" stroke="#7B4C9E"/>
<circle cx="1621.0" cy="1793.9" r="4.6" fill="#C77CFF" stroke="#7B4C9E"/>
<circle cx="1622.2" cy="1795.0" r="4.6" fill="#C77CFF" stroke="#7B4C9E"/>
<circle cx="1624.2" cy="1787.7" r="4.6" fill="#C77CFF" stroke="#7B4C9E"/>
<circle cx="1624.2" cy="1788.0" r="4.6" fill="#C77CFF" stroke="#7B4C9E"/>
<circle cx="1627.3" cy="1781.5" r="4.6" fill="#C77CFF" stroke="#7B4C9E"/>
<circle cx="1625.9" cy="1780.7" r="4.6" fill="#C77CFF" stroke="#7B4C9E"/>
<circle cx="1630.4" cy="1775.3" r="4.6" fill="#C77CFF" stroke="#7B4C9E"/>
<circle cx="1631.3" cy="1775.0" r="4.6" fill="#C77CFF" stroke="#7B4C9E"/>
<circle cx="1633.5" cy="1769.1" r="4.6" fill="#C77CFF" stroke="#7B4C9E"/>
<circle cx="1632.5" cy="1769.2" r="4.6" fill="#C77CFF" stroke="#7B4C9E"/>
<circle cx="1636.6" cy="1762.9" r="4.6" fill="#C77CFF" stroke="#7B4C9E"/>
<circle cx="1637.2" cy="1763.4" r="4.6" fill="#C77CFF" stroke="#7B4C9E"/>
<circle cx="1639.7" cy="1756.7" r="4.6" fill="#C77CFF" stroke="#7B4C9E"/>
<circle cx="1639.3" cy="1756.5" r="4.6" fill="#C77CFF" stroke="#7B4C9E"/>
<circle cx="1642.8" cy="1750.5" r="5.0" fill="#C77CFF" stroke="#7B4C9E"/>
<circle cx="1642.8" cy="1751.3" r="5.0" fill="#C77CFF" stroke="#7B4C9E"/>
<circle cx="1645.9" cy="1744.3" r="5.0" fill="#C77CFF" stroke="#7B4C9E"/>
<circle cx="1646.0" cy="1743.9" r="5.0" fill="#C77CFF" stroke="#7B4C9E"/>
<circle cx="1649.0" cy="1738.0" r="5.0" fill="#C77CFF" stroke="#7B4C9E"/>
<circle cx="1649.0" cy="1736.6" r="5.0" fill="#C77CFF" stroke="#7B4C9E"/>
<circle cx="1652.1" cy="1731.8" r="5.0" fill="#C77CFF" stroke="#7B4C9E"/>
<circle cx="1650.7" cy="1732.4" r="5.0" fill="#C77CFF" stroke="#7B4C9E"/>
<circle cx="1655.2" cy="1725.6" r="5.0" fill="#C77CFF" stroke="#7B4C9E"/>
<circle cx="1656.7" cy="1725.9" r="5.0" fill="#C77CFF" stroke="#7B4C9E"/>
<circle cx="1658.3" cy="1719.4" r="5.2" fill="#C77CFF" stroke="#7B4C9E"/>
<circle cx="1658.0" cy="1718.4" r="5.2" fill="#C77CFF" stroke="#7B4C9E"/>
<circle cx="1660.4" cy="1713.2" r="5.2" fill="#C77CFF" stroke="#7B4C9E"/>
<circle cx="1661.6" cy="1711.6" r="5.2" fill="#C77CFF" stroke="#7B4C9E"/>
<circle cx="1591.7" cy="1848.8" r="4.1" fill="#C77CFF" stroke="#7B4C9E"/>
<circle cx="1591.7" cy="1850.2" r="4.1" fill="#C77CFF" stroke="#7B4C9E"/>
<circle cx="1594.6" cy="1842.6" r="4.1" fill="#C77CFF" stroke="#7B4C9E"/>
<circle cx="1595.4" cy="1842.7" r="4.1" fill="#C77CFF" stroke="#7B4C9E"/>
<circle cx="1597.9" cy="1836.4" r="4.1" fill="#C77CFF" stroke="#7B4C9E"/>
<circle cx="1598.9" cy="1835.6" r="4.1" fill="#C77CFF" stroke="#7B4C9E"/>
<circle cx="1600.8" cy="1830.2" r="4.1" fill="#C77CFF" stroke="#7B4C9E"/>
<circle cx="1600.8" cy="1831.5" r="4.1" fill="#C77CFF" stroke="#7B4C9E"/>
<circle cx="1604.1" cy="1823.9" r="4.1" fill="#C77CFF" stroke="#7B4C9E"/>
<circle cx="1604.3" cy="1823.8" r="4.1" fill="#C77CFF" stroke="#7B4C9E"/>
<circle cx="1607.0" cy="1817.7" r="4.1" fill="#C77CFF" stroke="#7B4C9E"/>
<circle cx="1606.3" cy="1817.9" r="4.1" fill="#C77CFF" stroke="#7B4C9E"/>
<circle cx="1610.3" cy="1812.6" r="4.1" fill="#C77CFF" stroke="#7B4C9E"/>
<circle cx="1611.7" cy="1811.1" r="4.1" fill="#C77CFF" stroke="#7B4C9E"/>
<circle cx="1613.2" cy="1808.4" r="4.1" fill="#C77CFF" stroke="#7B4C9E"/>
<circle cx="1614.0" cy="1809.4" r="4.1" fill="#C77CFF" stroke="#7B4C9E"/>
<circle cx="1616.5" cy="1803.2" r="4.6" fill="#C77CFF" stroke="#7B4C9E"/>
<circle cx="1617.7" cy="1804.0" r="4.6" fill="#C77CFF" stroke="#7B4C9E"/>
<circle cx="1619.4" cy="1797.0" r="4.6" fill="#C77CFF" stroke="#7B4C9E"/>
<circle cx="1620.3" cy="1797.1" r="4.6" fill="#C77CFF" stroke="#7B4C9E"/>
<circle cx="1622.7" cy="1790.8" r="4.6" fill="#C77CFF" stroke="#7B4C9E"/>
<circle cx="1622.9" cy="1790.6" r="4.6" fill="#C77CFF" stroke="#7B4C9E"/>
<circle cx="1625.6" cy="1784.6" r="4.6" fill="#C77CFF" stroke="#7B4C9E"/>
<circle cx="1624.3" cy="1785.7" r="4.6" fill="#C77CFF" stroke="#7B4C9E"/>
<circle cx="1628.9" cy="1778.4" r="4.6" fill="#C77CFF" stroke="#7B4C9E"/>
<circle cx="1629.1" cy="1777.5" r="4.6" fill="#C77CFF" stroke="#7B4C9E"/>
<circle cx="1631.8" cy="1772.2" r="4.6" fill="#C77CFF" stroke="#7B4C9E"/>
<circle cx="1631.8" cy="1772.2" r="4.6" fill="#C77CFF" stroke="#7B4C9E"/>
<circle cx="1635.1" cy="1766.0" r="4.6" fill="#C77CFF" stroke="#7B4C9E"/>
<circle cx="1634.7" cy="1765.5" r="4.6" fill="#C77CFF" stroke="#7B4C9E"/>
<circle cx="1638.0" cy="1759.8" r="4.6" fill="#C77CFF" stroke="#7B4C9E"/>
<circle cx="1638.1" cy="1760.2" r="4.6" fill="#C77CFF" stroke="#7B4C9E"/>
<circle cx="1641.3" cy="1753.6" r="5.0" fill="#C77CFF" stroke="#7B4C9E"/>
<circle cx="1641.7" cy="1753.4" r="5.0" fill="#C77CFF" stroke="#7B4C9E"/>
<circle cx="1644.2" cy="1747.4" r="5.0" fill="#C77CFF" stroke="#7B4C9E"/>
<circle cx="1642.8" cy="1746.5" r="5.0" fill="#C77CFF" stroke="#7B4C9E"/>
<circle cx="1647.5" cy="1741.2" r="5.0" fill="#C77CFF" stroke="#7B4C9E"/>
<circle cx="1646.6" cy="1741.4" r="5.0" fill="#C77CFF" stroke="#7B4C9E"/>
<circle cx="1650.4" cy="1734.9" r="5.0" fill="#C77CFF" stroke="#7B4C9E"/>
<circle cx="1651.5" cy="1735.8" r="5.0" fill="#C77CFF" stroke="#7B4C9E"/>
<circle cx="1653.8" cy="1728.7" r="5.0" fill="#C77CFF" stroke="#7B4C9E"/>
<circle cx="1654.6" cy="1729.7" r="5.0" fill="#C77CFF" stroke="#7B4C9E"/>
<circle cx="1656.7" cy="1722.5" r="5.2" fill="#C77CFF" stroke="#7B4C9E"/>
<circle cx="1655.9" cy="1723.5" r="5.2" fill="#C77CFF" stroke="#7B4C9E"/>
<circle cx="1669.7" cy="1694.6" r="6.2" fill="#C77CFF" stroke="#7B4C9E"/>
<circle cx="1671.8" cy="1688.4" r="6.2" fill="#C77CFF" stroke="#7B4C9E"/>
<circle cx="1674.9" cy="1682.2" r="6.2" fill="#C77CFF" stroke="#7B4C9E"/>
<circle cx="1676.9" cy="1675.9" r="6.2" fill="#C77CFF" stroke="#7B4C9E"/>
<circle cx="1678.1" cy="1674.3" r="6.2" fill="#C77CFF" stroke="#7B4C9E"/>
<circle cx="1680.0" cy="1669.7" r="6.6" fill="#C77CFF" stroke="#7B4C9E"/>
<circle cx="1683.1" cy="1663.5" r="6.6" fill="#C77CFF" stroke="#7B4C9E"/>
<circle cx="1685.2" cy="1657.3" r="6.6" fill="#C77CFF" stroke="#7B4C9E"/>
<circle cx="1687.3" cy="1651.1" r="6.6" fill="#C77CFF" stroke="#7B4C9E"/>
<circle cx="1689.4" cy="1644.9" r="7.0" fill="#C77CFF" stroke="#7B4C9E"/>
<circle cx="1692.5" cy="1638.7" r="7.0" fill="#C77CFF" stroke="#7B4C9E"/>
<circle cx="1695.6" cy="1632.5" r="7.2" fill="#C77CFF" stroke="#7B4C9E"/>
<circle cx="1697.6" cy="1626.3" r="7.2" fill="#C77CFF" stroke="#7B4C9E"/>
<circle cx="1702.8" cy="1613.8" r="8.3" fill="#C77CFF" stroke="#7B4C9E"/>
<circle cx="1708.0" cy="1602.5" r="9.3" fill="#C77CFF" stroke="#7B4C9E"/>
<circle cx="1709.2" cy="1600.9" r="9.3" fill="#C77CFF" stroke="#7B4C9E"/>
<circle cx="1598.3" cy="1800.1" r="4.1" fill="#C77CFF" stroke="#7B4C9E"/>
<circle cx="1601.4" cy="1792.9" r="4.1" fill="#C77CFF" stroke="#7B4C9E"/>
<circle cx="1605.5" cy="1789.8" r="4.1" fill="#C77CFF" stroke="#7B4C9E"/>
<circle cx="1604.5" cy="1777.4" r="4.1" fill="#C77CFF" stroke="#7B4C9E"/>
<circle cx="1610.7" cy="1779.4" r="4.6" fill="#C77CFF" stroke="#7B4C9E"/>
<circle cx="1612.8" cy="1769.1" r="4.6" fill="#C77CFF" stroke="#7B4C9E"/>
<circle cx="1614.8" cy="1773.2" r="4.6" fill="#C77CFF" stroke="#7B4C9E"/>
<circle cx="1616.9" cy="1767.0" r="4.1" fill="#C77CFF" stroke="#7B4C9E"/>
<circle cx="1621.5" cy="1754.2" r="4.6" fill="#C77CFF" stroke="#7B4C9E"/>
<circle cx="1625.2" cy="1740.1" r="4.6" fill="#C77CFF" stroke="#7B4C9E"/>
<circle cx="1627.3" cy="1728.7" r="5.0" fill="#C77CFF" stroke="#7B4C9E"/>
<circle cx="1628.5" cy="1727.1" r="5.0" fill="#C77CFF" stroke="#7B4C9E"/>
<circle cx="1620.0" cy="1729.8" r="4.6" fill="#C77CFF" stroke="#7B4C9E"/>
<circle cx="1630.4" cy="1723.6" r="4.6" fill="#C77CFF" stroke="#7B4C9E"/>
<circle cx="1610.3" cy="1725.0" r="4.1" fill="#C77CFF" stroke="#7B4C9E"/>
<circle cx="1634.1" cy="1706.0" r="4.6" fill="#C77CFF" stroke="#7B4C9E"/>
<circle cx="1636.6" cy="1696.6" r="4.6" fill="#C77CFF" stroke="#7B4C9E"/>
<circle cx="1638.6" cy="1688.4" r="4.6" fill="#C77CFF" stroke="#7B4C9E"/>
<circle cx="1640.7" cy="1680.1" r="4.6" fill="#C77CFF" stroke="#7B4C9E"/>
<circle cx="1619.0" cy="1704.9" r="4.6" fill="#C77CFF" stroke="#7B4C9E"/>
<circle cx="1645.9" cy="1665.6" r="5.4" fill="#C77CFF" stroke="#7B4C9E"/>
<circle cx="1645.9" cy="1659.4" r="5.4" fill="#C77CFF" stroke="#7B4C9E"/>
<circle cx="1647.1" cy="1657.8" r="5.4" fill="#C77CFF" stroke="#7B4C9E"/>
<circle cx="1621.0" cy="1664.1" r="4.6" fill="#C77CFF" stroke="#7B4C9E"/>
<circle cx="1652.1" cy="1636.0" r="5.8" fill="#C77CFF" stroke="#7B4C9E"/>
<circle cx="1653.3" cy="1634.4" r="5.8" fill="#C77CFF" stroke="#7B4C9E"/>
<circle cx="1659.3" cy="1606.2" r="6.2" fill="#C77CFF" stroke="#7B4C9E"/>
<circle cx="1660.5" cy="1604.6" r="6.2" fill="#C77CFF" stroke="#7B4C9E"/>
<circle cx="1644.9" cy="1591.1" r="5.4" fill="#C77CFF" stroke="#7B4C9E"/>
<circle cx="1628.3" cy="1602.0" r="4.6" fill="#C77CFF" stroke="#7B4C9E"/>
<circle cx="1621.0" cy="1604.5" r="4.6" fill="#C77CFF" stroke="#7B4C9E"/>
<circle cx="1650.0" cy="1571.0" r="5.8" fill="#C77CFF" stroke="#7B4C9E"/>
<circle cx="1653.1" cy="1550.3" r="5.8" fill="#C77CFF" stroke="#7B4C9E"/>
<circle cx="1655.2" cy="1523.8" r="5.8" fill="#C77CFF" stroke="#7B4C9E"/>
<circle cx="1681.7" cy="1515.9" r="7.2" fill="#C77CFF" stroke="#7B4C9E"/>
<circle cx="1729.3" cy="1553.2" r="11.4" fill="#C77CFF" stroke="#7B4C9E"/>
<circle cx="1674.9" cy="1881.9" r="3.1" fill="#ED68ED" stroke="#924092"/>
<circle cx="1691.0" cy="1867.4" r="3.7" fill="#ED68ED" stroke="#924092"/>
<circle cx="1700.7" cy="1856.0" r="4.1" fill="#ED68ED" stroke="#924092"/>
<circle cx="1707.0" cy="1833.3" r="4.1" fill="#ED68ED" stroke="#924092"/>
<circle cx="1715.2" cy="1834.3" r="4.1" fill="#ED68ED" stroke="#924092"/>
<circle cx="1719.4" cy="1829.1" r="4.6" fill="#ED68ED" stroke="#924092"/>
<circle cx="1721.0" cy="1804.7" r="4.6" fill="#ED68ED" stroke="#924092"/>
<circle cx="1735.5" cy="1798.1" r="5.0" fill="#ED68ED" stroke="#924092"/>
<circle cx="1739.7" cy="1790.2" r="5.0" fill="#ED68ED" stroke="#924092"/>
<circle cx="1747.7" cy="1774.3" r="5.8" fill="#ED68ED" stroke="#924092"/>
<circle cx="1748.9" cy="1772.7" r="5.8" fill="#ED68ED" stroke="#924092"/>
<circle cx="1748.4" cy="1772.2" r="5.8" fill="#ED68ED" stroke="#924092"/>
<circle cx="1755.6" cy="1758.7" r="5.8" fill="#ED68ED" stroke="#924092"/>
<circle cx="1757.7" cy="1752.5" r="5.8" fill="#ED68ED" stroke="#924092"/>
<circle cx="1761.4" cy="1746.3" r="5.8" fill="#ED68ED" stroke="#924092"/>
<circle cx="1765.9" cy="1734.9" r="6.6" fill="#ED68ED" stroke="#924092"/>
<circle cx="1767.1" cy="1733.3" r="6.6" fill="#ED68ED" stroke="#924092"/>
<circle cx="1735.5" cy="1757.7" r="5.0" fill="#ED68ED" stroke="#924092"/>
<circle cx="1739.7" cy="1742.2" r="5.0" fill="#ED68ED" stroke="#924092"/>
<circle cx="1740.9" cy="1740.6" r="5.0" fill="#ED68ED" stroke="#924092"/>
<circle cx="1755.0" cy="1687.7" r="5.8" fill="#ED68ED" stroke="#924092"/>
<circle cx="1785.0" cy="1692.5" r="7.2" fill="#ED68ED" stroke="#924092"/>
<circle cx="1786.2" cy="1690.9" r="7.2" fill="#ED68ED" stroke="#924092"/>
<circle cx="1791.8" cy="1678.0" r="7.2" fill="#ED68ED" stroke="#924092"/>
<circle cx="1803.2" cy="1651.7" r="8.3" fill="#ED68ED" stroke="#924092"/>
<circle cx="1763.9" cy="1567.9" r="6.2" fill="#ED68ED" stroke="#924092"/>
<circle cx="1794.5" cy="1511.4" r="7.2" fill="#ED68ED" stroke="#924092"/>
<circle cx="1796.0" cy="1503.1" r="6.2" fill="#ED68ED" stroke="#924092"/>
<circle cx="1792.9" cy="1878.8" r="3.7" fill="#FF61CC" stroke="#9E3C7E"/>
<circle cx="1794.1" cy="1877.2" r="3.7" fill="#FF61CC" stroke="#9E3C7E"/>
<circle cx="1809.0" cy="1864.3" r="3.7" fill="#FF61CC" stroke="#9E3C7E"/>
<circle cx="1813.6" cy="1858.1" r="3.7" fill="#FF61CC" stroke="#9E3C7E"/>
<circle cx="1818.7" cy="1851.9" r="3.7" fill="#FF61CC" stroke="#9E3C7E"/>
<circle cx="1822.9" cy="1839.5" r="4.1" fill="#FF61CC" stroke="#9E3C7E"/>
<circle cx="1827.0" cy="1839.5" r="4.1" fill="#FF61CC" stroke="#9E3C7E"/>
<circle cx="1827.4" cy="1594.6" r="10.3" fill="#FF61CC" stroke="#9E3C7E"/>
<circle cx="1895.8" cy="1580.7" r="7.2" fill="#FF61CC" stroke="#9E3C7E"/>
<circle cx="1886.9" cy="1616.3" r="6.8" fill="#FF61CC" stroke="#9E3C7E"/>
<circle cx="1881.3" cy="1640.8" r="6.6" fill="#FF61CC" stroke="#9E3C7E"/>
<circle cx="1882.5" cy="1639.2" r="6.6" fill="#FF61CC" stroke="#9E3C7E"/>
<circle cx="1864.2" cy="1659.8" r="5.8" fill="#FF61CC" stroke="#9E3C7E"/>
<circle cx="1876.2" cy="1659.8" r="6.2" fill="#FF61CC" stroke="#9E3C7E"/>
<circle cx="1928.9" cy="1625.2" r="9.3" fill="#FF61CC" stroke="#9E3C7E"/>
<circle cx="1925.6" cy="1633.5" r="9.3" fill="#FF61CC" stroke="#9E3C7E"/>
<circle cx="1906.6" cy="1680.1" r="7.2" fill="#FF61CC" stroke="#9E3C7E"/>
<circle cx="1902.4" cy="1688.4" r="7.2" fill="#FF61CC" stroke="#9E3C7E"/>
<circle cx="1857.5" cy="1692.5" r="5.4" fill="#FF61CC" stroke="#9E3C7E"/>
<circle cx="1860.6" cy="1723.1" r="5.8" fill="#FF61CC" stroke="#9E3C7E"/>
<circle cx="1861.8" cy="1721.5" r="5.8" fill="#FF61CC" stroke="#9E3C7E"/>
<circle cx="1888.6" cy="1719.8" r="6.8" fill="#FF61CC" stroke="#9E3C7E"/>
<circle cx="1879.7" cy="1740.1" r="6.8" fill="#FF61CC" stroke="#9E3C7E"/>
<circle cx="1877.6" cy="1744.3" r="6.2" fill="#FF61CC" stroke="#9E3C7E"/>
<circle cx="1871.0" cy="1757.7" r="5.8" fill="#FF61CC" stroke="#9E3C7E"/>
<circle cx="1843.9" cy="1759.4" r="4.6" fill="#FF61CC" stroke="#9E3C7E"/>
<circle cx="1860.6" cy="1779.0" r="5.4" fill="#FF61CC" stroke="#9E3C7E"/>
<circle cx="1841.0" cy="1816.7" r="4.6" fill="#FF61CC" stroke="#9E3C7E"/>
<circle cx="1897.3" cy="1890.2" r="3.1" fill="#FF68A1" stroke="#9E4063"/>
<circle cx="1898.3" cy="1885.4" r="3.1" fill="#FF68A1" stroke="#9E4063"/>
<circle cx="1910.3" cy="1882.5" r="3.3" fill="#FF68A1" stroke="#9E4063"/>
<circle cx="1924.8" cy="1889.2" r="3.7" fill="#FF68A1" stroke="#9E4063"/>
<circle cx="1919.0" cy="1869.5" r="3.7" fill="#FF68A1" stroke="#9E4063"/>
<circle cx="1922.1" cy="1866.4" r="4.1" fill="#FF68A1" stroke="#9E4063"/>
<circle cx="1923.3" cy="1864.8" r="4.1" fill="#FF68A1" stroke="#9E4063"/>
<circle cx="1926.3" cy="1872.6" r="3.7" fill="#FF68A1" stroke="#9E4063"/>
<circle cx="1929.4" cy="1861.2" r="4.1" fill="#FF68A1" stroke="#9E4063"/>
<circle cx="1933.5" cy="1855.0" r="4.1" fill="#FF68A1" stroke="#9E4063"/>
<circle cx="1936.6" cy="1847.8" r="4.1" fill="#FF68A1" stroke="#9E4063"/>
<circle cx="1943.8" cy="1836.4" r="4.6" fill="#FF68A1" stroke="#9E4063"/>
<circle cx="1945.0" cy="1834.8" r="4.6" fill="#FF68A1" stroke="#9E4063"/>
<circle cx="1950.1" cy="1827.1" r="4.6" fill="#FF68A1" stroke="#9E4063"/>
<circle cx="1953.2" cy="1819.8" r="4.6" fill="#FF68A1" stroke="#9E4063"/>
<circle cx="1956.3" cy="1812.6" r="5.0" fill="#FF68A1" stroke="#9E4063"/>
<circle cx="1957.5" cy="1811.0" r="5.0" fill="#FF68A1" stroke="#9E4063"/>
<circle cx="1959.4" cy="1808.4" r="5.0" fill="#FF68A1" stroke="#9E4063"/>
<circle cx="1960.6" cy="1806.8" r="5.0" fill="#FF68A1" stroke="#9E4063"/>
<circle cx="1962.5" cy="1804.3" r="5.0" fill="#FF68A1" stroke="#9E4063"/>
<circle cx="1939.7" cy="1802.6" r="4.1" fill="#FF68A1" stroke="#9E4063"/>
<circle cx="1944.9" cy="1808.4" r="4.1" fill="#FF68A1" stroke="#9E4063"/>
<circle cx="1949.0" cy="1805.3" r="4.1" fill="#FF68A1" stroke="#9E4063"/>
<circle cx="1944.9" cy="1814.6" r="4.1" fill="#FF68A1" stroke="#9E4063"/>
<circle cx="1959.4" cy="1779.0" r="5.0" fill="#FF68A1" stroke="#9E4063"/>
<circle cx="1970.8" cy="1787.7" r="5.2" fill="#FF68A1" stroke="#9E4063"/>
<circle cx="1975.9" cy="1779.4" r="5.2" fill="#FF68A1" stroke="#9E4063"/>
<circle cx="1980.7" cy="1769.1" r="5.8" fill="#FF68A1" stroke="#9E4063"/>
<circle cx="1981.9" cy="1767.5" r="5.8" fill="#FF68A1" stroke="#9E4063"/>
<circle cx="1967.2" cy="1755.6" r="5.0" fill="#FF68A1" stroke="#9E4063"/>
<circle cx="1989.4" cy="1750.5" r="5.8" fill="#FF68A1" stroke="#9E4063"/>
<circle cx="1992.5" cy="1744.3" r="5.8" fill="#FF68A1" stroke="#9E4063"/>
<circle cx="1995.6" cy="1736.0" r="5.8" fill="#FF68A1" stroke="#9E4063"/>
<circle cx="1999.7" cy="1728.7" r="6.2" fill="#FF68A1" stroke="#9E4063"/>
<circle cx="2002.8" cy="1722.5" r="6.2" fill="#FF68A1" stroke="#9E4063"/>
<circle cx="2004.9" cy="1715.3" r="6.6" fill="#FF68A1" stroke="#9E4063"/>
<circle cx="2008.0" cy="1708.0" r="6.6" fill="#FF68A1" stroke="#9E4063"/>
<circle cx="2010.1" cy="1700.8" r="6.6" fill="#FF68A1" stroke="#9E4063"/>
<circle cx="2012.2" cy="1694.6" r="6.6" fill="#FF68A1" stroke="#9E4063"/>
<circle cx="2012.7" cy="1693.3" r="6.6" fill="#FF68A1" stroke="#9E4063"/>
<circle cx="2015.3" cy="1688.4" r="6.6" fill="#FF68A1" stroke="#9E4063"/>
<circle cx="2017.3" cy="1681.1" r="6.6" fill="#FF68A1" stroke="#9E4063"/>
<circle cx="2020.4" cy="1673.9" r="6.6" fill="#FF68A1" stroke="#9E4063"/>
<circle cx="2024.6" cy="1665.6" r="7.2" fill="#FF68A1" stroke="#9E4063"/>
<circle cx="2027.7" cy="1659.4" r="7.2" fill="#FF68A1" stroke="#9E4063"/>
<circle cx="2030.8" cy="1657.3" r="7.2" fill="#FF68A1" stroke="#9E4063"/>
<circle cx="2036.0" cy="1644.9" r="8.3" fill="#FF68A1" stroke="#9E4063"/>
<circle cx="1965.6" cy="1729.8" r="5.0" fill="#FF68A1" stroke="#9E4063"/>
<circle cx="1967.7" cy="1717.3" r="5.0" fill="#FF68A1" stroke="#9E4063"/>
<circle cx="1975.9" cy="1722.5" r="5.0" fill="#FF68A1" stroke="#9E4063"/>
<circle cx="1974.9" cy="1728.7" r="5.0" fill="#FF68A1" stroke="#9E4063"/>
<circle cx="1984.2" cy="1692.1" r="5.8" fill="#FF68A1" stroke="#9E4063"/>
<circle cx="1985.4" cy="1690.5" r="5.8" fill="#FF68A1" stroke="#9E4063"/>
<circle cx="1987.3" cy="1679.1" r="5.8" fill="#FF68A1" stroke="#9E4063"/>
<circle cx="1971.4" cy="1660.4" r="5.4" fill="#FF68A1" stroke="#9E4063"/>
<circle cx="1980.1" cy="1654.8" r="5.4" fill="#FF68A1" stroke="#9E4063"/>
<circle cx="1995.6" cy="1640.8" r="6.2" fill="#FF68A1" stroke="#9E4063"/>
<circle cx="1996.8" cy="1639.2" r="6.2" fill="#FF68A1" stroke="#9E4063"/>
<circle cx="1997.7" cy="1631.4" r="6.2" fill="#FF68A1" stroke="#9E4063"/>
<circle cx="1998.9" cy="1629.8" r="6.2" fill="#FF68A1" stroke="#9E4063"/>
<circle cx="1988.8" cy="1610.3" r="5.8" fill="#FF68A1" stroke="#9E4063"/>
<circle cx="2004.5" cy="1610.3" r="6.2" fill="#FF68A1" stroke="#9E4063"/>
<circle cx="2013.2" cy="1570.4" r="7.2" fill="#FF68A1" stroke="#9E4063"/>
<circle cx="2065.6" cy="1575.6" r="11.4" fill="#FF68A1" stroke="#9E4063"/>
<circle cx="2053.6" cy="1604.5" r="9.9" fill="#FF68A1" stroke="#9E4063"/>
<circle cx="1977.0" cy="1533.7" r="5.4" fill="#FF68A1" stroke="#9E4063"/>
<circle cx="2001.8" cy="1526.3" r="6.6" fill="#FF68A1" stroke="#9E4063"/>
<circle cx="1931.4" cy="1858.1" r="4.1" fill="#FF68A1" stroke="#9E4063"/>
<circle cx="1947.0" cy="1831.2" r="4.6" fill="#FF68A1" stroke="#9E4063"/>
<circle cx="1954.2" cy="1816.7" r="4.6" fill="#FF68A1" stroke="#9E4063"/>
<circle cx="1987.3" cy="1754.6" r="5.8" fill="#FF68A1" stroke="#9E4063"/>
<circle cx="1997.7" cy="1731.8" r="6.2" fill="#FF68A1" stroke="#9E4063"/>
<circle cx="2005.9" cy="1711.1" r="6.6" fill="#FF68A1" stroke="#9E4063"/>
<circle cx="2011.1" cy="1697.7" r="6.6" fill="#FF68A1" stroke="#9E4063"/>
<circle cx="2016.3" cy="1684.2" r="6.6" fill="#FF68A1" stroke="#9E4063"/>
<circle cx="2022.5" cy="1669.7" r="7.2" fill="#FF68A1" stroke="#9E4063"/>
<circle cx="1386.0" cy="1279.2" r="11.4" fill="#00B8E7" stroke="#00728F"/>
<circle cx="1346.6" cy="1460.1" r="10.0" fill="#00B8E7" stroke="#00728F"/>
<circle cx="1809.8" cy="1258.9" r="10.2" fill="#ED68ED" stroke="#924092"/>
<circle cx="1809.8" cy="1258.9" r="10.2" fill="#ED68ED" stroke="#924092"/>
<circle cx="1809.8" cy="1258.9" r="10.2" fill="#ED68ED" stroke="#924092"/>
<circle cx="1809.8" cy="1258.9" r="10.2" fill="#ED68ED" stroke="#924092"/>
<circle cx="2011.7" cy="1330.0" r="7.3" fill="#FF68A1" stroke="#9E4063"/>
<circle cx="2061.3" cy="1371.4" r="11.4" fill="#FF68A1" stroke="#9E4063"/>
<circle cx="1532.4" cy="1496.9" r="6.2" fill="#8494FF" stroke="#515B9E"/>
<circle cx="1787.7" cy="1420.9" r="7.9" fill="#ED68ED" stroke="#924092"/>
<circle cx="1780.1" cy="1467.6" r="7.3" fill="#ED68ED" stroke="#924092"/>
<circle cx="842.6" cy="1480.4" r="6.9" fill="#0CB702" stroke="#077101"/>
<circle cx="959.5" cy="1472.6" r="6.9" fill="#00BE67" stroke="#00753F"/>
</g>
<text x="81.8" y="1902.7" font-size="30" fill="#4D4D4D" text-anchor="end" font-family="Liberation Sans, Arial, sans-serif">0</text>
<text x="81.8" y="1666.0" font-size="30" fill="#4D4D4D" text-anchor="end" font-family="Liberation Sans, Arial, sans-serif">1</text>
<text x="81.8" y="1429.3" font-size="30" fill="#4D4D4D" text-anchor="end" font-family="Liberation Sans, Arial, sans-serif">2</text>
<text x="1126.2" y="26.4" font-size="34.4" text-anchor="middle" fill="#000" font-family="Liberation Sans, Arial, sans-serif">GWAS Term Enrichment for Browning et al. 2018 Introgressed SAVs</text>
<text x="1126.5" y="1175.2" font-size="34.4" text-anchor="middle" fill="#000" font-family="Liberation Sans, Arial, sans-serif">HPO Term Enrichment for Browning et al. 2018 Introgressed SAVs</text>
<text x="7.6" y="53.3" font-size="58.5" fill="#000" font-family="Liberation Sans, Arial, sans-serif">A</text>
<text x="6.3" y="1201.3" font-size="58.5" fill="#000" font-family="Liberation Sans, Arial, sans-serif">B</text>
<text x="1126" y="1014.5" font-size="34.2" text-anchor="middle" fill="#000" font-family="Liberation Sans, Arial, sans-serif">System</text>
<text x="1126" y="2161.7" font-size="34.2" text-anchor="middle" fill="#000" font-family="Liberation Sans, Arial, sans-serif">System</text>
<text transform="translate(26.5 424.6) rotate(-90)" font-size="34.2" text-anchor="middle" fill="#000" font-family="Liberation Sans, Arial, sans-serif">-log<tspan font-size="21.5" dy="6.5">10</tspan><tspan dy="-6.5">(P)</tspan></text>
<text transform="translate(26.5 1573.1) rotate(-90)" font-size="34.2" text-anchor="middle" fill="#000" font-family="Liberation Sans, Arial, sans-serif">-log<tspan font-size="21.5" dy="6.5">10</tspan><tspan dy="-6.5">(P)</tspan></text>
<text transform="translate(276.9 801.8) rotate(-45)" font-size="30.0" text-anchor="end" fill="#4D4D4D" font-family="Liberation Sans, Arial, sans-serif">behavior</text>
<text transform="translate(386.5 801.8) rotate(-45)" font-size="30.0" text-anchor="end" fill="#4D4D4D" font-family="Liberation Sans, Arial, sans-serif">cardiovascular</text>
<text transform="translate(496.1 801.8) rotate(-45)" font-size="30.0" text-anchor="end" fill="#4D4D4D" font-family="Liberation Sans, Arial, sans-serif">digestive</text>
<text transform="translate(605.6 801.8) rotate(-45)" font-size="30.0" text-anchor="end" fill="#4D4D4D" font-family="Liberation Sans, Arial, sans-serif">endocrine</text>
<text transform="translate(715.2 801.8) rotate(-45)" font-size="30.0" text-anchor="end" fill="#4D4D4D" font-family="Liberation Sans, Arial, sans-serif">hematologic</text>
<text transform="translate(824.8 801.8) rotate(-45)" font-size="30.0" text-anchor="end" fill="#4D4D4D" font-family="Liberation Sans, Arial, sans-serif">immune</text>
<text transform="translate(934.4 801.8) rotate(-45)" font-size="30.0" text-anchor="end" fill="#4D4D4D" font-family="Liberation Sans, Arial, sans-serif">integumentary</text>
<text transform="translate(1044.0 801.8) rotate(-45)" font-size="30.0" text-anchor="end" fill="#4D4D4D" font-family="Liberation Sans, Arial, sans-serif">lymphatic</text>
<text transform="translate(1153.5 801.8) rotate(-45)" font-size="30.0" text-anchor="end" fill="#4D4D4D" font-family="Liberation Sans, Arial, sans-serif">metabolic</text>
<text transform="translate(1263.1 801.8) rotate(-45)" font-size="30.0" text-anchor="end" fill="#4D4D4D" font-family="Liberation Sans, Arial, sans-serif">nervous</text>
<text transform="translate(1372.7 801.8) rotate(-45)" font-size="30.0" text-anchor="end" fill="#4D4D4D" font-family="Liberation Sans, Arial, sans-serif">reproductive</text>
<text transform="translate(1482.3 801.8) rotate(-45)" font-size="30.0" text-anchor="end" fill="#4D4D4D" font-family="Liberation Sans, Arial, sans-serif">respiratory</text>
<text transform="translate(1591.9 801.8) rotate(-45)" font-size="30.0" text-anchor="end" fill="#4D4D4D" font-family="Liberation Sans, Arial, sans-serif">skeletal</text>
<text transform="translate(1701.4 801.8) rotate(-45)" font-size="30.0" text-anchor="end" fill="#4D4D4D" font-family="Liberation Sans, Arial, sans-serif">skeletal muscle</text>
<text transform="translate(1811.0 801.8) rotate(-45)" font-size="30.0" text-anchor="end" fill="#4D4D4D" font-family="Liberation Sans, Arial, sans-serif">urinary</text>
<text transform="translate(1920.6 801.8) rotate(-45)" font-size="30.0" text-anchor="end" fill="#4D4D4D" font-family="Liberation Sans, Arial, sans-serif">other</text>
<text transform="translate(224.1 1950.3) rotate(-45)" font-size="30.0" text-anchor="end" fill="#4D4D4D" font-family="Liberation Sans, Arial, sans-serif">behavior</text>
<text transform="translate(339.5 1950.3) rotate(-45)" font-size="30.0" text-anchor="end" fill="#4D4D4D" font-family="Liberation Sans, Arial, sans-serif">cardiovascular</text>
<text transform="translate(454.9 1950.3) rotate(-45)" font-size="30.0" text-anchor="end" fill="#4D4D4D" font-family="Liberation Sans, Arial, sans-serif">digestive</text>
<text transform="translate(570.2 1950.3) rotate(-45)" font-size="30.0" text-anchor="end" fill="#4D4D4D" font-family="Liberation Sans, Arial, sans-serif">endocrine</text>
<text transform="translate(685.6 1950.3) rotate(-45)" font-size="30.0" text-anchor="end" fill="#4D4D4D" font-family="Liberation Sans, Arial, sans-serif">hematologic</text>
<text transform="translate(801.0 1950.3) rotate(-45)" font-size="30.0" text-anchor="end" fill="#4D4D4D" font-family="Liberation Sans, Arial, sans-serif">immune</text>
<text transform="translate(916.4 1950.3) rotate(-45)" font-size="30.0" text-anchor="end" fill="#4D4D4D" font-family="Liberation Sans, Arial, sans-serif">integumentary</text>
<text transform="translate(1031.8 1950.3) rotate(-45)" font-size="30.0" text-anchor="end" fill="#4D4D4D" font-family="Liberation Sans, Arial, sans-serif">lymphatic</text>
<text transform="translate(1147.1 1950.3) rotate(-45)" font-size="30.0" text-anchor="end" fill="#4D4D4D" font-family="Liberation Sans, Arial, sans-serif">metabolic</text>
<text transform="translate(1262.5 1950.3) rotate(-45)" font-size="30.0" text-anchor="end" fill="#4D4D4D" font-family="Liberation Sans, Arial, sans-serif">nervous</text>
<text transform="translate(1377.9 1950.3) rotate(-45)" font-size="30.0" text-anchor="end" fill="#4D4D4D" font-family="Liberation Sans, Arial, sans-serif">reproductive</text>
<text transform="translate(1493.3 1950.3) rotate(-45)" font-size="30.0" text-anchor="end" fill="#4D4D4D" font-family="Liberation Sans, Arial, sans-serif">respiratory</text>
<text transform="translate(1608.7 1950.3) rotate(-45)" font-size="30.0" text-anchor="end" fill="#4D4D4D" font-family="Liberation Sans, Arial, sans-serif">skeletal</text>
<text transform="translate(1724.0 1950.3) rotate(-45)" font-size="30.0" text-anchor="end" fill="#4D4D4D" font-family="Liberation Sans, Arial, sans-serif">skeletal muscle</text>
<text transform="translate(1839.4 1950.3) rotate(-45)" font-size="30.0" text-anchor="end" fill="#4D4D4D" font-family="Liberation Sans, Arial, sans-serif">urinary</text>
<text transform="translate(1954.8 1950.3) rotate(-45)" font-size="30.0" text-anchor="end" fill="#4D4D4D" font-family="Liberation Sans, Arial, sans-serif">other</text>
<text x="258.8" y="361.3" font-size="22.55" fill="#000" font-family="Liberation Sans, Arial, sans-serif">P wave terminal force</text>
<text x="568.7" y="191.4" font-size="22.55" fill="#000" font-family="Liberation Sans, Arial, sans-serif">Coagulation factor levels</text>
<text x="819.4" y="252.0" font-size="22.55" fill="#000" font-family="Liberation Sans, Arial, sans-serif">Allergy</text>
<text x="617.1" y="329.3" font-size="22.55" fill="#000" font-family="Liberation Sans, Arial, sans-serif">Sjogren's syndrome</text>
<text x="584.7" y="391.4" font-size="22.55" fill="#000" font-family="Liberation Sans, Arial, sans-serif">End-stage coagulation</text>
<text x="913.4" y="360.6" font-size="22.55" fill="#000" font-family="Liberation Sans, Arial, sans-serif">Soluble IL-2</text>
<text x="913.6" y="381.1" font-size="22.55" fill="#000" font-family="Liberation Sans, Arial, sans-serif">receptor subunit α</text>
<text x="960.6" y="289.7" font-size="22.55" fill="#000" font-family="Liberation Sans, Arial, sans-serif">Tumor biomarkers</text>
<text x="943.4" y="170.0" font-size="22.55" fill="#000" font-family="Liberation Sans, Arial, sans-serif"><tspan font-style="italic">H. pylori</tspan> serologic status</text>
<text x="1291.4" y="170.2" font-size="22.7" fill="#000" font-family="Liberation Sans, Arial, sans-serif">Diabetes in response to antihypertensive drug treatment</text>
<text x="1329.6" y="220.0" font-size="22.55" fill="#000" font-family="Liberation Sans, Arial, sans-serif">Asthma and hay fever</text>
<text x="1285.0" y="339.5" font-size="22.55" fill="#000" font-family="Liberation Sans, Arial, sans-serif">Metabolic syndrome</text>
<text x="1132.0" y="367.9" font-size="22.55" fill="#000" font-family="Liberation Sans, Arial, sans-serif">Lipid traits</text>
<text x="1400.7" y="376.6" font-size="22.55" fill="#000" font-family="Liberation Sans, Arial, sans-serif">Prostate cancer</text>
<text x="1283.0" y="428.2" font-size="22.55" fill="#000" font-family="Liberation Sans, Arial, sans-serif">Urinary metabolites</text>
<text x="1848.0" y="93.6" font-size="22.55" fill="#000" font-family="Liberation Sans, Arial, sans-serif">Systemic sclerosis</text>
<text x="1819.4" y="233.7" font-size="22.55" fill="#000" font-family="Liberation Sans, Arial, sans-serif">Serum alkaline</text>
<text x="1782.0" y="253.6" font-size="22.55" fill="#000" font-family="Liberation Sans, Arial, sans-serif">phosphatase levels</text>
<text x="1750.9" y="304.1" font-size="22.55" fill="#000" font-family="Liberation Sans, Arial, sans-serif">Elevated serum CEA levels</text>
<text x="1786.3" y="350.7" font-size="22.55" fill="#000" font-family="Liberation Sans, Arial, sans-serif">Liver enzyme levels</text>
<text x="1729.1" y="386.4" font-size="22.55" fill="#000" font-family="Liberation Sans, Arial, sans-serif">Circulating FGF 23 levels</text>
<text x="1433.4" y="1301.6" font-size="22.55" fill="#000" font-family="Liberation Sans, Arial, sans-serif">Abnormal hip-girdle musculature &</text>
<text x="1468.5" y="1321.9" font-size="22.55" fill="#000" font-family="Liberation Sans, Arial, sans-serif">Abnormal pelvis musculature &</text>
<text x="1452.2" y="1342.2" font-size="22.55" fill="#000" font-family="Liberation Sans, Arial, sans-serif">Pelvic girdle muscle weakness &</text>
<text x="1443.4" y="1362.5" font-size="22.55" fill="#000" font-family="Liberation Sans, Arial, sans-serif">Shoulder girdle muscle weakness</text>
<line x1="816.5" y1="332.7" x2="854.9" y2="388.7" stroke="#000" stroke-width="1.6"/>
<line x1="944.5" y1="313.0" x2="960.5" y2="293.6" stroke="#000" stroke-width="1.6"/>
<line x1="1260.6" y1="387.3" x2="1280.7" y2="407.4" stroke="#000" stroke-width="1.6"/>
<line x1="1781.4" y1="1283.3" x2="1800.5" y2="1269.1" stroke="#000" stroke-width="1.6"/>
</svg>
</div></body></html>
